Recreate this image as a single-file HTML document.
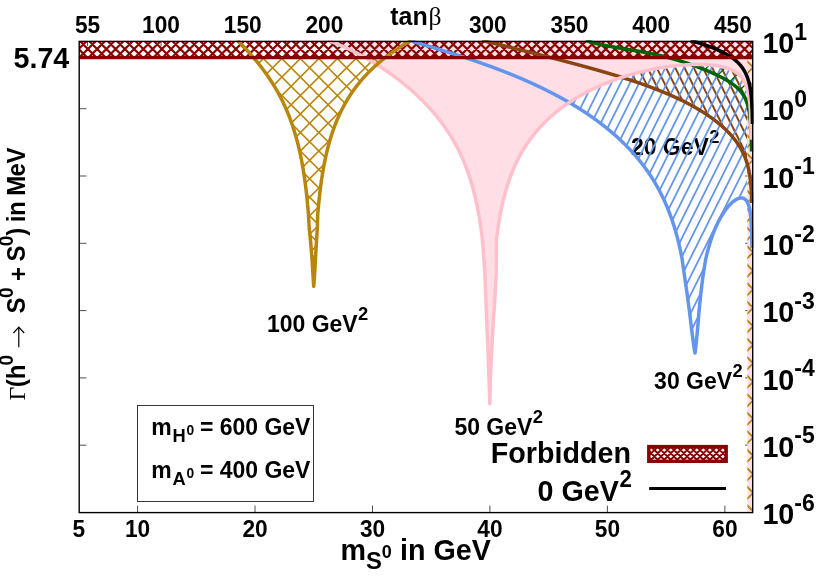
<!DOCTYPE html>
<html><head><meta charset="utf-8"><title>plot</title><style>html,body{margin:0;padding:0;background:#fff}body{width:830px;height:581px;overflow:hidden;font-family:"Liberation Sans",sans-serif}</style></head>
<body>
<svg width="830" height="581" viewBox="0 0 830 581" style="display:block;will-change:transform;opacity:0.999">
<rect width="830" height="581" fill="#fff"/>
<defs>
<clipPath id="cgold"><path d="M253.72,57.83 L253.97,58.12 L254.22,58.42 L254.47,58.71 L254.72,59.01 L254.97,59.31 L255.22,59.61 L255.47,59.91 L255.72,60.21 L255.97,60.51 L256.22,60.81 L256.47,61.12 L256.72,61.42 L256.97,61.73 L257.21,62.03 L257.46,62.34 L257.71,62.65 L257.96,62.96 L258.21,63.27 L258.46,63.58 L258.71,63.89 L258.96,64.21 L259.21,64.52 L259.46,64.84 L259.71,65.16 L259.96,65.47 L260.21,65.79 L260.46,66.11 L260.71,66.44 L260.96,66.76 L261.21,67.08 L261.46,67.41 L261.71,67.74 L261.96,68.06 L262.21,68.39 L262.46,68.72 L262.71,69.06 L262.96,69.39 L263.21,69.72 L263.46,70.06 L263.71,70.39 L263.96,70.73 L264.21,71.07 L264.45,71.41 L264.70,71.76 L264.95,72.10 L265.20,72.45 L265.45,72.79 L265.70,73.14 L265.95,73.49 L266.20,73.84 L266.45,74.19 L266.70,74.55 L266.95,74.90 L267.20,75.26 L267.45,75.62 L267.70,75.98 L267.95,76.34 L268.20,76.71 L268.45,77.07 L268.70,77.44 L268.95,77.81 L269.20,78.18 L269.45,78.55 L269.70,78.93 L269.95,79.30 L270.20,79.68 L270.45,80.06 L270.70,80.44 L270.95,80.83 L271.20,81.21 L271.45,81.60 L271.69,81.99 L271.94,82.38 L272.19,82.77 L272.44,83.17 L272.69,83.56 L272.94,83.96 L273.19,84.37 L273.44,84.77 L273.69,85.18 L273.94,85.58 L274.19,85.99 L274.44,86.41 L274.69,86.82 L274.94,87.24 L275.19,87.66 L275.44,88.08 L275.69,88.51 L275.94,88.93 L276.19,89.36 L276.44,89.80 L276.69,90.23 L276.94,90.67 L277.19,91.11 L277.44,91.55 L277.69,92.00 L277.94,92.44 L278.19,92.90 L278.44,93.35 L278.69,93.81 L278.93,94.27 L279.18,94.73 L279.43,95.20 L279.68,95.66 L279.93,96.14 L280.18,96.61 L280.43,97.09 L280.68,97.57 L280.93,98.06 L281.18,98.55 L281.43,99.04 L281.68,99.53 L281.93,100.03 L282.18,100.54 L282.43,101.04 L282.68,101.55 L282.93,102.07 L283.18,102.59 L283.43,103.11 L283.68,103.63 L283.93,104.16 L284.18,104.70 L284.43,105.24 L284.68,105.78 L284.93,106.33 L285.18,106.88 L285.43,107.44 L285.68,108.00 L285.93,108.56 L286.17,109.13 L286.42,109.71 L286.67,110.29 L286.92,110.87 L287.17,111.47 L287.42,112.06 L287.67,112.66 L287.92,113.27 L288.17,113.88 L288.42,114.50 L288.67,115.13 L288.92,115.76 L289.17,116.39 L289.42,117.04 L289.67,117.69 L289.92,118.34 L290.17,119.00 L290.42,119.67 L290.67,120.35 L290.92,121.03 L291.17,121.72 L291.42,122.42 L291.67,123.13 L291.92,123.84 L292.17,124.56 L292.42,125.29 L292.67,126.03 L292.92,126.78 L293.17,127.54 L293.41,128.30 L293.66,129.08 L293.91,129.86 L294.16,130.65 L294.41,131.46 L294.66,132.27 L294.91,133.10 L295.16,133.93 L295.41,134.78 L295.66,135.64 L295.91,136.51 L296.16,137.39 L296.41,138.29 L296.66,139.20 L296.91,140.12 L297.16,141.06 L297.41,142.01 L297.66,142.97 L297.72,143.22 L297.91,143.95 L298.16,144.95 L298.41,145.96 L298.66,146.99 L298.91,148.04 L299.14,149.03 L299.41,150.18 L299.58,150.97 L299.66,151.29 L299.91,152.41 L300.01,152.90 L300.16,153.55 L300.40,154.72 L300.65,155.91 L300.83,156.76 L300.90,157.12 L301.15,158.36 L301.22,158.69 L301.40,159.62 L301.60,160.62 L301.65,160.91 L301.90,162.22 L301.96,162.54 L302.15,163.57 L302.32,164.46 L302.40,164.95 L302.65,166.35 L302.90,167.80 L302.99,168.31 L303.15,169.27 L303.31,170.23 L303.40,170.79 L303.62,172.15 L303.90,173.93 L304.15,175.57 L304.21,175.99 L304.40,177.25 L304.49,177.90 L304.65,178.99 L304.77,179.82 L304.90,180.77 L305.03,181.73 L305.15,182.61 L305.29,183.65 L305.40,184.50 L305.53,185.56 L305.65,186.46 L305.77,187.47 L305.90,188.48 L306.01,189.38 L306.15,190.58 L306.23,191.29 L306.40,192.75 L306.45,193.20 L306.65,195.00 L306.86,197.02 L306.90,197.34 L307.06,198.93 L307.15,199.77 L307.25,200.84 L307.40,202.31 L307.44,202.74 L307.62,204.65 L307.64,204.97 L307.79,206.56 L307.89,207.75 L307.96,208.46 L308.12,210.37 L308.14,210.66 L308.28,212.27 L308.39,213.72 L308.43,214.17 L309.30,228.80 L310.70,242.50 L311.80,256.30 L312.70,270.10 L313.70,286.30 L314.90,270.10 L315.60,256.30 L316.40,242.50 L317.30,228.80 L317.70,214.91 L317.86,213.03 L317.88,212.73 L318.01,211.15 L318.13,209.79 L318.18,209.27 L318.34,207.39 L318.38,206.99 L318.52,205.52 L318.63,204.33 L318.70,203.64 L318.88,201.78 L319.07,199.88 L319.13,199.34 L319.27,198.01 L319.38,197.00 L319.47,196.13 L319.63,194.75 L319.68,194.26 L319.88,192.58 L320.13,190.51 L320.36,188.63 L320.60,186.76 L320.85,184.88 L321.10,183.01 L321.37,181.14 L321.63,179.36 L321.88,177.69 L321.92,177.39 L322.12,176.08 L322.21,175.52 L322.37,174.50 L322.51,173.65 L322.62,172.97 L322.82,171.78 L322.87,171.48 L323.12,170.03 L323.37,168.61 L323.47,168.05 L323.62,167.23 L323.82,166.18 L323.87,165.88 L324.12,164.56 L324.17,164.31 L324.37,163.27 L324.54,162.44 L324.62,162.01 L324.87,160.78 L325.12,159.57 L325.30,158.71 L325.37,158.39 L325.62,157.23 L325.70,156.85 L325.87,156.10 L326.12,154.99 L326.37,153.89 L326.55,153.12 L326.62,152.82 L326.87,151.77 L326.99,151.26 L327.12,150.74 L327.37,149.73 L327.45,149.40 L327.62,148.73 L327.87,147.75 L328.12,146.79 L328.37,145.84 L328.62,144.91 L328.87,144.00 L329.12,143.09 L329.36,142.21 L329.61,141.33 L329.86,140.47 L330.11,139.63 L330.36,138.79 L330.61,137.97 L330.86,137.16 L331.11,136.36 L331.36,135.57 L331.61,134.79 L331.86,134.02 L332.11,133.27 L332.36,132.52 L332.61,131.78 L332.86,131.05 L333.11,130.34 L333.36,129.63 L333.61,128.93 L333.86,128.23 L334.11,127.55 L334.36,126.87 L334.61,126.21 L334.86,125.55 L335.11,124.90 L335.36,124.25 L335.61,123.61 L335.86,122.98 L336.11,122.36 L336.36,121.74 L336.60,121.13 L336.85,120.53 L337.10,119.93 L337.35,119.34 L337.60,118.76 L337.85,118.18 L338.10,117.61 L338.35,117.04 L338.60,116.48 L338.85,115.92 L339.10,115.37 L339.35,114.83 L339.60,114.29 L339.85,113.75 L340.10,113.22 L340.35,112.70 L340.60,112.18 L340.85,111.66 L341.10,111.15 L341.35,110.65 L341.60,110.15 L341.85,109.65 L342.10,109.16 L342.35,108.67 L342.60,108.18 L342.85,107.70 L343.10,107.23 L343.35,106.76 L343.60,106.29 L343.84,105.82 L344.09,105.36 L344.34,104.91 L344.59,104.45 L344.84,104.00 L345.09,103.56 L345.34,103.12 L345.59,102.68 L345.84,102.24 L346.09,101.81 L346.34,101.38 L346.59,100.96 L346.84,100.53 L347.09,100.11 L347.34,99.70 L347.59,99.29 L347.84,98.88 L348.09,98.47 L348.34,98.07 L348.59,97.66 L348.84,97.27 L349.09,96.87 L349.34,96.48 L349.59,96.09 L349.84,95.70 L350.09,95.32 L350.34,94.93 L350.59,94.55 L350.83,94.18 L351.08,93.80 L351.33,93.43 L351.58,93.06 L351.83,92.69 L352.08,92.33 L352.33,91.97 L352.58,91.61 L352.83,91.25 L353.08,90.89 L353.33,90.54 L353.58,90.19 L353.83,89.84 L354.08,89.49 L354.33,89.15 L354.58,88.81 L354.83,88.47 L355.08,88.13 L355.33,87.79 L355.58,87.46 L355.83,87.13 L356.08,86.80 L356.33,86.47 L356.58,86.14 L356.83,85.82 L357.08,85.49 L357.33,85.17 L357.58,84.85 L357.83,84.54 L358.07,84.22 L358.32,83.91 L358.57,83.60 L358.82,83.29 L359.07,82.98 L359.32,82.67 L359.57,82.37 L359.82,82.06 L360.07,81.76 L360.32,81.46 L360.57,81.16 L360.82,80.87 L361.07,80.57 L361.32,80.28 L361.57,79.98 L361.82,79.69 L362.07,79.40 L362.32,79.12 L362.57,78.83 L362.82,78.55 L363.07,78.26 L363.32,77.98 L363.57,77.70 L363.82,77.42 L364.07,77.14 L364.32,76.87 L364.57,76.59 L364.82,76.32 L365.07,76.05 L365.31,75.77 L365.56,75.50 L365.81,75.24 L366.06,74.97 L366.31,74.70 L366.56,74.44 L366.81,74.18 L367.06,73.91 L367.31,73.65 L367.56,73.39 L367.81,73.13 L368.06,72.88 L368.31,72.62 L368.56,72.37 L368.81,72.11 L369.06,71.86 L369.31,71.61 L369.56,71.36 L369.81,71.11 L370.06,70.86 L370.31,70.61 L370.56,70.37 L370.81,70.12 L371.06,69.88 L371.31,69.64 L371.56,69.40 L371.81,69.16 L372.06,68.92 L372.31,68.68 L372.55,68.44 L372.80,68.20 L373.05,67.97 L373.30,67.73 L373.55,67.50 L373.80,67.27 L374.05,67.04 L374.30,66.81 L374.55,66.58 L374.80,66.35 L375.05,66.12 L375.30,65.89 L375.55,65.67 L375.80,65.44 L376.05,65.22 L376.30,65.00 L376.55,64.77 L376.80,64.55 L377.05,64.33 L377.30,64.11 L377.55,63.89 L377.80,63.68 L378.05,63.46 L378.30,63.24 L378.55,63.03 L378.80,62.81 L379.05,62.60 L379.30,62.39 L379.55,62.18 L379.79,61.97 L380.04,61.76 L380.29,61.55 L380.54,61.34 L380.79,61.13 L381.04,60.92 L381.29,60.72 L381.54,60.51 L381.79,60.31 L382.04,60.10 L382.29,59.90 L382.54,59.70 L382.79,59.50 L383.04,59.29 L383.29,59.09 L383.54,58.89 L383.79,58.70 L384.04,58.50 L384.29,58.30 L384.54,58.10 L384.79,57.91 L385.04,57.71Z"/></clipPath>
<clipPath id="cstrip"><rect x="747.4" y="57.6" width="5.300000000000068" height="455.0"/></clipPath>
<clipPath id="cband"><rect x="79.2" y="41.4" width="673.5" height="16.200000000000003"/></clipPath>
<clipPath id="cblue"><path d="M569.19,102.50 L569.52,102.28 L569.85,102.06 L570.19,101.84 L570.52,101.62 L570.85,101.40 L571.19,101.19 L571.52,100.97 L571.85,100.76 L572.19,100.54 L572.52,100.33 L572.85,100.12 L573.18,99.91 L573.52,99.70 L573.85,99.49 L574.18,99.29 L574.52,99.08 L574.85,98.87 L575.18,98.67 L575.52,98.47 L575.85,98.26 L576.18,98.06 L576.52,97.86 L576.85,97.66 L577.18,97.46 L577.51,97.27 L577.85,97.07 L578.18,96.87 L578.51,96.68 L578.85,96.48 L579.18,96.29 L579.51,96.10 L579.85,95.91 L580.18,95.72 L580.51,95.53 L580.85,95.34 L581.18,95.15 L581.51,94.96 L581.85,94.77 L582.18,94.59 L582.51,94.40 L582.84,94.22 L583.18,94.04 L583.51,93.85 L583.84,93.67 L584.18,93.49 L584.51,93.31 L584.84,93.13 L585.18,92.95 L585.51,92.78 L585.84,92.60 L586.18,92.42 L586.51,92.25 L586.84,92.07 L587.18,91.90 L587.51,91.73 L587.84,91.55 L588.17,91.38 L588.51,91.21 L588.84,91.04 L589.17,90.87 L589.51,90.70 L589.84,90.53 L590.17,90.37 L590.51,90.20 L590.84,90.04 L591.17,89.87 L591.51,89.71 L591.84,89.54 L592.17,89.38 L592.50,89.22 L592.84,89.06 L593.17,88.89 L593.50,88.73 L593.84,88.58 L594.17,88.42 L594.50,88.26 L594.84,88.10 L595.17,87.94 L595.50,87.79 L595.84,87.63 L596.17,87.48 L596.50,87.32 L596.84,87.17 L597.17,87.02 L597.50,86.87 L597.83,86.71 L598.17,86.56 L598.50,86.41 L598.83,86.26 L599.17,86.12 L599.50,85.97 L599.83,85.82 L600.17,85.67 L600.50,85.53 L600.83,85.38 L601.17,85.24 L601.50,85.09 L601.83,84.95 L602.16,84.80 L602.50,84.66 L602.83,84.52 L603.16,84.38 L603.50,84.24 L603.83,84.10 L604.16,83.96 L604.50,83.82 L604.83,83.68 L605.16,83.54 L605.50,83.41 L605.83,83.27 L606.16,83.13 L606.50,83.00 L606.83,82.86 L607.16,82.73 L607.49,82.60 L607.83,82.46 L608.16,82.33 L608.49,82.20 L608.83,82.07 L609.16,81.94 L609.49,81.81 L609.83,81.68 L610.16,81.55 L610.49,81.42 L610.83,81.29 L611.16,81.17 L611.49,81.04 L611.83,80.91 L612.16,80.79 L612.49,80.66 L612.82,80.54 L613.16,80.41 L613.49,80.29 L613.82,80.17 L614.16,80.04 L614.49,79.92 L614.82,79.80 L615.16,79.68 L615.49,79.56 L615.82,79.44 L616.16,79.32 L616.49,79.20 L616.82,79.09 L617.15,78.97 L617.49,78.85 L617.82,78.73 L618.15,78.62 L618.49,78.50 L618.82,78.39 L619.15,78.27 L619.49,78.16 L619.82,78.05 L620.15,77.93 L620.49,77.82 L620.82,77.71 L621.15,77.60 L621.49,77.49 L621.82,77.38 L622.15,77.27 L622.48,77.16 L622.82,77.05 L623.15,76.94 L623.48,76.84 L623.82,76.73 L624.15,76.62 L624.48,76.52 L624.82,76.41 L625.15,76.30 L625.48,76.20 L625.82,76.10 L626.15,75.99 L626.48,75.89 L626.81,75.79 L627.15,75.68 L627.48,75.58 L627.81,75.48 L628.15,75.38 L628.48,75.28 L628.81,75.18 L629.15,75.08 L629.48,74.98 L629.81,74.88 L630.15,74.79 L630.48,74.69 L630.81,74.59 L631.15,74.50 L631.48,74.40 L631.81,74.30 L632.14,74.21 L632.48,74.12 L632.81,74.02 L633.14,73.93 L633.48,73.83 L633.81,73.74 L634.14,73.65 L634.48,73.56 L634.81,73.47 L635.14,73.38 L635.48,73.29 L635.81,73.20 L636.14,73.11 L636.48,73.02 L636.81,72.93 L637.14,72.84 L637.47,72.75 L637.81,72.67 L638.14,72.58 L638.47,72.50 L638.81,72.41 L639.14,72.32 L639.47,72.24 L639.81,72.16 L640.14,72.07 L640.47,71.99 L640.81,71.91 L641.14,71.82 L641.47,71.74 L641.80,71.66 L642.14,71.58 L642.47,71.50 L642.80,71.42 L643.14,71.34 L643.47,71.26 L643.80,71.18 L644.14,71.10 L644.47,71.03 L644.80,70.95 L645.14,70.87 L645.47,70.79 L645.80,70.72 L646.14,70.64 L646.47,70.57 L646.80,70.49 L647.13,70.42 L647.47,70.35 L647.80,70.27 L648.13,70.20 L648.47,70.13 L648.80,70.05 L649.13,69.98 L649.47,69.91 L649.80,69.84 L650.13,69.77 L650.47,69.70 L650.80,69.63 L651.13,69.56 L651.46,69.49 L651.80,69.43 L652.13,69.36 L652.46,69.29 L652.80,69.22 L653.13,69.16 L653.46,69.09 L653.80,69.03 L654.13,68.96 L654.46,68.90 L654.80,68.83 L655.13,68.77 L655.46,68.71 L655.80,68.64 L656.13,68.58 L656.46,68.52 L656.79,68.46 L657.13,68.40 L657.46,68.34 L657.79,68.28 L658.13,68.22 L658.46,68.16 L658.79,68.10 L659.13,68.04 L659.46,67.98 L659.79,67.93 L660.13,67.87 L660.46,67.81 L660.79,67.76 L661.13,67.70 L661.46,67.65 L661.79,67.59 L662.12,67.54 L662.46,67.48 L662.79,67.43 L663.12,67.38 L663.46,67.32 L663.79,67.27 L664.12,67.22 L664.46,67.17 L664.79,67.12 L665.12,67.07 L665.46,67.02 L665.79,66.97 L666.12,66.92 L666.45,66.87 L666.79,66.82 L667.12,66.77 L667.45,66.73 L667.79,66.68 L668.12,66.63 L668.45,66.59 L668.79,66.54 L669.12,66.50 L669.45,66.45 L669.79,66.41 L670.12,66.37 L670.45,66.32 L670.79,66.28 L671.12,66.24 L671.45,66.20 L671.78,66.15 L672.12,66.11 L672.45,66.07 L672.78,66.03 L673.12,65.99 L673.45,65.95 L673.78,65.91 L674.12,65.88 L674.45,65.84 L674.78,65.80 L675.12,65.76 L675.45,65.73 L675.78,65.69 L676.11,65.66 L676.45,65.62 L676.78,65.59 L677.11,65.55 L677.45,65.52 L677.78,65.49 L678.11,65.45 L678.45,65.42 L678.78,65.39 L679.11,65.36 L679.45,65.33 L679.78,65.30 L680.11,65.27 L680.45,65.24 L680.78,65.21 L681.11,65.18 L681.44,65.15 L681.78,65.13 L682.11,65.10 L684.70,64.91 L687.20,64.75 L689.50,64.64 L691.60,64.55 L693.80,64.49 L695.00,64.46 L695.90,64.45 L697.60,64.44 L699.00,64.44 L700.70,64.46 L702.80,64.51 L705.76,64.63 L706.09,64.65 L706.43,64.67 L706.76,64.68 L707.09,64.70 L707.43,64.73 L707.76,64.75 L708.09,64.77 L708.43,64.79 L708.76,64.82 L709.09,64.84 L709.43,64.87 L709.76,64.90 L710.09,64.93 L710.43,64.95 L710.76,64.98 L711.09,65.02 L711.42,65.05 L711.76,65.08 L712.09,65.12 L712.42,65.15 L712.76,65.19 L713.09,65.22 L713.42,65.26 L713.76,65.30 L714.09,65.34 L714.42,65.39 L714.76,65.43 L715.09,65.47 L715.42,65.52 L715.75,65.57 L716.09,65.61 L716.42,65.66 L716.75,65.71 L717.09,65.77 L717.42,65.82 L717.75,65.88 L718.09,65.93 L718.42,65.99 L718.75,66.05 L719.09,66.11 L719.42,66.17 L719.75,66.24 L720.09,66.30 L720.42,66.37 L720.75,66.44 L721.08,66.51 L721.42,66.58 L721.75,66.65 L722.08,66.73 L722.42,66.81 L722.75,66.89 L723.08,66.97 L723.42,67.05 L723.75,67.14 L724.08,67.23 L724.42,67.32 L724.75,67.41 L725.08,67.50 L725.41,67.60 L725.75,67.70 L726.08,67.80 L726.41,67.90 L726.75,68.01 L727.08,68.12 L727.41,68.23 L727.75,68.34 L728.08,68.46 L728.41,68.58 L728.75,68.71 L729.08,68.83 L729.41,68.96 L729.75,69.09 L730.08,69.23 L730.41,69.37 L730.74,69.51 L731.08,69.66 L731.41,69.81 L731.74,69.97 L732.08,70.13 L732.41,70.29 L732.74,70.46 L733.08,70.63 L733.41,70.81 L733.74,70.99 L734.08,71.18 L734.41,71.38 L734.74,71.57 L735.08,71.78 L735.41,71.99 L735.74,72.21 L736.07,72.43 L736.41,72.66 L736.74,72.90 L737.07,73.15 L737.41,73.40 L737.74,73.66 L738.07,73.94 L738.41,74.22 L738.74,74.51 L739.07,74.81 L739.41,75.12 L739.74,75.44 L740.07,75.78 L740.40,76.13 L740.74,76.49 L741.07,76.87 L741.40,77.26 L741.74,77.67 L742.07,78.10 L742.40,78.54 L742.74,79.01 L743.07,79.50 L743.40,80.02 L743.74,80.56 L744.07,81.13 L744.40,81.73 L744.74,82.37 L745.07,83.05 L745.40,83.77 L745.73,84.54 L746.07,85.37 L746.40,86.26 L746.73,87.22 L747.07,88.26 L747.40,89.40 L747.40,202.28 L747.07,201.69 L746.73,201.16 L746.40,200.69 L746.07,200.28 L745.73,199.91 L745.40,199.59 L745.07,199.30 L744.74,199.05 L744.40,198.83 L744.07,198.63 L743.74,198.47 L743.40,198.33 L743.07,198.22 L742.74,198.13 L742.40,198.06 L742.07,198.01 L741.74,197.97 L741.40,197.96 L741.07,197.96 L740.74,197.98 L740.40,198.01 L740.07,198.06 L739.74,198.12 L739.41,198.20 L739.07,198.28 L738.74,198.38 L738.41,198.50 L738.07,198.62 L737.74,198.76 L737.41,198.90 L737.07,199.06 L736.74,199.22 L736.41,199.40 L736.07,199.59 L735.74,199.78 L735.41,199.99 L735.08,200.20 L734.74,200.43 L734.41,200.66 L734.08,200.90 L733.74,201.15 L733.41,201.41 L733.08,201.68 L732.74,201.95 L732.41,202.24 L732.08,202.53 L731.74,202.83 L731.41,203.14 L731.08,203.45 L730.74,203.78 L730.41,204.11 L730.08,204.45 L729.75,204.80 L729.41,205.15 L729.08,205.52 L728.75,205.89 L728.41,206.27 L728.08,206.66 L727.75,207.05 L727.41,207.45 L727.08,207.87 L726.75,208.28 L726.41,208.71 L726.08,209.15 L725.75,209.59 L725.41,210.04 L725.08,210.50 L724.75,210.97 L724.42,211.45 L724.08,211.94 L723.75,212.43 L723.42,212.94 L723.08,213.45 L722.75,213.97 L722.42,214.50 L722.08,215.04 L721.75,215.59 L721.42,216.15 L721.08,216.72 L720.75,217.30 L720.42,217.88 L720.09,218.48 L719.75,219.09 L719.42,219.71 L719.09,220.34 L718.75,220.99 L718.42,221.64 L718.09,222.31 L717.75,222.98 L717.42,223.67 L717.09,224.37 L716.75,225.09 L716.42,225.81 L716.09,226.55 L715.75,227.31 L715.42,228.07 L715.09,228.86 L714.76,229.65 L714.42,230.47 L714.09,231.29 L713.76,232.14 L713.42,233.00 L713.09,233.87 L712.76,234.77 L712.42,235.68 L712.09,236.61 L711.76,237.56 L711.42,238.54 L711.09,239.53 L710.76,240.54 L710.43,241.58 L710.09,242.64 L709.76,243.72 L709.43,244.83 L709.09,245.96 L708.76,247.12 L708.43,248.31 L708.09,249.53 L707.76,250.77 L707.43,252.06 L707.09,253.37 L706.76,254.72 L706.43,256.11 L706.09,257.53 L705.76,259.00 L702.80,277.20 L700.70,294.50 L699.00,311.70 L697.60,329.00 L695.90,346.20 L695.00,353.10 L693.80,346.20 L691.60,329.00 L689.50,311.70 L687.20,294.50 L684.70,277.20 L682.11,259.12 L681.78,257.35 L681.44,255.63 L681.11,253.96 L680.78,252.34 L680.45,250.75 L680.11,249.20 L679.78,247.69 L679.45,246.22 L679.11,244.77 L678.78,243.36 L678.45,241.99 L678.11,240.63 L677.78,239.31 L677.45,238.02 L677.11,236.75 L676.78,235.50 L676.45,234.28 L676.11,233.08 L675.78,231.90 L675.45,230.75 L675.12,229.61 L674.78,228.50 L674.45,227.40 L674.12,226.32 L673.78,225.26 L673.45,224.22 L673.12,223.19 L672.78,222.18 L672.45,221.18 L672.12,220.20 L671.78,219.23 L671.45,218.28 L671.12,217.34 L670.79,216.41 L670.45,215.50 L670.12,214.60 L669.79,213.71 L669.45,212.83 L669.12,211.96 L668.79,211.11 L668.45,210.27 L668.12,209.43 L667.79,208.61 L667.45,207.80 L667.12,206.99 L666.79,206.20 L666.45,205.41 L666.12,204.64 L665.79,203.87 L665.46,203.11 L665.12,202.37 L664.79,201.62 L664.46,200.89 L664.12,200.17 L663.79,199.45 L663.46,198.74 L663.12,198.03 L662.79,197.34 L662.46,196.65 L662.12,195.97 L661.79,195.29 L661.46,194.62 L661.13,193.96 L660.79,193.31 L660.46,192.66 L660.13,192.01 L659.79,191.38 L659.46,190.74 L659.13,190.12 L658.79,189.50 L658.46,188.88 L658.13,188.27 L657.79,187.67 L657.46,187.07 L657.13,186.48 L656.79,185.89 L656.46,185.31 L656.13,184.73 L655.80,184.15 L655.46,183.58 L655.13,183.02 L654.80,182.46 L654.46,181.90 L654.13,181.35 L653.80,180.80 L653.46,180.26 L653.13,179.72 L652.80,179.19 L652.46,178.65 L652.13,178.13 L651.80,177.60 L651.46,177.09 L651.13,176.57 L650.80,176.06 L650.47,175.55 L650.13,175.05 L649.80,174.54 L649.47,174.05 L649.13,173.55 L648.80,173.06 L648.47,172.58 L648.13,172.09 L647.80,171.61 L647.47,171.13 L647.13,170.66 L646.80,170.19 L646.47,169.72 L646.14,169.25 L645.80,168.79 L645.47,168.33 L645.14,167.88 L644.80,167.42 L644.47,166.97 L644.14,166.52 L643.80,166.08 L643.47,165.64 L643.14,165.20 L642.80,164.76 L642.47,164.32 L642.14,163.89 L641.80,163.46 L641.47,163.04 L641.14,162.61 L640.81,162.19 L640.47,161.77 L640.14,161.35 L639.81,160.94 L639.47,160.53 L639.14,160.12 L638.81,159.71 L638.47,159.30 L638.14,158.90 L637.81,158.50 L637.47,158.10 L637.14,157.70 L636.81,157.31 L636.48,156.91 L636.14,156.52 L635.81,156.13 L635.48,155.75 L635.14,155.36 L634.81,154.98 L634.48,154.60 L634.14,154.22 L633.81,153.84 L633.48,153.47 L633.14,153.09 L632.81,152.72 L632.48,152.35 L632.14,151.99 L631.81,151.62 L631.48,151.26 L631.15,150.89 L630.81,150.53 L630.48,150.17 L630.15,149.82 L629.81,149.46 L629.48,149.11 L629.15,148.75 L628.81,148.40 L628.48,148.06 L628.15,147.71 L627.81,147.36 L627.48,147.02 L627.15,146.68 L626.81,146.33 L626.48,145.99 L626.15,145.66 L625.82,145.32 L625.48,144.98 L625.15,144.65 L624.82,144.32 L624.48,143.99 L624.15,143.66 L623.82,143.33 L623.48,143.00 L623.15,142.68 L622.82,142.36 L622.48,142.03 L622.15,141.71 L621.82,141.39 L621.49,141.07 L621.15,140.76 L620.82,140.44 L620.49,140.13 L620.15,139.81 L619.82,139.50 L619.49,139.19 L619.15,138.88 L618.82,138.57 L618.49,138.27 L618.15,137.96 L617.82,137.66 L617.49,137.35 L617.15,137.05 L616.82,136.75 L616.49,136.45 L616.16,136.15 L615.82,135.85 L615.49,135.56 L615.16,135.26 L614.82,134.97 L614.49,134.67 L614.16,134.38 L613.82,134.09 L613.49,133.80 L613.16,133.51 L612.82,133.23 L612.49,132.94 L612.16,132.65 L611.83,132.37 L611.49,132.09 L611.16,131.80 L610.83,131.52 L610.49,131.24 L610.16,130.96 L609.83,130.68 L609.49,130.41 L609.16,130.13 L608.83,129.85 L608.49,129.58 L608.16,129.31 L607.83,129.03 L607.49,128.76 L607.16,128.49 L606.83,128.22 L606.50,127.95 L606.16,127.69 L605.83,127.42 L605.50,127.15 L605.16,126.89 L604.83,126.62 L604.50,126.36 L604.16,126.10 L603.83,125.84 L603.50,125.57 L603.16,125.31 L602.83,125.06 L602.50,124.80 L602.16,124.54 L601.83,124.28 L601.50,124.03 L601.17,123.77 L600.83,123.52 L600.50,123.27 L600.17,123.01 L599.83,122.76 L599.50,122.51 L599.17,122.26 L598.83,122.01 L598.50,121.76 L598.17,121.51 L597.83,121.27 L597.50,121.02 L597.17,120.78 L596.84,120.53 L596.50,120.29 L596.17,120.04 L595.84,119.80 L595.50,119.56 L595.17,119.32 L594.84,119.08 L594.50,118.84 L594.17,118.60 L593.84,118.36 L593.50,118.13 L593.17,117.89 L592.84,117.65 L592.50,117.42 L592.17,117.18 L591.84,116.95 L591.51,116.72 L591.17,116.48 L590.84,116.25 L590.51,116.02 L590.17,115.79 L589.84,115.56 L589.51,115.33 L589.17,115.10 L588.84,114.88 L588.51,114.65 L588.17,114.42 L587.84,114.20 L587.51,113.97 L587.18,113.75 L586.84,113.52 L586.51,113.30 L586.18,113.08 L585.84,112.86 L585.51,112.63 L585.18,112.41 L584.84,112.19 L584.51,111.97 L584.18,111.76 L583.84,111.54 L583.51,111.32 L583.18,111.10 L582.84,110.89 L582.51,110.67 L582.18,110.45 L581.85,110.24 L581.51,110.03 L581.18,109.81 L580.85,109.60 L580.51,109.39 L580.18,109.17 L579.85,108.96 L579.51,108.75 L579.18,108.54 L578.85,108.33 L578.51,108.12 L578.18,107.91 L577.85,107.71 L577.51,107.50 L577.18,107.29 L576.85,107.09 L576.52,106.88 L576.18,106.67 L575.85,106.47 L575.52,106.27 L575.18,106.06 L574.85,105.86 L574.52,105.66 L574.18,105.45 L573.85,105.25 L573.52,105.05 L573.18,104.85 L572.85,104.65 L572.52,104.45 L572.19,104.25 L571.85,104.05 L571.52,103.86 L571.19,103.66 L570.85,103.46 L570.52,103.26 L570.19,103.07 L569.85,102.87 L569.52,102.68 L569.19,102.48Z"/></clipPath>
<clipPath id="cbrown"><path d="M621.85,77.37 L622.18,77.26 L622.52,77.15 L622.85,77.04 L623.18,76.93 L623.52,76.83 L623.85,76.72 L624.18,76.61 L624.51,76.51 L624.85,76.40 L625.18,76.29 L625.51,76.19 L625.85,76.09 L626.18,75.98 L626.51,75.88 L626.85,75.78 L627.18,75.67 L627.51,75.57 L627.84,75.47 L628.18,75.37 L628.51,75.27 L628.84,75.17 L629.18,75.07 L629.51,74.97 L629.84,74.88 L630.18,74.78 L630.51,74.68 L630.84,74.58 L631.18,74.49 L631.51,74.39 L631.84,74.30 L632.17,74.20 L632.51,74.11 L632.84,74.01 L633.17,73.92 L633.51,73.83 L633.84,73.73 L634.17,73.64 L634.51,73.55 L634.84,73.46 L635.17,73.37 L635.50,73.28 L635.84,73.19 L636.17,73.10 L636.50,73.01 L636.84,72.92 L637.17,72.83 L637.50,72.75 L637.84,72.66 L638.17,72.57 L638.50,72.49 L638.83,72.40 L639.17,72.32 L639.50,72.23 L639.83,72.15 L640.17,72.07 L640.50,71.98 L640.83,71.90 L641.17,71.82 L641.50,71.74 L641.83,71.65 L642.16,71.57 L642.50,71.49 L642.83,71.41 L643.16,71.33 L643.50,71.25 L643.83,71.18 L644.16,71.10 L644.50,71.02 L644.83,70.94 L645.16,70.86 L645.50,70.79 L645.83,70.71 L646.16,70.64 L646.49,70.56 L646.83,70.49 L647.16,70.41 L647.49,70.34 L647.83,70.27 L648.16,70.19 L648.49,70.12 L648.83,70.05 L649.16,69.98 L649.49,69.91 L649.82,69.84 L650.16,69.77 L650.49,69.70 L650.82,69.63 L651.16,69.56 L651.49,69.49 L651.82,69.42 L652.16,69.35 L652.49,69.29 L652.82,69.22 L653.15,69.15 L653.49,69.09 L653.82,69.02 L654.15,68.96 L654.49,68.89 L654.82,68.83 L655.15,68.77 L655.49,68.70 L655.82,68.64 L656.15,68.58 L656.48,68.52 L656.82,68.45 L657.15,68.39 L657.48,68.33 L657.82,68.27 L658.15,68.21 L658.48,68.15 L658.82,68.10 L659.15,68.04 L659.48,67.98 L659.82,67.92 L660.15,67.87 L660.48,67.81 L660.81,67.75 L661.15,67.70 L661.48,67.64 L661.81,67.59 L662.15,67.53 L662.48,67.48 L662.81,67.43 L663.15,67.37 L663.48,67.32 L663.81,67.27 L664.14,67.22 L664.48,67.17 L664.81,67.11 L665.14,67.06 L665.48,67.01 L665.81,66.96 L666.14,66.92 L666.48,66.87 L666.81,66.82 L667.14,66.77 L667.47,66.72 L667.81,66.68 L668.14,66.63 L668.47,66.59 L668.81,66.54 L669.14,66.50 L669.47,66.45 L669.81,66.41 L670.14,66.36 L670.47,66.32 L670.80,66.28 L671.14,66.23 L671.47,66.19 L671.80,66.15 L672.14,66.11 L672.47,66.07 L672.80,66.03 L673.14,65.99 L673.47,65.95 L673.80,65.91 L674.14,65.87 L674.47,65.84 L674.80,65.80 L675.13,65.76 L675.47,65.73 L675.80,65.69 L676.13,65.66 L676.47,65.62 L676.80,65.59 L677.13,65.55 L677.47,65.52 L677.80,65.49 L678.13,65.45 L678.46,65.42 L678.80,65.39 L679.13,65.36 L679.46,65.33 L679.80,65.30 L680.13,65.27 L680.46,65.24 L680.80,65.21 L681.13,65.18 L681.46,65.15 L681.79,65.13 L682.13,65.10 L682.46,65.07 L682.79,65.05 L683.13,65.02 L683.46,65.00 L683.79,64.97 L684.13,64.95 L684.46,64.93 L684.79,64.90 L685.12,64.88 L685.46,64.86 L685.79,64.84 L686.12,64.82 L686.46,64.80 L686.79,64.78 L687.12,64.76 L687.46,64.74 L687.79,64.72 L688.12,64.70 L688.45,64.69 L688.79,64.67 L689.12,64.65 L689.45,64.64 L689.79,64.62 L690.12,64.61 L690.45,64.60 L690.79,64.58 L691.12,64.57 L691.45,64.56 L691.79,64.55 L692.12,64.53 L692.45,64.52 L692.78,64.51 L693.12,64.51 L693.45,64.50 L693.78,64.49 L694.12,64.48 L694.45,64.47 L694.78,64.47 L695.12,64.46 L695.45,64.46 L695.78,64.45 L696.11,64.45 L696.45,64.45 L696.78,64.44 L697.11,64.44 L697.45,64.44 L697.78,64.44 L698.11,64.44 L698.45,64.44 L698.78,64.44 L699.11,64.44 L699.44,64.45 L699.78,64.45 L700.11,64.45 L700.44,64.46 L700.78,64.46 L701.11,64.47 L701.44,64.48 L701.78,64.48 L702.11,64.49 L702.44,64.50 L702.77,64.51 L703.11,64.52 L703.44,64.53 L703.77,64.54 L704.11,64.56 L704.44,64.57 L704.77,64.58 L705.11,64.60 L705.44,64.61 L705.77,64.63 L706.11,64.65 L706.44,64.67 L706.77,64.69 L707.10,64.71 L707.44,64.73 L707.77,64.75 L708.10,64.77 L708.44,64.79 L708.77,64.82 L709.10,64.84 L709.44,64.87 L709.77,64.90 L710.10,64.93 L710.43,64.96 L710.77,64.99 L711.10,65.02 L711.43,65.05 L711.77,65.08 L712.10,65.12 L712.43,65.15 L712.77,65.19 L713.10,65.23 L713.43,65.26 L713.76,65.30 L714.10,65.34 L714.43,65.39 L714.76,65.43 L715.10,65.47 L715.43,65.52 L715.76,65.57 L716.10,65.62 L716.43,65.67 L716.76,65.72 L717.09,65.77 L717.43,65.82 L717.76,65.88 L718.09,65.93 L718.43,65.99 L718.76,66.05 L719.09,66.11 L719.43,66.17 L719.76,66.24 L720.09,66.30 L720.43,66.37 L720.76,66.44 L721.09,66.51 L721.42,66.58 L721.76,66.66 L722.09,66.73 L722.42,66.81 L722.76,66.89 L723.09,66.97 L723.42,67.05 L723.76,67.14 L724.09,67.23 L724.42,67.32 L724.75,67.41 L725.09,67.50 L725.42,67.60 L725.75,67.70 L726.09,67.80 L726.42,67.90 L726.75,68.01 L727.09,68.12 L727.42,68.23 L727.75,68.35 L728.08,68.46 L728.42,68.58 L728.75,68.71 L729.08,68.83 L729.42,68.96 L729.75,69.10 L730.08,69.23 L730.42,69.37 L730.75,69.52 L731.08,69.66 L731.41,69.81 L731.75,69.97 L732.08,70.13 L732.41,70.29 L732.75,70.46 L733.08,70.64 L733.41,70.81 L733.75,71.00 L734.08,71.18 L734.41,71.38 L734.75,71.58 L735.08,71.78 L735.41,71.99 L735.74,72.21 L736.08,72.43 L736.41,72.66 L736.74,72.90 L737.08,73.15 L737.41,73.40 L737.74,73.67 L738.08,73.94 L738.41,74.22 L738.74,74.51 L739.07,74.81 L739.41,75.12 L739.74,75.44 L740.07,75.78 L740.41,76.13 L740.74,76.49 L741.07,76.87 L741.41,77.26 L741.74,77.67 L742.07,78.10 L742.40,78.54 L742.74,79.01 L743.07,79.50 L743.40,80.02 L743.74,80.56 L744.07,81.13 L744.40,81.74 L744.74,82.37 L745.07,83.05 L745.40,83.77 L745.73,84.54 L746.07,85.37 L746.40,86.26 L746.73,87.22 L747.07,88.26 L747.40,89.40 L747.40,164.44 L747.07,163.29 L746.73,162.21 L746.40,161.18 L746.07,160.20 L745.73,159.26 L745.40,158.36 L745.07,157.50 L744.74,156.67 L744.40,155.86 L744.07,155.09 L743.74,154.34 L743.40,153.62 L743.07,152.91 L742.74,152.23 L742.40,151.56 L742.07,150.92 L741.74,150.28 L741.41,149.67 L741.07,149.07 L740.74,148.48 L740.41,147.90 L740.07,147.34 L739.74,146.79 L739.41,146.25 L739.07,145.72 L738.74,145.20 L738.41,144.69 L738.08,144.18 L737.74,143.69 L737.41,143.21 L737.08,142.73 L736.74,142.26 L736.41,141.80 L736.08,141.34 L735.74,140.89 L735.41,140.45 L735.08,140.01 L734.75,139.58 L734.41,139.16 L734.08,138.74 L733.75,138.33 L733.41,137.92 L733.08,137.52 L732.75,137.12 L732.41,136.72 L732.08,136.33 L731.75,135.95 L731.41,135.57 L731.08,135.19 L730.75,134.82 L730.42,134.45 L730.08,134.09 L729.75,133.73 L729.42,133.37 L729.08,133.02 L728.75,132.67 L728.42,132.32 L728.08,131.98 L727.75,131.64 L727.42,131.31 L727.09,130.97 L726.75,130.64 L726.42,130.31 L726.09,129.99 L725.75,129.67 L725.42,129.35 L725.09,129.03 L724.75,128.72 L724.42,128.41 L724.09,128.10 L723.76,127.79 L723.42,127.49 L723.09,127.18 L722.76,126.88 L722.42,126.59 L722.09,126.29 L721.76,126.00 L721.42,125.71 L721.09,125.42 L720.76,125.13 L720.43,124.85 L720.09,124.57 L719.76,124.29 L719.43,124.01 L719.09,123.73 L718.76,123.46 L718.43,123.19 L718.09,122.91 L717.76,122.65 L717.43,122.38 L717.09,122.11 L716.76,121.85 L716.43,121.59 L716.10,121.32 L715.76,121.07 L715.43,120.81 L715.10,120.55 L714.76,120.30 L714.43,120.04 L714.10,119.79 L713.76,119.54 L713.43,119.29 L713.10,119.05 L712.77,118.80 L712.43,118.56 L712.10,118.31 L711.77,118.07 L711.43,117.83 L711.10,117.59 L710.77,117.36 L710.43,117.12 L710.10,116.88 L709.77,116.65 L709.44,116.42 L709.10,116.19 L708.77,115.96 L708.44,115.73 L708.10,115.50 L707.77,115.27 L707.44,115.05 L707.10,114.82 L706.77,114.60 L706.44,114.38 L706.11,114.16 L705.77,113.94 L705.44,113.72 L705.11,113.50 L704.77,113.29 L704.44,113.07 L704.11,112.86 L703.77,112.64 L703.44,112.43 L703.11,112.22 L702.77,112.01 L702.44,111.80 L702.11,111.59 L701.78,111.38 L701.44,111.18 L701.11,110.97 L700.78,110.77 L700.44,110.56 L700.11,110.36 L699.78,110.16 L699.44,109.96 L699.11,109.76 L698.78,109.56 L698.45,109.36 L698.11,109.16 L697.78,108.97 L697.45,108.77 L697.11,108.57 L696.78,108.38 L696.45,108.19 L696.11,107.99 L695.78,107.80 L695.45,107.61 L695.12,107.42 L694.78,107.23 L694.45,107.04 L694.12,106.86 L693.78,106.67 L693.45,106.48 L693.12,106.30 L692.78,106.11 L692.45,105.93 L692.12,105.74 L691.79,105.56 L691.45,105.38 L691.12,105.20 L690.79,105.02 L690.45,104.84 L690.12,104.66 L689.79,104.48 L689.45,104.30 L689.12,104.13 L688.79,103.95 L688.45,103.77 L688.12,103.60 L687.79,103.43 L687.46,103.25 L687.12,103.08 L686.79,102.91 L686.46,102.73 L686.12,102.56 L685.79,102.39 L685.46,102.22 L685.12,102.05 L684.79,101.89 L684.46,101.72 L684.13,101.55 L683.79,101.38 L683.46,101.22 L683.13,101.05 L682.79,100.89 L682.46,100.72 L682.13,100.56 L681.79,100.39 L681.46,100.23 L681.13,100.07 L680.80,99.91 L680.46,99.75 L680.13,99.59 L679.80,99.43 L679.46,99.27 L679.13,99.11 L678.80,98.95 L678.46,98.79 L678.13,98.63 L677.80,98.48 L677.47,98.32 L677.13,98.16 L676.80,98.01 L676.47,97.85 L676.13,97.70 L675.80,97.55 L675.47,97.39 L675.13,97.24 L674.80,97.09 L674.47,96.94 L674.14,96.78 L673.80,96.63 L673.47,96.48 L673.14,96.33 L672.80,96.18 L672.47,96.03 L672.14,95.89 L671.80,95.74 L671.47,95.59 L671.14,95.44 L670.80,95.30 L670.47,95.15 L670.14,95.00 L669.81,94.86 L669.47,94.71 L669.14,94.57 L668.81,94.43 L668.47,94.28 L668.14,94.14 L667.81,94.00 L667.47,93.85 L667.14,93.71 L666.81,93.57 L666.48,93.43 L666.14,93.29 L665.81,93.15 L665.48,93.01 L665.14,92.87 L664.81,92.73 L664.48,92.59 L664.14,92.45 L663.81,92.32 L663.48,92.18 L663.15,92.04 L662.81,91.90 L662.48,91.77 L662.15,91.63 L661.81,91.50 L661.48,91.36 L661.15,91.23 L660.81,91.09 L660.48,90.96 L660.15,90.82 L659.82,90.69 L659.48,90.56 L659.15,90.42 L658.82,90.29 L658.48,90.16 L658.15,90.03 L657.82,89.90 L657.48,89.77 L657.15,89.64 L656.82,89.51 L656.48,89.38 L656.15,89.25 L655.82,89.12 L655.49,88.99 L655.15,88.86 L654.82,88.73 L654.49,88.60 L654.15,88.48 L653.82,88.35 L653.49,88.22 L653.15,88.09 L652.82,87.97 L652.49,87.84 L652.16,87.72 L651.82,87.59 L651.49,87.47 L651.16,87.34 L650.82,87.22 L650.49,87.09 L650.16,86.97 L649.82,86.85 L649.49,86.72 L649.16,86.60 L648.83,86.48 L648.49,86.35 L648.16,86.23 L647.83,86.11 L647.49,85.99 L647.16,85.87 L646.83,85.75 L646.49,85.63 L646.16,85.51 L645.83,85.39 L645.50,85.27 L645.16,85.15 L644.83,85.03 L644.50,84.91 L644.16,84.79 L643.83,84.67 L643.50,84.55 L643.16,84.43 L642.83,84.32 L642.50,84.20 L642.16,84.08 L641.83,83.96 L641.50,83.85 L641.17,83.73 L640.83,83.62 L640.50,83.50 L640.17,83.38 L639.83,83.27 L639.50,83.15 L639.17,83.04 L638.83,82.92 L638.50,82.81 L638.17,82.69 L637.84,82.58 L637.50,82.47 L637.17,82.35 L636.84,82.24 L636.50,82.13 L636.17,82.01 L635.84,81.90 L635.50,81.79 L635.17,81.68 L634.84,81.56 L634.51,81.45 L634.17,81.34 L633.84,81.23 L633.51,81.12 L633.17,81.01 L632.84,80.90 L632.51,80.79 L632.17,80.68 L631.84,80.57 L631.51,80.46 L631.18,80.35 L630.84,80.24 L630.51,80.13 L630.18,80.02 L629.84,79.91 L629.51,79.80 L629.18,79.69 L628.84,79.59 L628.51,79.48 L628.18,79.37 L627.84,79.26 L627.51,79.16 L627.18,79.05 L626.85,78.94 L626.51,78.83 L626.18,78.73 L625.85,78.62 L625.51,78.52 L625.18,78.41 L624.85,78.30 L624.51,78.20 L624.18,78.09 L623.85,77.99 L623.52,77.88 L623.18,77.78 L622.85,77.67 L622.52,77.57 L622.18,77.46 L621.85,77.36Z"/></clipPath>
<clipPath id="cgreen"><path d="M691.10,64.57 L691.43,64.56 L691.76,64.55 L692.09,64.54 L692.43,64.53 L692.76,64.52 L693.09,64.51 L693.43,64.50 L693.76,64.49 L694.09,64.48 L694.43,64.47 L694.76,64.47 L695.09,64.46 L695.43,64.46 L695.76,64.45 L696.09,64.45 L696.43,64.45 L696.76,64.44 L697.09,64.44 L697.43,64.44 L697.76,64.44 L698.09,64.44 L698.42,64.44 L698.76,64.44 L699.09,64.44 L699.42,64.44 L699.76,64.45 L700.09,64.45 L700.42,64.46 L700.76,64.46 L701.09,64.47 L701.42,64.47 L701.76,64.48 L702.09,64.49 L702.42,64.50 L702.76,64.51 L703.09,64.52 L703.42,64.53 L703.76,64.54 L704.09,64.55 L704.42,64.57 L704.76,64.58 L705.09,64.60 L705.42,64.61 L705.75,64.63 L706.09,64.65 L706.42,64.67 L706.75,64.68 L707.09,64.70 L707.42,64.73 L707.75,64.75 L708.09,64.77 L708.42,64.79 L708.75,64.82 L709.09,64.84 L709.42,64.87 L709.75,64.90 L710.09,64.92 L710.42,64.95 L710.75,64.98 L711.09,65.02 L711.42,65.05 L711.75,65.08 L712.08,65.11 L712.42,65.15 L712.75,65.19 L713.08,65.22 L713.42,65.26 L713.75,65.30 L714.08,65.34 L714.42,65.39 L714.75,65.43 L715.08,65.47 L715.42,65.52 L715.75,65.57 L716.08,65.61 L716.42,65.66 L716.75,65.71 L717.08,65.77 L717.42,65.82 L717.75,65.87 L718.08,65.93 L718.41,65.99 L718.75,66.05 L719.08,66.11 L719.41,66.17 L719.75,66.24 L720.08,66.30 L720.41,66.37 L720.75,66.44 L721.08,66.51 L721.41,66.58 L721.75,66.65 L722.08,66.73 L722.41,66.81 L722.75,66.89 L723.08,66.97 L723.41,67.05 L723.75,67.14 L724.08,67.22 L724.41,67.31 L724.74,67.41 L725.08,67.50 L725.41,67.60 L725.74,67.70 L726.08,67.80 L726.41,67.90 L726.74,68.01 L727.08,68.12 L727.41,68.23 L727.74,68.34 L728.08,68.46 L728.41,68.58 L728.74,68.70 L729.08,68.83 L729.41,68.96 L729.74,69.09 L730.08,69.23 L730.41,69.37 L730.74,69.51 L731.07,69.66 L731.41,69.81 L731.74,69.97 L732.07,70.13 L732.41,70.29 L732.74,70.46 L733.07,70.63 L733.41,70.81 L733.74,70.99 L734.07,71.18 L734.41,71.37 L734.74,71.57 L735.07,71.78 L735.41,71.99 L735.74,72.21 L736.07,72.43 L736.41,72.66 L736.74,72.90 L737.07,73.15 L737.41,73.40 L737.74,73.66 L738.07,73.93 L738.40,74.21 L738.74,74.50 L739.07,74.81 L739.40,75.12 L739.74,75.44 L740.07,75.78 L740.40,76.12 L740.74,76.49 L741.07,76.86 L741.40,77.26 L741.74,77.67 L742.07,78.09 L742.40,78.54 L742.74,79.01 L743.07,79.50 L743.40,80.02 L743.74,80.56 L744.07,81.13 L744.40,81.73 L744.73,82.37 L745.07,83.05 L745.40,83.77 L745.73,84.54 L746.07,85.37 L746.40,86.26 L746.73,87.21 L747.07,88.26 L747.40,89.40 L747.40,104.20 L747.07,103.17 L746.73,102.22 L746.40,101.33 L746.07,100.49 L745.73,99.71 L745.40,98.97 L745.07,98.28 L744.73,97.61 L744.40,96.98 L744.07,96.38 L743.74,95.81 L743.40,95.26 L743.07,94.73 L742.74,94.22 L742.40,93.74 L742.07,93.27 L741.74,92.81 L741.40,92.37 L741.07,91.95 L740.74,91.54 L740.40,91.14 L740.07,90.75 L739.74,90.37 L739.40,90.00 L739.07,89.65 L738.74,89.30 L738.40,88.96 L738.07,88.63 L737.74,88.30 L737.41,87.99 L737.07,87.68 L736.74,87.37 L736.41,87.08 L736.07,86.79 L735.74,86.50 L735.41,86.22 L735.07,85.95 L734.74,85.68 L734.41,85.41 L734.07,85.15 L733.74,84.89 L733.41,84.64 L733.07,84.39 L732.74,84.15 L732.41,83.90 L732.07,83.67 L731.74,83.43 L731.41,83.20 L731.07,82.97 L730.74,82.75 L730.41,82.52 L730.08,82.30 L729.74,82.09 L729.41,81.87 L729.08,81.66 L728.74,81.45 L728.41,81.24 L728.08,81.04 L727.74,80.83 L727.41,80.63 L727.08,80.43 L726.74,80.23 L726.41,80.04 L726.08,79.85 L725.74,79.65 L725.41,79.46 L725.08,79.27 L724.74,79.09 L724.41,78.90 L724.08,78.72 L723.75,78.54 L723.41,78.35 L723.08,78.18 L722.75,78.00 L722.41,77.82 L722.08,77.64 L721.75,77.47 L721.41,77.30 L721.08,77.12 L720.75,76.95 L720.41,76.78 L720.08,76.61 L719.75,76.45 L719.41,76.28 L719.08,76.11 L718.75,75.95 L718.41,75.79 L718.08,75.62 L717.75,75.46 L717.42,75.30 L717.08,75.14 L716.75,74.98 L716.42,74.82 L716.08,74.66 L715.75,74.51 L715.42,74.35 L715.08,74.20 L714.75,74.04 L714.42,73.89 L714.08,73.74 L713.75,73.58 L713.42,73.43 L713.08,73.28 L712.75,73.13 L712.42,72.98 L712.08,72.83 L711.75,72.69 L711.42,72.54 L711.09,72.39 L710.75,72.25 L710.42,72.10 L710.09,71.96 L709.75,71.81 L709.42,71.67 L709.09,71.53 L708.75,71.38 L708.42,71.24 L708.09,71.10 L707.75,70.96 L707.42,70.82 L707.09,70.68 L706.75,70.54 L706.42,70.40 L706.09,70.26 L705.75,70.13 L705.42,69.99 L705.09,69.85 L704.76,69.72 L704.42,69.58 L704.09,69.45 L703.76,69.31 L703.42,69.18 L703.09,69.05 L702.76,68.91 L702.42,68.78 L702.09,68.65 L701.76,68.52 L701.42,68.39 L701.09,68.26 L700.76,68.13 L700.42,68.00 L700.09,67.87 L699.76,67.74 L699.42,67.61 L699.09,67.48 L698.76,67.36 L698.42,67.23 L698.09,67.10 L697.76,66.98 L697.43,66.85 L697.09,66.73 L696.76,66.61 L696.43,66.48 L696.09,66.36 L695.76,66.24 L695.43,66.11 L695.09,65.99 L694.76,65.87 L694.43,65.75 L694.09,65.63 L693.76,65.51 L693.43,65.39 L693.09,65.27 L692.76,65.15 L692.43,65.03 L692.09,64.91 L691.76,64.80 L691.43,64.68 L691.10,64.56Z"/></clipPath>
<clipPath id="cplot"><rect x="79.2" y="40.199999999999996" width="674.3" height="472.40000000000003"/></clipPath>
<clipPath id="cleg"><rect x="648.3" y="446.6" width="77.8" height="14.8"/></clipPath>
</defs>
<path d="M79.2,108.7h7.2 M752.7,108.7h-7.5 M79.2,176.0h7.2 M752.7,176.0h-7.5 M79.2,243.3h7.2 M752.7,243.3h-7.5 M79.2,310.6h7.2 M752.7,310.6h-7.5 M79.2,377.9h7.2 M752.7,377.9h-7.5 M79.2,445.2h7.2 M752.7,445.2h-7.5 M137.6,512.6v-7 M255.0,512.6v-7 M372.5,512.6v-7 M489.9,512.6v-7 M607.4,512.6v-7 M724.9,512.6v-7 M87.5,41.4v4.5 M161.0,41.4v4.5 M242.7,41.4v4.5 M324.4,41.4v4.5 M406.1,41.4v4.5 M487.8,41.4v4.5 M569.5,41.4v4.5 M651.2,41.4v4.5 M732.9,41.4v4.5" stroke="#222" stroke-width="0.8" fill="none"/>
<text transform="translate(630.9 154.7) scale(1 1.04)" font-size="23" text-anchor="start" font-family="Liberation Sans, sans-serif" font-weight="bold" >20 GeV</text><text transform="translate(709.2 143.2) scale(1 1.04)" font-size="18.4" text-anchor="start" font-family="Liberation Sans, sans-serif" font-weight="bold" >2</text>
<g clip-path="url(#cbrown)"><path d="M493.12,55.00 L573.12,215.00 M502.37,55.00 L582.37,215.00 M511.62,55.00 L591.62,215.00 M520.86,55.00 L600.86,215.00 M530.11,55.00 L610.11,215.00 M539.36,55.00 L619.36,215.00 M548.61,55.00 L628.61,215.00 M557.86,55.00 L637.86,215.00 M567.11,55.00 L647.11,215.00 M576.36,55.00 L656.36,215.00 M585.61,55.00 L665.61,215.00 M594.86,55.00 L674.86,215.00 M604.11,55.00 L684.11,215.00 M613.35,55.00 L693.35,215.00 M622.60,55.00 L702.60,215.00 M631.85,55.00 L711.85,215.00 M641.10,55.00 L721.10,215.00 M650.35,55.00 L730.35,215.00 M659.60,55.00 L739.60,215.00 M668.85,55.00 L748.85,215.00 M678.10,55.00 L758.10,215.00 M687.35,55.00 L767.35,215.00 M696.60,55.00 L776.60,215.00 M705.84,55.00 L785.84,215.00 M715.09,55.00 L795.09,215.00 M724.34,55.00 L804.34,215.00 M733.59,55.00 L813.59,215.00 M742.84,55.00 L822.84,215.00 M752.09,55.00 L832.09,215.00 M761.34,55.00 L841.34,215.00 M770.59,55.00 L850.59,215.00 " stroke="#8b4513" stroke-width="2" fill="none"/></g>
<g clip-path="url(#cblue)"><path d="M389.76,360.00 L542.26,55.00 M399.01,360.00 L551.51,55.00 M408.26,360.00 L560.76,55.00 M417.51,360.00 L570.01,55.00 M426.75,360.00 L579.25,55.00 M436.00,360.00 L588.50,55.00 M445.25,360.00 L597.75,55.00 M454.50,360.00 L607.00,55.00 M463.75,360.00 L616.25,55.00 M473.00,360.00 L625.50,55.00 M482.25,360.00 L634.75,55.00 M491.50,360.00 L644.00,55.00 M500.75,360.00 L653.25,55.00 M510.00,360.00 L662.50,55.00 M519.24,360.00 L671.74,55.00 M528.49,360.00 L680.99,55.00 M537.74,360.00 L690.24,55.00 M546.99,360.00 L699.49,55.00 M556.24,360.00 L708.74,55.00 M565.49,360.00 L717.99,55.00 M574.74,360.00 L727.24,55.00 M583.99,360.00 L736.49,55.00 M593.24,360.00 L745.74,55.00 M602.49,360.00 L754.99,55.00 M611.73,360.00 L764.23,55.00 M620.98,360.00 L773.48,55.00 M630.23,360.00 L782.73,55.00 M639.48,360.00 L791.98,55.00 M648.73,360.00 L801.23,55.00 M657.98,360.00 L810.48,55.00 M667.23,360.00 L819.73,55.00 M676.48,360.00 L828.98,55.00 M685.73,360.00 L838.23,55.00 M694.98,360.00 L847.48,55.00 M704.22,360.00 L856.72,55.00 M713.47,360.00 L865.97,55.00 M722.72,360.00 L875.22,55.00 M731.97,360.00 L884.47,55.00 M741.22,360.00 L893.72,55.00 M750.47,360.00 L902.97,55.00 M759.72,360.00 L912.22,55.00 M768.97,360.00 L921.47,55.00 M778.22,360.00 L930.72,55.00 " stroke="#6495ed" stroke-width="1.8" fill="none"/></g>
<g clip-path="url(#cgreen)"><path d="M522.01,160.00 L627.01,55.00 M540.51,160.00 L645.51,55.00 M559.01,160.00 L664.01,55.00 M577.50,160.00 L682.50,55.00 M596.00,160.00 L701.00,55.00 M614.50,160.00 L719.50,55.00 M633.00,160.00 L738.00,55.00 M651.50,160.00 L756.50,55.00 M669.99,160.00 L774.99,55.00 M688.49,160.00 L793.49,55.00 M706.99,160.00 L811.99,55.00 M725.49,160.00 L830.49,55.00 M743.99,160.00 L848.99,55.00 M762.48,160.00 L867.48,55.00 M780.98,160.00 L885.98,55.00 " stroke="#006400" stroke-width="1.3" fill="none"/></g>
<path d="M330.75,41.45 L331.00,41.54 L331.25,41.63 L331.50,41.73 L331.75,41.82 L332.00,41.91 L332.25,42.01 L332.50,42.10 L332.75,42.20 L333.00,42.29 L333.25,42.39 L333.50,42.48 L333.75,42.58 L334.00,42.67 L334.25,42.77 L334.50,42.87 L334.75,42.97 L335.00,43.06 L335.25,43.16 L335.50,43.26 L335.75,43.36 L336.00,43.46 L336.25,43.56 L336.50,43.66 L336.75,43.76 L337.00,43.86 L337.25,43.96 L337.50,44.07 L337.75,44.17 L338.00,44.27 L338.25,44.37 L338.50,44.48 L338.75,44.58 L339.00,44.69 L339.25,44.79 L339.50,44.89 L339.75,45.00 L340.00,45.11 L340.25,45.21 L340.50,45.32 L340.75,45.43 L341.00,45.53 L341.25,45.64 L341.50,45.75 L341.75,45.86 L342.00,45.96 L342.25,46.07 L342.50,46.18 L342.75,46.29 L343.00,46.40 L343.25,46.51 L343.50,46.62 L343.75,46.74 L344.00,46.85 L344.25,46.96 L344.50,47.07 L344.75,47.18 L345.00,47.30 L345.25,47.41 L345.50,47.52 L345.75,47.64 L346.00,47.75 L346.24,47.87 L346.49,47.98 L346.74,48.10 L346.99,48.22 L347.24,48.33 L347.49,48.45 L347.74,48.57 L347.99,48.68 L348.24,48.80 L348.49,48.92 L348.74,49.04 L348.99,49.16 L349.24,49.27 L349.49,49.39 L349.74,49.51 L349.99,49.63 L350.24,49.76 L350.49,49.88 L350.74,50.00 L350.99,50.12 L351.24,50.24 L351.49,50.36 L351.74,50.49 L351.99,50.61 L352.24,50.73 L352.49,50.86 L352.74,50.98 L352.99,51.10 L353.24,51.23 L353.49,51.35 L353.74,51.48 L353.99,51.61 L354.24,51.73 L354.49,51.86 L354.74,51.99 L354.99,52.11 L355.24,52.24 L355.49,52.37 L355.74,52.50 L355.99,52.63 L356.24,52.75 L356.49,52.88 L356.74,53.01 L356.99,53.14 L357.24,53.27 L357.49,53.40 L357.74,53.54 L357.99,53.67 L358.24,53.80 L358.49,53.93 L358.74,54.06 L358.99,54.20 L359.24,54.33 L359.49,54.46 L359.74,54.60 L359.99,54.73 L360.24,54.87 L360.49,55.00 L360.74,55.14 L360.99,55.27 L361.24,55.41 L361.49,55.54 L361.74,55.68 L361.99,55.82 L362.24,55.95 L362.49,56.09 L362.74,56.23 L362.99,56.37 L363.24,56.51 L363.49,56.65 L363.74,56.78 L363.99,56.92 L364.24,57.06 L364.49,57.20 L364.74,57.35 L364.99,57.49 L365.24,57.63 L365.49,57.77 L365.74,57.91 L365.99,58.05 L366.24,58.20 L366.49,58.34 L366.74,58.48 L366.99,58.63 L367.24,58.77 L367.49,58.92 L367.74,59.06 L367.99,59.21 L368.24,59.35 L368.49,59.50 L368.74,59.64 L368.99,59.79 L369.24,59.94 L369.49,60.08 L369.74,60.23 L369.99,60.38 L370.24,60.53 L370.49,60.68 L370.74,60.83 L370.99,60.97 L371.24,61.12 L371.49,61.27 L371.74,61.42 L371.99,61.58 L372.24,61.73 L372.49,61.88 L372.74,62.03 L372.99,62.18 L373.24,62.33 L373.49,62.49 L373.74,62.64 L373.99,62.79 L374.24,62.95 L374.49,63.10 L374.74,63.26 L374.99,63.41 L375.24,63.57 L375.49,63.72 L375.74,63.88 L375.99,64.04 L376.24,64.19 L376.49,64.35 L376.74,64.51 L376.99,64.66 L377.24,64.82 L377.49,64.98 L377.74,65.14 L377.99,65.30 L378.24,65.46 L378.49,65.62 L378.74,65.78 L378.99,65.94 L379.24,66.10 L379.49,66.26 L379.74,66.42 L379.99,66.59 L380.24,66.75 L380.49,66.91 L380.74,67.08 L380.99,67.24 L381.24,67.40 L381.49,67.57 L381.74,67.73 L381.99,67.90 L382.24,68.06 L382.49,68.23 L382.74,68.39 L382.99,68.56 L383.24,68.73 L383.49,68.90 L383.74,69.06 L383.99,69.23 L384.24,69.40 L384.49,69.57 L384.74,69.74 L384.99,69.91 L385.24,70.08 L385.49,70.25 L385.74,70.42 L385.99,70.59 L386.24,70.76 L386.49,70.93 L386.74,71.11 L386.99,71.28 L387.24,71.45 L387.49,71.63 L387.74,71.80 L387.99,71.97 L388.24,72.15 L388.48,72.32 L388.73,72.50 L388.98,72.67 L389.23,72.85 L389.48,73.03 L389.73,73.21 L389.98,73.38 L390.23,73.56 L390.48,73.74 L390.73,73.92 L390.98,74.10 L391.23,74.28 L391.48,74.46 L391.73,74.64 L391.98,74.82 L392.23,75.00 L392.48,75.18 L392.73,75.36 L392.98,75.54 L393.23,75.73 L393.48,75.91 L393.73,76.09 L393.98,76.28 L394.23,76.46 L394.48,76.65 L394.73,76.83 L394.98,77.02 L395.23,77.21 L395.48,77.39 L395.73,77.58 L395.98,77.77 L396.23,77.96 L396.48,78.14 L396.73,78.33 L396.98,78.52 L397.23,78.71 L397.48,78.90 L397.73,79.09 L397.98,79.28 L398.23,79.48 L398.48,79.67 L398.73,79.86 L398.98,80.05 L399.23,80.25 L399.48,80.44 L399.73,80.64 L399.98,80.83 L400.23,81.03 L400.48,81.22 L400.73,81.42 L400.98,81.61 L401.23,81.81 L401.48,82.01 L401.73,82.21 L401.98,82.41 L402.23,82.61 L402.48,82.81 L402.73,83.01 L402.98,83.21 L403.23,83.41 L403.48,83.61 L403.73,83.81 L403.98,84.01 L404.23,84.22 L404.48,84.42 L404.73,84.62 L404.98,84.83 L405.23,85.03 L405.48,85.24 L405.73,85.45 L405.98,85.65 L406.23,85.86 L406.48,86.07 L406.73,86.28 L406.98,86.49 L407.23,86.70 L407.48,86.91 L407.73,87.12 L407.98,87.33 L408.23,87.54 L408.48,87.75 L408.73,87.96 L408.98,88.18 L409.23,88.39 L409.48,88.61 L409.73,88.82 L409.98,89.04 L410.23,89.25 L410.48,89.47 L410.73,89.69 L410.98,89.90 L411.23,90.12 L411.48,90.34 L411.73,90.56 L411.98,90.78 L412.23,91.00 L412.48,91.22 L412.73,91.45 L412.98,91.67 L413.23,91.89 L413.48,92.12 L413.73,92.34 L413.98,92.57 L414.23,92.79 L414.48,93.02 L414.73,93.25 L414.98,93.47 L415.23,93.70 L415.48,93.93 L415.73,94.16 L415.98,94.39 L416.23,94.62 L416.48,94.85 L416.73,95.09 L416.98,95.32 L417.23,95.55 L417.48,95.79 L417.73,96.02 L417.98,96.26 L418.23,96.49 L418.48,96.73 L418.73,96.97 L418.98,97.21 L419.23,97.45 L419.48,97.69 L419.73,97.93 L419.98,98.17 L420.23,98.41 L420.48,98.65 L420.73,98.90 L420.98,99.14 L421.23,99.39 L421.48,99.63 L421.73,99.88 L421.98,100.13 L422.23,100.38 L422.48,100.63 L422.73,100.88 L422.98,101.13 L423.23,101.38 L423.48,101.63 L423.73,101.88 L423.98,102.14 L424.23,102.39 L424.48,102.65 L424.73,102.91 L424.98,103.16 L425.23,103.42 L425.48,103.68 L425.73,103.94 L425.98,104.20 L426.23,104.46 L426.48,104.73 L426.73,104.99 L426.98,105.25 L427.23,105.52 L427.48,105.79 L427.73,106.05 L427.98,106.32 L428.23,106.59 L428.48,106.86 L428.73,107.13 L428.98,107.40 L429.23,107.68 L429.48,107.95 L429.73,108.22 L429.98,108.50 L430.23,108.78 L430.48,109.06 L430.72,109.33 L430.97,109.61 L431.22,109.89 L431.47,110.18 L431.72,110.46 L431.97,110.74 L432.22,111.03 L432.47,111.32 L432.72,111.60 L432.97,111.89 L433.22,112.18 L433.47,112.47 L433.72,112.76 L433.97,113.06 L434.22,113.35 L434.47,113.65 L434.72,113.94 L434.97,114.24 L435.22,114.54 L435.47,114.84 L435.72,115.14 L435.97,115.44 L436.22,115.75 L436.47,116.05 L436.72,116.36 L436.97,116.67 L437.22,116.98 L437.47,117.29 L437.72,117.60 L437.97,117.91 L438.22,118.23 L438.47,118.54 L438.72,118.86 L438.97,119.18 L439.22,119.50 L439.47,119.82 L439.72,120.14 L439.97,120.46 L440.22,120.79 L440.47,121.12 L440.72,121.45 L440.97,121.78 L441.22,122.11 L441.47,122.44 L441.72,122.77 L441.97,123.11 L442.22,123.45 L442.47,123.79 L442.72,124.13 L442.97,124.47 L443.22,124.82 L443.47,125.16 L443.72,125.51 L443.97,125.86 L444.22,126.21 L444.47,126.56 L444.72,126.92 L444.97,127.27 L445.22,127.63 L445.47,127.99 L445.72,128.36 L445.97,128.72 L446.22,129.08 L446.47,129.45 L446.72,129.82 L446.97,130.19 L447.22,130.57 L447.47,130.94 L447.72,131.32 L447.97,131.70 L448.22,132.08 L448.47,132.47 L448.72,132.85 L448.97,133.24 L449.22,133.63 L449.47,134.02 L449.72,134.42 L449.97,134.82 L450.22,135.21 L450.47,135.62 L450.72,136.02 L450.97,136.43 L451.22,136.84 L451.47,137.25 L451.72,137.66 L451.97,138.08 L452.22,138.50 L452.47,138.92 L452.72,139.34 L452.97,139.77 L453.22,140.20 L453.47,140.63 L453.72,141.07 L453.97,141.51 L454.22,141.95 L454.47,142.39 L454.72,142.84 L454.97,143.29 L455.22,143.74 L455.47,144.20 L455.72,144.66 L455.97,145.12 L456.22,145.58 L456.47,146.05 L456.72,146.53 L456.97,147.00 L457.22,147.48 L457.47,147.96 L457.72,148.45 L457.97,148.94 L458.22,149.43 L458.47,149.93 L458.72,150.43 L458.97,150.93 L459.22,151.44 L459.47,151.95 L459.72,152.47 L459.97,152.99 L460.22,153.52 L460.47,154.05 L460.72,154.58 L460.97,155.12 L461.22,155.66 L461.47,156.21 L461.72,156.76 L461.97,157.32 L462.22,157.88 L462.47,158.44 L462.72,159.01 L462.97,159.59 L463.22,160.17 L463.47,160.76 L463.72,161.35 L463.97,161.95 L464.22,162.55 L464.47,163.16 L464.72,163.77 L464.97,164.40 L465.22,165.02 L465.47,165.66 L465.72,166.30 L465.97,166.94 L466.22,167.59 L466.47,168.25 L466.72,168.92 L466.97,169.59 L467.22,170.27 L467.47,170.96 L467.72,171.66 L467.97,172.36 L468.22,173.07 L468.47,173.79 L468.72,174.52 L468.97,175.26 L469.22,176.00 L469.47,176.76 L469.72,177.52 L469.97,178.29 L470.22,179.07 L470.47,179.87 L470.72,180.67 L470.97,181.48 L471.22,182.31 L471.47,183.14 L471.72,183.99 L471.97,184.84 L472.22,185.71 L472.47,186.60 L472.72,187.49 L472.96,188.40 L473.21,189.32 L473.46,190.26 L473.71,191.21 L473.96,192.17 L474.21,193.15 L474.46,194.15 L474.71,195.16 L474.96,196.18 L475.21,197.24 L475.42,198.11 L475.71,199.39 L475.86,200.05 L475.96,200.50 L476.21,201.62 L476.29,201.97 L476.46,202.77 L476.71,203.90 L476.96,205.12 L477.11,205.83 L477.21,206.34 L477.46,207.58 L477.71,208.84 L477.88,209.68 L477.96,210.14 L478.21,211.46 L478.46,212.80 L478.59,213.52 L478.71,214.19 L478.94,215.44 L479.21,217.04 L479.27,217.36 L479.46,218.53 L479.59,219.28 L479.71,220.05 L479.90,221.20 L479.96,221.60 L480.20,223.12 L480.46,224.85 L480.71,226.54 L480.77,226.95 L480.96,228.28 L481.05,228.86 L481.21,230.07 L481.31,230.78 L481.46,231.92 L481.57,232.69 L481.71,233.82 L481.81,234.60 L481.96,235.79 L482.05,236.51 L482.21,237.82 L482.28,238.42 L482.46,239.93 L484.80,271.00 L486.00,302.00 L486.70,320.00 L488.00,351.00 L489.10,382.00 L489.80,403.70 L490.30,382.00 L491.60,351.00 L493.40,320.00 L494.70,302.00 L496.30,271.00 L496.41,239.56 L496.46,239.12 L496.64,237.69 L496.71,237.13 L496.88,235.82 L496.96,235.19 L497.13,233.95 L497.21,233.32 L497.38,232.07 L497.46,231.51 L497.65,230.20 L497.71,229.76 L497.92,228.33 L497.96,228.06 L498.20,226.46 L498.46,224.80 L498.71,223.23 L498.79,222.73 L498.96,221.71 L499.10,220.86 L499.21,220.23 L499.42,218.99 L499.71,217.38 L499.96,216.00 L500.10,215.26 L500.21,214.66 L500.45,213.40 L500.71,212.07 L500.81,211.53 L500.96,210.81 L501.19,209.67 L501.46,208.39 L501.58,207.81 L501.71,207.21 L501.96,206.06 L502.21,204.93 L502.40,204.09 L502.46,203.82 L502.71,202.74 L502.83,202.23 L502.96,201.67 L503.21,200.63 L503.27,200.37 L503.46,199.60 L503.71,198.59 L503.96,197.60 L504.20,196.65 L504.46,195.67 L504.69,194.80 L504.96,193.81 L505.19,192.94 L505.46,192.00 L505.71,191.12 L505.96,190.25 L506.21,189.39 L506.46,188.55 L506.71,187.72 L506.96,186.90 L507.21,186.10 L507.46,185.30 L507.71,184.52 L507.96,183.75 L508.21,182.98 L508.46,182.23 L508.71,181.49 L508.96,180.76 L509.21,180.03 L509.46,179.32 L509.71,178.62 L509.96,177.92 L510.21,177.23 L510.46,176.55 L510.71,175.88 L510.96,175.22 L511.21,174.56 L511.46,173.92 L511.71,173.28 L511.96,172.64 L512.21,172.02 L512.46,171.40 L512.71,170.79 L512.96,170.18 L513.21,169.58 L513.46,168.99 L513.71,168.41 L513.96,167.83 L514.21,167.25 L514.46,166.68 L514.71,166.12 L514.96,165.56 L515.20,165.01 L515.45,164.47 L515.70,163.93 L515.95,163.39 L516.20,162.86 L516.45,162.34 L516.70,161.82 L516.95,161.30 L517.20,160.79 L517.45,160.29 L517.70,159.79 L517.95,159.29 L518.20,158.80 L518.45,158.31 L518.70,157.83 L518.95,157.35 L519.20,156.87 L519.45,156.40 L519.70,155.93 L519.95,155.47 L520.20,155.01 L520.45,154.56 L520.70,154.10 L520.95,153.66 L521.20,153.21 L521.45,152.77 L521.70,152.33 L521.95,151.90 L522.20,151.47 L522.45,151.04 L522.70,150.62 L522.95,150.20 L523.20,149.78 L523.45,149.37 L523.70,148.96 L523.95,148.55 L524.20,148.14 L524.45,147.74 L524.70,147.34 L524.95,146.95 L525.20,146.55 L525.45,146.16 L525.70,145.78 L525.95,145.39 L526.20,145.01 L526.45,144.63 L526.70,144.25 L526.95,143.88 L527.20,143.51 L527.45,143.14 L527.70,142.77 L527.95,142.41 L528.20,142.05 L528.45,141.69 L528.70,141.33 L528.95,140.98 L529.20,140.62 L529.45,140.27 L529.70,139.93 L529.95,139.58 L530.20,139.24 L530.45,138.90 L530.70,138.56 L530.95,138.22 L531.20,137.89 L531.45,137.55 L531.70,137.22 L531.95,136.90 L532.20,136.57 L532.45,136.24 L532.70,135.92 L532.95,135.60 L533.20,135.28 L533.45,134.97 L533.70,134.65 L533.95,134.34 L534.20,134.03 L534.45,133.72 L534.70,133.41 L534.95,133.10 L535.20,132.80 L535.45,132.50 L535.70,132.20 L535.95,131.90 L536.20,131.60 L536.45,131.30 L536.70,131.01 L536.95,130.72 L537.20,130.43 L537.45,130.14 L537.70,129.85 L537.95,129.56 L538.20,129.28 L538.45,129.00 L538.70,128.71 L538.95,128.43 L539.20,128.16 L539.45,127.88 L539.70,127.60 L539.95,127.33 L540.20,127.06 L540.45,126.78 L540.70,126.51 L540.95,126.25 L541.20,125.98 L541.45,125.71 L541.70,125.45 L541.95,125.19 L542.20,124.92 L542.45,124.66 L542.70,124.40 L542.95,124.15 L543.20,123.89 L543.45,123.63 L543.70,123.38 L543.95,123.13 L544.20,122.87 L544.45,122.62 L544.70,122.37 L544.95,122.13 L545.20,121.88 L545.45,121.63 L545.70,121.39 L545.95,121.15 L546.20,120.90 L546.45,120.66 L546.70,120.42 L546.95,120.18 L547.20,119.94 L547.45,119.71 L547.70,119.47 L547.95,119.24 L548.20,119.00 L548.45,118.77 L548.70,118.54 L548.95,118.31 L549.20,118.08 L549.45,117.85 L549.70,117.62 L549.95,117.40 L550.20,117.17 L550.45,116.95 L550.70,116.73 L550.95,116.50 L551.20,116.28 L551.45,116.06 L551.70,115.84 L551.95,115.62 L552.20,115.41 L552.45,115.19 L552.70,114.97 L552.95,114.76 L553.20,114.54 L553.45,114.33 L553.70,114.12 L553.95,113.91 L554.20,113.70 L554.45,113.49 L554.70,113.28 L554.95,113.07 L555.20,112.87 L555.45,112.66 L555.70,112.45 L555.95,112.25 L556.20,112.05 L556.45,111.84 L556.70,111.64 L556.95,111.44 L557.20,111.24 L557.44,111.04 L557.69,110.84 L557.94,110.65 L558.19,110.45 L558.44,110.25 L558.69,110.06 L558.94,109.86 L559.19,109.67 L559.44,109.48 L559.69,109.28 L559.94,109.09 L560.19,108.90 L560.44,108.71 L560.69,108.52 L560.94,108.33 L561.19,108.15 L561.44,107.96 L561.69,107.77 L561.94,107.59 L562.19,107.40 L562.44,107.22 L562.69,107.03 L562.94,106.85 L563.19,106.67 L563.44,106.49 L563.69,106.31 L563.94,106.13 L564.19,105.95 L564.44,105.77 L564.69,105.59 L564.94,105.41 L565.19,105.24 L565.44,105.06 L565.69,104.88 L565.94,104.71 L566.19,104.54 L566.44,104.36 L566.69,104.19 L566.94,104.02 L567.19,103.84 L567.44,103.67 L567.69,103.50 L567.94,103.33 L568.19,103.16 L568.44,103.00 L568.69,102.83 L568.94,102.66 L569.19,102.49 L569.44,102.33 L569.69,102.16 L569.94,102.00 L570.19,101.83 L570.44,101.67 L570.69,101.51 L570.94,101.34 L571.19,101.18 L571.44,101.02 L571.69,100.86 L571.94,100.70 L572.19,100.54 L572.44,100.38 L572.69,100.22 L572.94,100.06 L573.19,99.91 L573.44,99.75 L573.69,99.59 L573.94,99.44 L574.19,99.28 L574.44,99.13 L574.69,98.97 L574.94,98.82 L575.19,98.67 L575.44,98.51 L575.69,98.36 L575.94,98.21 L576.19,98.06 L576.44,97.91 L576.69,97.76 L576.94,97.61 L577.19,97.46 L577.44,97.31 L577.69,97.16 L577.94,97.02 L578.19,96.87 L578.44,96.72 L578.69,96.58 L578.94,96.43 L579.19,96.29 L579.44,96.14 L579.69,96.00 L579.94,95.85 L580.19,95.71 L580.44,95.57 L580.69,95.43 L580.94,95.28 L581.19,95.14 L581.44,95.00 L581.69,94.86 L581.94,94.72 L582.19,94.58 L582.44,94.44 L582.69,94.31 L582.94,94.17 L583.19,94.03 L583.44,93.89 L583.69,93.76 L583.94,93.62 L584.19,93.49 L584.44,93.35 L584.69,93.22 L584.94,93.08 L585.19,92.95 L585.44,92.81 L585.69,92.68 L585.94,92.55 L586.19,92.42 L586.44,92.28 L586.69,92.15 L586.94,92.02 L587.19,91.89 L587.44,91.76 L587.69,91.63 L587.94,91.50 L588.19,91.37 L588.44,91.25 L588.69,91.12 L588.94,90.99 L589.19,90.86 L589.44,90.74 L589.69,90.61 L589.94,90.49 L590.19,90.36 L590.44,90.24 L590.69,90.11 L590.94,89.99 L591.19,89.86 L591.44,89.74 L591.69,89.62 L591.94,89.49 L592.19,89.37 L592.44,89.25 L592.69,89.13 L592.94,89.01 L593.19,88.89 L593.44,88.77 L593.69,88.65 L593.94,88.53 L594.19,88.41 L594.44,88.29 L594.69,88.17 L594.94,88.05 L595.19,87.94 L595.44,87.82 L595.69,87.70 L595.94,87.59 L596.19,87.47 L596.44,87.35 L596.69,87.24 L596.94,87.12 L597.19,87.01 L597.44,86.90 L597.69,86.78 L597.94,86.67 L598.19,86.56 L598.44,86.44 L598.69,86.33 L598.94,86.22 L599.19,86.11 L599.44,86.00 L599.68,85.89 L599.93,85.78 L600.18,85.66 L600.43,85.56 L600.68,85.45 L600.93,85.34 L601.18,85.23 L601.43,85.12 L601.68,85.01 L601.93,84.90 L602.18,84.80 L602.43,84.69 L602.68,84.58 L602.93,84.48 L603.18,84.37 L603.43,84.27 L603.68,84.16 L603.93,84.05 L604.18,83.95 L604.43,83.85 L604.68,83.74 L604.93,83.64 L605.18,83.54 L605.43,83.43 L605.68,83.33 L605.93,83.23 L606.18,83.13 L606.43,83.02 L606.68,82.92 L606.93,82.82 L607.18,82.72 L607.43,82.62 L607.68,82.52 L607.93,82.42 L608.18,82.32 L608.43,82.22 L608.68,82.13 L608.93,82.03 L609.18,81.93 L609.43,81.83 L609.68,81.73 L609.93,81.64 L610.18,81.54 L610.43,81.44 L610.68,81.35 L610.93,81.25 L611.18,81.16 L611.43,81.06 L611.68,80.97 L611.93,80.87 L612.18,80.78 L612.43,80.68 L612.68,80.59 L612.93,80.50 L613.18,80.40 L613.43,80.31 L613.68,80.22 L613.93,80.13 L614.18,80.04 L614.43,79.94 L614.68,79.85 L614.93,79.76 L615.18,79.67 L615.43,79.58 L615.68,79.49 L615.93,79.40 L616.18,79.31 L616.43,79.22 L616.68,79.14 L616.93,79.05 L617.18,78.96 L617.43,78.87 L617.68,78.78 L617.93,78.70 L618.18,78.61 L618.43,78.52 L618.68,78.44 L618.93,78.35 L619.18,78.27 L619.43,78.18 L619.68,78.09 L619.93,78.01 L620.18,77.93 L620.43,77.84 L620.68,77.76 L620.93,77.67 L621.18,77.59 L621.43,77.51 L621.68,77.42 L621.93,77.34 L622.18,77.26 L622.43,77.18 L622.68,77.10 L622.93,77.01 L623.18,76.93 L623.43,76.85 L623.68,76.77 L623.93,76.69 L624.18,76.61 L624.43,76.53 L624.68,76.45 L624.93,76.37 L625.18,76.30 L625.43,76.22 L625.68,76.14 L625.93,76.06 L626.18,75.98 L626.43,75.91 L626.68,75.83 L626.93,75.75 L627.18,75.67 L627.43,75.60 L627.68,75.52 L627.93,75.45 L628.18,75.37 L628.43,75.30 L628.68,75.22 L628.93,75.15 L629.18,75.07 L629.43,75.00 L629.68,74.92 L629.93,74.85 L630.18,74.78 L630.43,74.70 L630.68,74.63 L630.93,74.56 L631.18,74.49 L631.43,74.41 L631.68,74.34 L631.93,74.27 L632.18,74.20 L632.43,74.13 L632.68,74.06 L632.93,73.99 L633.18,73.92 L633.43,73.85 L633.68,73.78 L633.93,73.71 L634.18,73.64 L634.43,73.57 L634.68,73.50 L634.93,73.44 L635.18,73.37 L635.43,73.30 L635.68,73.23 L635.93,73.17 L636.18,73.10 L636.43,73.03 L636.68,72.97 L636.93,72.90 L637.18,72.83 L637.43,72.77 L637.68,72.70 L637.93,72.64 L638.18,72.57 L638.43,72.51 L638.68,72.44 L638.93,72.38 L639.18,72.32 L639.43,72.25 L639.68,72.19 L639.93,72.13 L640.18,72.06 L640.43,72.00 L640.68,71.94 L640.93,71.88 L641.18,71.81 L641.43,71.75 L641.68,71.69 L641.92,71.63 L642.17,71.57 L642.42,71.51 L642.67,71.45 L642.92,71.39 L643.17,71.33 L643.42,71.27 L643.67,71.21 L643.92,71.15 L644.17,71.09 L644.42,71.04 L644.67,70.98 L644.92,70.92 L645.17,70.86 L645.42,70.80 L645.67,70.75 L645.92,70.69 L646.17,70.63 L646.42,70.58 L646.67,70.52 L646.92,70.47 L647.17,70.41 L647.42,70.35 L647.67,70.30 L647.92,70.24 L648.17,70.19 L648.42,70.14 L648.67,70.08 L648.92,70.03 L649.17,69.97 L649.42,69.92 L649.67,69.87 L649.92,69.81 L650.17,69.76 L650.42,69.71 L650.67,69.66 L650.92,69.61 L651.17,69.55 L651.42,69.50 L651.67,69.45 L651.92,69.40 L652.17,69.35 L652.42,69.30 L652.67,69.25 L653.17,69.15 L653.67,69.05 L654.17,68.95 L654.67,68.86 L655.17,68.76 L655.67,68.67 L656.17,68.57 L656.67,68.48 L657.17,68.39 L657.67,68.30 L658.17,68.21 L658.67,68.12 L659.17,68.03 L659.67,67.95 L660.17,67.86 L660.67,67.78 L661.17,67.69 L661.67,67.61 L662.17,67.53 L662.67,67.45 L663.17,67.37 L663.67,67.29 L664.17,67.21 L664.67,67.14 L665.17,67.06 L665.67,66.99 L666.17,66.91 L666.67,66.84 L667.17,66.77 L667.67,66.70 L668.17,66.63 L668.67,66.56 L669.17,66.49 L669.67,66.42 L670.17,66.36 L670.67,66.29 L671.17,66.23 L671.67,66.17 L672.17,66.11 L672.67,66.05 L673.17,65.99 L673.67,65.93 L674.17,65.87 L674.67,65.81 L675.17,65.76 L675.67,65.71 L676.17,65.65 L676.67,65.60 L677.17,65.55 L677.67,65.50 L678.17,65.45 L678.67,65.40 L679.17,65.35 L679.67,65.31 L680.17,65.26 L680.67,65.22 L681.17,65.18 L681.67,65.14 L682.17,65.10 L682.67,65.06 L683.17,65.02 L683.67,64.98 L684.16,64.95 L684.66,64.91 L685.16,64.88 L685.66,64.85 L686.16,64.81 L686.66,64.78 L687.16,64.76 L687.66,64.73 L688.16,64.70 L688.66,64.68 L689.16,64.65 L689.66,64.63 L690.16,64.61 L690.66,64.59 L691.16,64.57 L691.66,64.55 L692.16,64.53 L692.66,64.52 L693.16,64.50 L693.66,64.49 L694.16,64.48 L694.66,64.47 L695.16,64.46 L695.66,64.45 L696.16,64.45 L696.66,64.44 L697.16,64.44 L697.66,64.44 L698.16,64.44 L698.66,64.44 L699.16,64.44 L699.66,64.45 L700.16,64.45 L700.66,64.46 L701.16,64.47 L701.66,64.48 L702.16,64.49 L702.66,64.51 L703.16,64.52 L703.66,64.54 L704.16,64.56 L704.66,64.58 L705.16,64.60 L705.66,64.62 L706.16,64.65 L706.66,64.68 L707.16,64.71 L707.66,64.74 L708.16,64.77 L708.66,64.81 L709.16,64.85 L709.66,64.89 L710.16,64.93 L710.66,64.98 L711.16,65.02 L711.66,65.07 L712.16,65.12 L712.66,65.18 L713.16,65.23 L713.66,65.29 L714.16,65.35 L714.66,65.42 L715.16,65.48 L715.66,65.55 L716.16,65.62 L716.66,65.70 L717.16,65.78 L717.66,65.86 L718.16,65.94 L718.66,66.03 L719.16,66.12 L719.66,66.22 L720.16,66.32 L720.41,66.37 L720.66,66.42 L720.91,66.47 L721.16,66.52 L721.41,66.58 L721.66,66.63 L721.91,66.69 L722.16,66.75 L722.41,66.81 L722.66,66.86 L722.91,66.93 L723.16,66.99 L723.41,67.05 L723.66,67.11 L723.91,67.18 L724.16,67.25 L724.41,67.31 L724.66,67.38 L724.91,67.45 L725.16,67.52 L725.41,67.60 L725.66,67.67 L725.91,67.74 L726.16,67.82 L726.40,67.90 L726.65,67.98 L726.90,68.06 L727.15,68.14 L727.40,68.23 L727.65,68.31 L727.90,68.40 L728.15,68.49 L728.40,68.58 L728.65,68.67 L728.90,68.76 L729.15,68.86 L729.40,68.96 L729.65,69.06 L729.90,69.16 L730.15,69.26 L730.40,69.37 L730.65,69.47 L730.90,69.58 L731.15,69.70 L731.40,69.81 L731.65,69.93 L731.90,70.04 L732.15,70.17 L732.40,70.29 L732.65,70.41 L732.90,70.54 L733.15,70.67 L733.40,70.81 L733.65,70.94 L733.90,71.08 L734.15,71.23 L734.40,71.37 L734.65,71.52 L734.90,71.67 L735.15,71.83 L735.40,71.99 L735.65,72.15 L735.90,72.32 L736.15,72.49 L736.40,72.66 L736.65,72.84 L736.90,73.02 L737.10,73.17 L737.40,73.40 L737.65,73.59 L737.90,73.80 L738.15,74.00 L738.40,74.21 L738.65,74.43 L738.90,74.65 L739.15,74.88 L739.40,75.12 L739.65,75.36 L739.90,75.60 L740.11,75.81 L740.40,76.12 L740.65,76.39 L740.90,76.67 L741.15,76.96 L741.36,77.20 L741.65,77.56 L741.90,77.88 L742.11,78.15 L742.40,78.54 L742.65,78.89 L742.81,79.11 L743.14,79.60 L743.40,80.01 L743.65,80.42 L743.90,80.84 L744.04,81.09 L744.32,81.59 L744.59,82.09 L744.85,82.60 L745.10,83.11 L745.34,83.63 L745.56,84.14 L745.78,84.66 L745.90,84.95 L745.99,85.18 L746.15,85.58 L746.39,86.23 L746.58,86.76 L746.76,87.29 L746.90,87.72 L747.10,88.36 L747.26,88.89 L747.40,89.40 L747.40,512.60 L752.70,512.60 L752.70,41.40Z" fill="#ffdfe5"/>
<g clip-path="url(#cgold)"><path d="M-52.09,300.00 L197.91,50.00 M-33.60,300.00 L216.40,50.00 M-15.10,300.00 L234.90,50.00 M3.40,300.00 L253.40,50.00 M21.90,300.00 L271.90,50.00 M40.40,300.00 L290.40,50.00 M58.89,300.00 L308.89,50.00 M77.39,300.00 L327.39,50.00 M95.89,300.00 L345.89,50.00 M114.39,300.00 L364.39,50.00 M132.89,300.00 L382.89,50.00 M151.38,300.00 L401.38,50.00 M169.88,300.00 L419.88,50.00 M188.38,300.00 L438.38,50.00 M206.88,300.00 L456.88,50.00 M225.38,300.00 L475.38,50.00 M243.87,300.00 L493.87,50.00 M262.37,300.00 L512.37,50.00 M280.87,300.00 L530.87,50.00 M299.37,300.00 L549.37,50.00 M317.87,300.00 L567.87,50.00 M336.36,300.00 L586.36,50.00 M354.86,300.00 L604.86,50.00 M373.36,300.00 L623.36,50.00 M391.86,300.00 L641.86,50.00 M410.36,300.00 L660.36,50.00 M428.85,300.00 L678.85,50.00 M447.35,300.00 L697.35,50.00  M-41.17,50.00 L208.83,300.00 M-22.67,50.00 L227.33,300.00 M-4.17,50.00 L245.83,300.00 M14.33,50.00 L264.33,300.00 M32.82,50.00 L282.82,300.00 M51.32,50.00 L301.32,300.00 M69.82,50.00 L319.82,300.00 M88.32,50.00 L338.32,300.00 M106.82,50.00 L356.82,300.00 M125.31,50.00 L375.31,300.00 M143.81,50.00 L393.81,300.00 M162.31,50.00 L412.31,300.00 M180.81,50.00 L430.81,300.00 M199.31,50.00 L449.31,300.00 M217.80,50.00 L467.80,300.00 M236.30,50.00 L486.30,300.00 M254.80,50.00 L504.80,300.00 M273.30,50.00 L523.30,300.00 M291.80,50.00 L541.80,300.00 M310.29,50.00 L560.29,300.00 M328.79,50.00 L578.79,300.00 M347.29,50.00 L597.29,300.00 M365.79,50.00 L615.79,300.00 M384.29,50.00 L634.29,300.00 M402.78,50.00 L652.78,300.00 M421.28,50.00 L671.28,300.00 M439.78,50.00 L689.78,300.00 " stroke="#b8860b" stroke-width="1.6" fill="none"/></g>
<g clip-path="url(#cstrip)"><path d="M245.00,520.00 L715.00,50.00 M263.50,520.00 L733.50,50.00 M282.00,520.00 L752.00,50.00 M300.50,520.00 L770.50,50.00 M319.00,520.00 L789.00,50.00 M337.50,520.00 L807.50,50.00 M356.00,520.00 L826.00,50.00 M374.50,520.00 L844.50,50.00 M393.00,520.00 L863.00,50.00 M411.50,520.00 L881.50,50.00 M430.00,520.00 L900.00,50.00 M448.50,520.00 L918.50,50.00 M467.00,520.00 L937.00,50.00 M485.50,520.00 L955.50,50.00 M504.00,520.00 L974.00,50.00 M522.50,520.00 L992.50,50.00 M541.00,520.00 L1011.00,50.00 M559.50,520.00 L1029.50,50.00 M578.00,520.00 L1048.00,50.00 M596.50,520.00 L1066.50,50.00 M615.00,520.00 L1085.00,50.00 M633.50,520.00 L1103.50,50.00 M652.00,520.00 L1122.00,50.00 M670.50,520.00 L1140.50,50.00 M689.00,520.00 L1159.00,50.00 M707.50,520.00 L1177.50,50.00 M726.00,520.00 L1196.00,50.00 M744.50,520.00 L1214.50,50.00 M763.00,520.00 L1233.00,50.00 M781.50,520.00 L1251.50,50.00  M236.40,50.00 L706.40,520.00 M254.90,50.00 L724.90,520.00 M273.40,50.00 L743.40,520.00 M291.90,50.00 L761.90,520.00 M310.40,50.00 L780.40,520.00 M328.90,50.00 L798.90,520.00 M347.40,50.00 L817.40,520.00 M365.90,50.00 L835.90,520.00 M384.40,50.00 L854.40,520.00 M402.90,50.00 L872.90,520.00 M421.40,50.00 L891.40,520.00 M439.90,50.00 L909.90,520.00 M458.40,50.00 L928.40,520.00 M476.90,50.00 L946.90,520.00 M495.40,50.00 L965.40,520.00 M513.90,50.00 L983.90,520.00 M532.40,50.00 L1002.40,520.00 M550.90,50.00 L1020.90,520.00 M569.40,50.00 L1039.40,520.00 M587.90,50.00 L1057.90,520.00 M606.40,50.00 L1076.40,520.00 M624.90,50.00 L1094.90,520.00 M643.40,50.00 L1113.40,520.00 M661.90,50.00 L1131.90,520.00 M680.40,50.00 L1150.40,520.00 M698.90,50.00 L1168.90,520.00 M717.40,50.00 L1187.40,520.00 M735.90,50.00 L1205.90,520.00 M754.40,50.00 L1224.40,520.00 M772.90,50.00 L1242.90,520.00 M791.40,50.00 L1261.40,520.00 " stroke="#b8860b" stroke-width="1.9" fill="none"/></g>
<g clip-path="url(#cband)"><path d="M30.67,60.00 L52.67,38.00 M39.92,60.00 L61.92,38.00 M49.17,60.00 L71.17,38.00 M58.42,60.00 L80.42,38.00 M67.67,60.00 L89.67,38.00 M76.92,60.00 L98.92,38.00 M86.17,60.00 L108.17,38.00 M95.42,60.00 L117.42,38.00 M104.66,60.00 L126.66,38.00 M113.91,60.00 L135.91,38.00 M123.16,60.00 L145.16,38.00 M132.41,60.00 L154.41,38.00 M141.66,60.00 L163.66,38.00 M150.91,60.00 L172.91,38.00 M160.16,60.00 L182.16,38.00 M169.41,60.00 L191.41,38.00 M178.66,60.00 L200.66,38.00 M187.91,60.00 L209.91,38.00 M197.16,60.00 L219.16,38.00 M206.40,60.00 L228.40,38.00 M215.65,60.00 L237.65,38.00 M224.90,60.00 L246.90,38.00 M234.15,60.00 L256.15,38.00 M243.40,60.00 L265.40,38.00 M252.65,60.00 L274.65,38.00 M261.90,60.00 L283.90,38.00 M271.15,60.00 L293.15,38.00 M280.40,60.00 L302.40,38.00 M289.65,60.00 L311.65,38.00 M298.89,60.00 L320.89,38.00 M308.14,60.00 L330.14,38.00 M317.39,60.00 L339.39,38.00 M326.64,60.00 L348.64,38.00 M335.89,60.00 L357.89,38.00 M345.14,60.00 L367.14,38.00 M354.39,60.00 L376.39,38.00 M363.64,60.00 L385.64,38.00 M372.89,60.00 L394.89,38.00 M382.14,60.00 L404.14,38.00 M391.38,60.00 L413.38,38.00 M400.63,60.00 L422.63,38.00 M409.88,60.00 L431.88,38.00 M419.13,60.00 L441.13,38.00 M428.38,60.00 L450.38,38.00 M437.63,60.00 L459.63,38.00 M446.88,60.00 L468.88,38.00 M456.13,60.00 L478.13,38.00 M465.38,60.00 L487.38,38.00 M474.63,60.00 L496.63,38.00 M483.87,60.00 L505.87,38.00 M493.12,60.00 L515.12,38.00 M502.37,60.00 L524.37,38.00 M511.62,60.00 L533.62,38.00 M520.87,60.00 L542.87,38.00 M530.12,60.00 L552.12,38.00 M539.37,60.00 L561.37,38.00 M548.62,60.00 L570.62,38.00 M557.87,60.00 L579.87,38.00 M567.12,60.00 L589.12,38.00 M576.36,60.00 L598.36,38.00 M585.61,60.00 L607.61,38.00 M594.86,60.00 L616.86,38.00 M604.11,60.00 L626.11,38.00 M613.36,60.00 L635.36,38.00 M622.61,60.00 L644.61,38.00 M631.86,60.00 L653.86,38.00 M641.11,60.00 L663.11,38.00 M650.36,60.00 L672.36,38.00 M659.61,60.00 L681.61,38.00 M668.85,60.00 L690.85,38.00 M678.10,60.00 L700.10,38.00 M687.35,60.00 L709.35,38.00 M696.60,60.00 L718.60,38.00 M705.85,60.00 L727.85,38.00 M715.10,60.00 L737.10,38.00 M724.35,60.00 L746.35,38.00 M733.60,60.00 L755.60,38.00 M742.85,60.00 L764.85,38.00 M752.10,60.00 L774.10,38.00 M761.34,60.00 L783.34,38.00 M770.59,60.00 L792.59,38.00  M30.57,38.00 L52.57,60.00 M39.82,38.00 L61.82,60.00 M49.07,38.00 L71.07,60.00 M58.32,38.00 L80.32,60.00 M67.57,38.00 L89.57,60.00 M76.82,38.00 L98.82,60.00 M86.07,38.00 L108.07,60.00 M95.32,38.00 L117.32,60.00 M104.57,38.00 L126.57,60.00 M113.81,38.00 L135.81,60.00 M123.06,38.00 L145.06,60.00 M132.31,38.00 L154.31,60.00 M141.56,38.00 L163.56,60.00 M150.81,38.00 L172.81,60.00 M160.06,38.00 L182.06,60.00 M169.31,38.00 L191.31,60.00 M178.56,38.00 L200.56,60.00 M187.81,38.00 L209.81,60.00 M197.06,38.00 L219.06,60.00 M206.30,38.00 L228.30,60.00 M215.55,38.00 L237.55,60.00 M224.80,38.00 L246.80,60.00 M234.05,38.00 L256.05,60.00 M243.30,38.00 L265.30,60.00 M252.55,38.00 L274.55,60.00 M261.80,38.00 L283.80,60.00 M271.05,38.00 L293.05,60.00 M280.30,38.00 L302.30,60.00 M289.55,38.00 L311.55,60.00 M298.79,38.00 L320.79,60.00 M308.04,38.00 L330.04,60.00 M317.29,38.00 L339.29,60.00 M326.54,38.00 L348.54,60.00 M335.79,38.00 L357.79,60.00 M345.04,38.00 L367.04,60.00 M354.29,38.00 L376.29,60.00 M363.54,38.00 L385.54,60.00 M372.79,38.00 L394.79,60.00 M382.04,38.00 L404.04,60.00 M391.28,38.00 L413.28,60.00 M400.53,38.00 L422.53,60.00 M409.78,38.00 L431.78,60.00 M419.03,38.00 L441.03,60.00 M428.28,38.00 L450.28,60.00 M437.53,38.00 L459.53,60.00 M446.78,38.00 L468.78,60.00 M456.03,38.00 L478.03,60.00 M465.28,38.00 L487.28,60.00 M474.53,38.00 L496.53,60.00 M483.77,38.00 L505.77,60.00 M493.02,38.00 L515.02,60.00 M502.27,38.00 L524.27,60.00 M511.52,38.00 L533.52,60.00 M520.77,38.00 L542.77,60.00 M530.02,38.00 L552.02,60.00 M539.27,38.00 L561.27,60.00 M548.52,38.00 L570.52,60.00 M557.77,38.00 L579.77,60.00 M567.02,38.00 L589.02,60.00 M576.26,38.00 L598.26,60.00 M585.51,38.00 L607.51,60.00 M594.76,38.00 L616.76,60.00 M604.01,38.00 L626.01,60.00 M613.26,38.00 L635.26,60.00 M622.51,38.00 L644.51,60.00 M631.76,38.00 L653.76,60.00 M641.01,38.00 L663.01,60.00 M650.26,38.00 L672.26,60.00 M659.51,38.00 L681.51,60.00 M668.75,38.00 L690.75,60.00 M678.00,38.00 L700.00,60.00 M687.25,38.00 L709.25,60.00 M696.50,38.00 L718.50,60.00 M705.75,38.00 L727.75,60.00 M715.00,38.00 L737.00,60.00 M724.25,38.00 L746.25,60.00 M733.50,38.00 L755.50,60.00 M742.75,38.00 L764.75,60.00 M752.00,38.00 L774.00,60.00 M761.24,38.00 L783.24,60.00 M770.49,38.00 L792.49,60.00 " stroke="#8b0000" stroke-width="2.2" fill="none"/></g>
<g clip-path="url(#cplot)" fill="none" stroke-width="3.5" stroke-linejoin="round" stroke-linecap="butt">
<path d="M585.75,40.42 L586.00,40.51 L586.25,40.59 L586.49,40.67 L586.74,40.75 L586.99,40.83 L587.24,40.91 L587.49,40.99 L587.74,41.07 L587.99,41.15 L588.24,41.23 L588.49,41.30 L588.74,41.38 L588.99,41.46 L589.24,41.53 L589.49,41.61 L589.74,41.68 L589.99,41.75 L590.24,41.83 L590.49,41.90 L590.74,41.97 L590.99,42.05 L591.24,42.12 L591.49,42.19 L591.74,42.26 L591.99,42.33 L592.24,42.40 L592.49,42.47 L592.74,42.54 L592.99,42.60 L593.24,42.67 L593.49,42.74 L593.74,42.81 L593.99,42.87 L594.24,42.94 L594.49,43.00 L594.74,43.07 L594.98,43.13 L595.23,43.20 L595.48,43.26 L595.73,43.33 L595.98,43.39 L596.23,43.45 L596.48,43.51 L596.73,43.57 L596.98,43.64 L597.23,43.70 L597.48,43.76 L597.73,43.82 L597.98,43.88 L598.23,43.94 L598.48,44.00 L598.73,44.06 L598.98,44.11 L599.23,44.17 L599.48,44.23 L599.73,44.29 L599.98,44.35 L600.23,44.40 L600.48,44.46 L600.73,44.51 L600.98,44.57 L601.23,44.63 L601.48,44.68 L601.73,44.74 L601.98,44.79 L602.23,44.84 L602.48,44.90 L602.73,44.95 L602.98,45.01 L603.23,45.06 L603.47,45.11 L603.72,45.16 L603.97,45.22 L604.22,45.27 L604.47,45.32 L604.72,45.37 L604.97,45.42 L605.22,45.47 L605.47,45.52 L605.72,45.57 L606.22,45.67 L606.72,45.77 L607.22,45.87 L607.72,45.97 L608.22,46.07 L608.72,46.16 L609.22,46.26 L609.72,46.35 L610.22,46.44 L610.72,46.54 L611.22,46.63 L611.72,46.72 L612.21,46.81 L612.71,46.90 L613.21,46.99 L613.71,47.08 L614.21,47.16 L614.71,47.25 L615.21,47.34 L615.71,47.43 L616.21,47.51 L616.71,47.60 L617.21,47.68 L617.71,47.77 L618.21,47.85 L618.71,47.94 L619.21,48.02 L619.71,48.10 L620.21,48.19 L620.70,48.27 L621.20,48.35 L621.70,48.44 L622.20,48.52 L622.70,48.60 L623.20,48.68 L623.70,48.76 L624.20,48.85 L624.70,48.93 L625.20,49.01 L625.70,49.09 L626.20,49.17 L626.70,49.26 L627.20,49.34 L627.70,49.42 L628.20,49.50 L628.70,49.58 L629.19,49.67 L629.69,49.75 L630.19,49.83 L630.69,49.91 L631.19,50.00 L631.69,50.08 L632.19,50.16 L632.69,50.25 L633.19,50.33 L633.69,50.41 L634.19,50.50 L634.69,50.58 L635.19,50.67 L635.69,50.75 L636.19,50.84 L636.69,50.92 L637.19,51.01 L637.68,51.10 L638.18,51.18 L638.68,51.27 L639.18,51.36 L639.68,51.45 L640.18,51.53 L640.68,51.62 L641.18,51.71 L641.68,51.80 L642.18,51.89 L642.68,51.98 L643.18,52.08 L643.68,52.17 L644.18,52.26 L644.68,52.36 L645.18,52.45 L645.68,52.54 L646.18,52.64 L646.67,52.73 L647.17,52.83 L647.67,52.93 L648.17,53.03 L648.67,53.12 L649.17,53.22 L649.67,53.32 L650.17,53.42 L650.42,53.47 L650.67,53.52 L650.92,53.58 L651.17,53.63 L651.42,53.68 L651.67,53.73 L651.92,53.78 L652.17,53.83 L652.42,53.88 L652.67,53.94 L652.92,53.99 L653.17,54.04 L653.42,54.09 L653.67,54.15 L653.92,54.20 L654.17,54.25 L654.42,54.31 L654.67,54.36 L654.91,54.41 L655.16,54.47 L655.41,54.52 L655.66,54.58 L655.91,54.63 L656.16,54.69 L656.41,54.74 L656.66,54.80 L656.91,54.85 L657.16,54.91 L657.41,54.96 L657.66,55.02 L657.91,55.07 L658.16,55.13 L658.41,55.19 L658.66,55.24 L658.91,55.30 L659.16,55.36 L659.41,55.42 L659.66,55.47 L659.91,55.53 L660.16,55.59 L660.41,55.65 L660.66,55.71 L660.91,55.77 L661.16,55.82 L661.41,55.88 L661.66,55.94 L661.91,56.00 L662.16,56.06 L662.41,56.12 L662.66,56.18 L662.91,56.24 L663.16,56.30 L663.40,56.36 L663.65,56.43 L663.90,56.49 L664.15,56.55 L664.40,56.61 L664.65,56.67 L664.90,56.73 L665.15,56.80 L665.40,56.86 L665.65,56.92 L665.90,56.98 L666.15,57.05 L666.40,57.11 L666.65,57.18 L666.90,57.24 L667.15,57.30 L667.40,57.37 L667.65,57.43 L667.90,57.50 L668.15,57.56 L668.40,57.63 L668.65,57.69 L668.90,57.76 L669.15,57.83 L669.40,57.89 L669.65,57.96 L669.90,58.03 L670.15,58.09 L670.40,58.16 L670.65,58.23 L670.90,58.29 L671.15,58.36 L671.40,58.43 L671.65,58.50 L671.90,58.57 L672.14,58.64 L672.39,58.71 L672.64,58.78 L672.89,58.84 L673.14,58.91 L673.39,58.98 L673.64,59.06 L673.89,59.13 L674.14,59.20 L674.39,59.27 L674.64,59.34 L674.89,59.41 L675.14,59.48 L675.39,59.55 L675.64,59.63 L675.89,59.70 L676.14,59.77 L676.39,59.84 L676.64,59.92 L676.89,59.99 L677.14,60.06 L677.39,60.14 L677.64,60.21 L677.89,60.29 L678.14,60.36 L678.39,60.44 L678.64,60.51 L678.89,60.59 L679.14,60.66 L679.39,60.74 L679.64,60.81 L679.89,60.89 L680.14,60.97 L680.39,61.04 L680.63,61.12 L680.88,61.20 L681.13,61.27 L681.38,61.35 L681.63,61.43 L681.88,61.51 L682.13,61.59 L682.38,61.66 L682.63,61.74 L682.88,61.82 L683.13,61.90 L683.38,61.98 L683.63,62.06 L683.88,62.14 L684.13,62.22 L684.38,62.30 L684.63,62.38 L684.88,62.46 L685.13,62.55 L685.38,62.63 L685.63,62.71 L685.88,62.79 L686.13,62.87 L686.38,62.96 L686.63,63.04 L686.88,63.12 L687.13,63.21 L687.38,63.29 L687.63,63.37 L687.88,63.46 L688.13,63.54 L688.38,63.63 L688.63,63.71 L688.88,63.80 L689.12,63.88 L689.37,63.97 L689.62,64.05 L689.87,64.14 L690.12,64.22 L690.37,64.31 L690.62,64.40 L690.87,64.48 L691.12,64.57 L691.37,64.66 L691.62,64.75 L691.87,64.83 L692.12,64.92 L692.37,65.01 L692.62,65.10 L692.87,65.19 L693.12,65.28 L693.37,65.37 L693.62,65.46 L693.87,65.55 L694.12,65.64 L694.37,65.73 L694.62,65.82 L694.87,65.91 L695.12,66.00 L695.37,66.09 L695.62,66.18 L695.87,66.27 L696.12,66.37 L696.37,66.46 L696.62,66.55 L696.87,66.64 L697.12,66.74 L697.37,66.83 L697.62,66.93 L697.86,67.02 L698.11,67.11 L698.36,67.21 L698.61,67.30 L698.86,67.40 L699.11,67.49 L699.36,67.59 L699.61,67.68 L699.86,67.78 L700.11,67.88 L700.36,67.97 L700.61,68.07 L700.86,68.17 L701.11,68.26 L701.36,68.36 L701.61,68.46 L701.86,68.56 L702.11,68.66 L702.36,68.76 L702.61,68.85 L702.86,68.95 L703.11,69.05 L703.36,69.15 L703.61,69.25 L703.86,69.35 L704.11,69.45 L704.36,69.56 L704.61,69.66 L704.86,69.76 L705.11,69.86 L705.36,69.96 L705.61,70.07 L705.86,70.17 L706.11,70.27 L706.35,70.37 L706.60,70.48 L706.85,70.58 L707.10,70.69 L707.35,70.79 L707.60,70.90 L707.85,71.00 L708.10,71.11 L708.35,71.21 L708.60,71.32 L708.85,71.42 L709.10,71.53 L709.35,71.64 L709.60,71.75 L709.85,71.85 L710.10,71.96 L710.35,72.07 L710.60,72.18 L710.85,72.29 L711.10,72.40 L711.35,72.51 L711.60,72.62 L711.85,72.73 L712.10,72.84 L712.35,72.95 L712.60,73.06 L712.85,73.18 L713.10,73.29 L713.35,73.40 L713.60,73.51 L713.85,73.63 L714.10,73.74 L714.35,73.86 L714.60,73.97 L714.84,74.09 L715.09,74.20 L715.34,74.32 L715.59,74.44 L715.84,74.55 L716.09,74.67 L716.34,74.79 L716.59,74.91 L716.84,75.03 L717.09,75.14 L717.34,75.26 L717.59,75.39 L717.84,75.51 L718.09,75.63 L718.34,75.75 L718.59,75.87 L718.84,75.99 L719.09,76.12 L719.34,76.24 L719.59,76.37 L719.84,76.49 L720.09,76.62 L720.34,76.74 L720.59,76.87 L720.84,77.00 L721.09,77.13 L721.34,77.26 L721.59,77.39 L721.84,77.52 L722.09,77.65 L722.34,77.78 L722.59,77.91 L722.84,78.04 L723.09,78.18 L723.33,78.31 L723.58,78.45 L723.83,78.58 L724.08,78.72 L724.33,78.86 L724.58,79.00 L724.83,79.14 L725.08,79.28 L725.33,79.42 L725.58,79.56 L725.83,79.70 L726.08,79.85 L726.33,79.99 L726.58,80.14 L726.83,80.29 L727.08,80.43 L727.33,80.58 L727.58,80.73 L727.83,80.89 L728.08,81.04 L728.33,81.19 L728.58,81.35 L728.83,81.50 L729.08,81.66 L729.33,81.82 L729.58,81.98 L729.83,82.14 L730.08,82.30 L730.33,82.47 L730.58,82.64 L730.83,82.80 L731.08,82.97 L731.33,83.14 L731.58,83.32 L731.83,83.49 L732.07,83.67 L732.32,83.84 L732.57,84.02 L732.82,84.21 L733.07,84.39 L733.32,84.58 L733.57,84.76 L733.82,84.96 L734.07,85.15 L734.32,85.34 L734.57,85.54 L734.82,85.74 L735.07,85.94 L735.32,86.15 L735.57,86.36 L735.82,86.57 L736.07,86.78 L736.32,87.00 L736.57,87.22 L736.82,87.45 L737.06,87.67 L737.32,87.91 L737.57,88.14 L737.82,88.38 L738.07,88.62 L738.32,88.87 L738.57,89.12 L738.72,89.28 L739.07,89.64 L739.23,89.81 L739.57,90.18 L739.72,90.35 L740.07,90.74 L740.32,91.03 L740.56,91.33 L740.81,91.63 L741.06,91.94 L741.31,92.26 L741.49,92.48 L741.81,92.91 L742.06,93.26 L742.27,93.55 L742.56,93.97 L742.81,94.34 L743.00,94.62 L743.31,95.11 L743.56,95.52 L743.81,95.94 L743.98,96.23 L744.29,96.77 L744.56,97.28 L744.81,97.76 L745.06,98.26 L745.31,98.78 L745.56,99.32 L745.81,99.88 L746.06,100.47 L746.31,101.09 L746.53,101.66 L746.73,102.21 L746.92,102.75 L747.06,103.14 L747.29,103.85 L747.46,104.41 L747.56,104.71 L747.63,104.96 L747.79,105.51 L747.94,106.07 L748.06,106.49 L748.23,107.18 L748.31,107.48 L748.37,107.73 L748.50,108.29 L748.56,108.55 L748.62,108.85 L748.74,109.41 L748.81,109.71 L748.86,109.97 L748.97,110.53 L749.05,110.98 L749.18,111.66 L749.28,112.22 L749.37,112.79 L749.46,113.35 L749.55,113.92 L749.64,114.48 L749.72,115.05 L749.79,115.62 L749.87,116.19 L749.94,116.75 L750.01,117.32 L750.05,117.71 L750.14,118.46 L750.20,119.04 L750.26,119.61 L750.30,120.07 L750.37,120.75 L750.42,121.32 L750.47,121.90 L750.52,122.47 L750.55,122.91 L750.61,123.62 L750.65,124.20 L750.69,124.77 L750.73,125.35 L750.77,125.92 L750.80,126.46 L750.84,127.08 L750.87,127.65 L750.91,128.23 L750.94,128.81 L750.97,129.39 L750.99,129.97 L751.02,130.54 L751.05,131.12 L751.07,131.70 L751.10,132.28 L751.12,132.86 L751.14,133.44 L751.16,134.02 L751.19,134.60 L751.21,135.18 L751.22,135.76 L751.24,136.34 L751.26,136.92 L751.28,137.50 L751.29,138.08 L751.30,138.40 L751.32,139.25 L751.34,139.83 L751.35,140.41 L751.37,140.99 L751.38,141.57 L751.39,142.16 L751.40,142.74 L751.41,143.32 L751.43,143.90 L751.44,144.49 L751.45,145.07 L751.46,145.65 L751.46,146.23 L751.47,146.82 L751.48,147.40 L751.49,147.98 L751.50,148.57 L751.51,149.15 L751.51,149.73 L751.52,150.32 L751.53,150.90 L751.53,151.48 " stroke="#006400"/>
<path d="M482.00,40.45 L482.25,40.51 L482.50,40.57 L482.75,40.63 L483.00,40.69 L483.25,40.75 L483.50,40.81 L483.75,40.87 L484.00,40.93 L484.25,40.99 L484.50,41.05 L484.75,41.11 L484.99,41.17 L485.24,41.23 L485.49,41.29 L485.74,41.35 L485.99,41.41 L486.24,41.47 L486.49,41.53 L486.74,41.59 L486.99,41.65 L487.24,41.72 L487.49,41.78 L487.74,41.84 L487.99,41.90 L488.24,41.96 L488.49,42.02 L488.74,42.08 L488.99,42.14 L489.24,42.20 L489.49,42.26 L489.74,42.32 L489.99,42.38 L490.24,42.44 L490.49,42.50 L490.74,42.56 L490.99,42.62 L491.24,42.68 L491.49,42.74 L491.74,42.80 L491.99,42.86 L492.24,42.93 L492.49,42.99 L492.74,43.05 L492.99,43.11 L493.24,43.17 L493.49,43.23 L493.74,43.29 L493.99,43.35 L494.24,43.41 L494.49,43.47 L494.74,43.53 L494.99,43.59 L495.24,43.66 L495.49,43.72 L495.74,43.78 L495.99,43.84 L496.24,43.90 L496.49,43.96 L496.74,44.02 L496.99,44.08 L497.24,44.14 L497.49,44.21 L497.74,44.27 L497.99,44.33 L498.24,44.39 L498.49,44.45 L498.73,44.51 L498.98,44.57 L499.23,44.63 L499.48,44.70 L499.73,44.76 L499.98,44.82 L500.23,44.88 L500.48,44.94 L500.73,45.00 L500.98,45.06 L501.23,45.12 L501.48,45.19 L501.73,45.25 L501.98,45.31 L502.23,45.37 L502.48,45.43 L502.73,45.49 L502.98,45.56 L503.23,45.62 L503.48,45.68 L503.73,45.74 L503.98,45.80 L504.23,45.86 L504.48,45.92 L504.73,45.99 L504.98,46.05 L505.23,46.11 L505.48,46.17 L505.73,46.23 L505.98,46.30 L506.23,46.36 L506.48,46.42 L506.73,46.48 L506.98,46.54 L507.23,46.60 L507.48,46.67 L507.73,46.73 L507.98,46.79 L508.23,46.85 L508.48,46.91 L508.73,46.98 L508.98,47.04 L509.23,47.10 L509.48,47.16 L509.73,47.22 L509.98,47.29 L510.23,47.35 L510.48,47.41 L510.73,47.47 L510.98,47.53 L511.23,47.60 L511.48,47.66 L511.73,47.72 L511.98,47.78 L512.23,47.84 L512.47,47.91 L512.72,47.97 L512.97,48.03 L513.22,48.09 L513.47,48.15 L513.72,48.22 L513.97,48.28 L514.22,48.34 L514.47,48.40 L514.72,48.47 L514.97,48.53 L515.22,48.59 L515.47,48.65 L515.72,48.72 L515.97,48.78 L516.22,48.84 L516.47,48.90 L516.72,48.96 L516.97,49.03 L517.22,49.09 L517.47,49.15 L517.72,49.21 L517.97,49.28 L518.22,49.34 L518.47,49.40 L518.72,49.46 L518.97,49.53 L519.22,49.59 L519.47,49.65 L519.72,49.71 L519.97,49.78 L520.22,49.84 L520.47,49.90 L520.72,49.96 L520.97,50.03 L521.22,50.09 L521.47,50.15 L521.72,50.22 L521.97,50.28 L522.22,50.34 L522.47,50.40 L522.72,50.47 L522.97,50.53 L523.22,50.59 L523.47,50.65 L523.72,50.72 L523.97,50.78 L524.22,50.84 L524.47,50.91 L524.72,50.97 L524.97,51.03 L525.22,51.09 L525.47,51.16 L525.72,51.22 L525.97,51.28 L526.21,51.35 L526.46,51.41 L526.71,51.47 L526.96,51.53 L527.21,51.60 L527.46,51.66 L527.71,51.72 L527.96,51.79 L528.21,51.85 L528.46,51.91 L528.71,51.98 L528.96,52.04 L529.21,52.10 L529.46,52.16 L529.71,52.23 L529.96,52.29 L530.21,52.35 L530.46,52.42 L530.71,52.48 L530.96,52.54 L531.21,52.61 L531.46,52.67 L531.71,52.73 L531.96,52.80 L532.21,52.86 L532.46,52.92 L532.71,52.99 L532.96,53.05 L533.21,53.11 L533.46,53.18 L533.71,53.24 L533.96,53.30 L534.21,53.37 L534.46,53.43 L534.71,53.49 L534.96,53.56 L535.21,53.62 L535.46,53.68 L535.71,53.75 L535.96,53.81 L536.21,53.87 L536.46,53.94 L536.71,54.00 L536.96,54.06 L537.21,54.13 L537.46,54.19 L537.71,54.25 L537.96,54.32 L538.21,54.38 L538.46,54.44 L538.71,54.51 L538.96,54.57 L539.21,54.63 L539.46,54.70 L539.71,54.76 L539.95,54.83 L540.20,54.89 L540.45,54.95 L540.70,55.02 L540.95,55.08 L541.20,55.14 L541.45,55.21 L541.70,55.27 L541.95,55.34 L542.20,55.40 L542.45,55.46 L542.70,55.53 L542.95,55.59 L543.20,55.65 L543.45,55.72 L543.70,55.78 L543.95,55.85 L544.20,55.91 L544.45,55.97 L544.70,56.04 L544.95,56.10 L545.20,56.17 L545.45,56.23 L545.70,56.29 L545.95,56.36 L546.20,56.42 L546.45,56.49 L546.70,56.55 L546.95,56.61 L547.20,56.68 L547.45,56.74 L547.70,56.81 L547.95,56.87 L548.20,56.94 L548.45,57.00 L548.70,57.06 L548.95,57.13 L549.20,57.19 L549.45,57.26 L549.70,57.32 L549.95,57.39 L550.20,57.45 L550.45,57.51 L550.70,57.58 L550.95,57.64 L551.20,57.71 L551.45,57.77 L551.70,57.84 L551.95,57.90 L552.20,57.97 L552.45,58.03 L552.70,58.09 L552.95,58.16 L553.20,58.22 L553.45,58.29 L553.70,58.35 L553.94,58.42 L554.19,58.48 L554.44,58.55 L554.69,58.61 L554.94,58.68 L555.19,58.74 L555.44,58.81 L555.69,58.87 L555.94,58.93 L556.19,59.00 L556.44,59.06 L556.69,59.13 L556.94,59.19 L557.19,59.26 L557.44,59.32 L557.69,59.39 L557.94,59.45 L558.19,59.52 L558.44,59.58 L558.69,59.65 L558.94,59.71 L559.19,59.78 L559.44,59.84 L559.69,59.91 L559.94,59.97 L560.19,60.04 L560.44,60.10 L560.69,60.17 L560.94,60.23 L561.19,60.30 L561.44,60.37 L561.69,60.43 L561.94,60.50 L562.19,60.56 L562.44,60.63 L562.69,60.69 L562.94,60.76 L563.19,60.82 L563.44,60.89 L563.69,60.95 L563.94,61.02 L564.19,61.08 L564.44,61.15 L564.69,61.22 L564.94,61.28 L565.19,61.35 L565.44,61.41 L565.69,61.48 L565.94,61.54 L566.19,61.61 L566.44,61.68 L566.69,61.74 L566.94,61.81 L567.19,61.87 L567.44,61.94 L567.68,62.00 L567.93,62.07 L568.18,62.14 L568.43,62.20 L568.68,62.27 L568.93,62.33 L569.18,62.40 L569.43,62.47 L569.68,62.53 L569.93,62.60 L570.18,62.67 L570.43,62.73 L570.68,62.80 L570.93,62.86 L571.18,62.93 L571.43,63.00 L571.68,63.06 L571.93,63.13 L572.18,63.20 L572.43,63.26 L572.68,63.33 L572.93,63.40 L573.18,63.46 L573.43,63.53 L573.68,63.60 L573.93,63.66 L574.18,63.73 L574.43,63.80 L574.68,63.86 L574.93,63.93 L575.18,64.00 L575.43,64.06 L575.68,64.13 L575.93,64.20 L576.18,64.26 L576.43,64.33 L576.68,64.40 L576.93,64.46 L577.18,64.53 L577.43,64.60 L577.68,64.67 L577.93,64.73 L578.18,64.80 L578.43,64.87 L578.68,64.93 L578.93,65.00 L579.18,65.07 L579.43,65.14 L579.68,65.20 L579.93,65.27 L580.18,65.34 L580.43,65.41 L580.68,65.47 L580.93,65.54 L581.18,65.61 L581.42,65.68 L581.67,65.75 L581.92,65.81 L582.17,65.88 L582.42,65.95 L582.67,66.02 L582.92,66.08 L583.17,66.15 L583.42,66.22 L583.67,66.29 L583.92,66.36 L584.17,66.43 L584.42,66.49 L584.67,66.56 L584.92,66.63 L585.17,66.70 L585.42,66.77 L585.67,66.84 L585.92,66.90 L586.17,66.97 L586.42,67.04 L586.67,67.11 L586.92,67.18 L587.17,67.25 L587.42,67.32 L587.67,67.38 L587.92,67.45 L588.17,67.52 L588.42,67.59 L588.67,67.66 L588.92,67.73 L589.17,67.80 L589.42,67.87 L589.67,67.94 L589.92,68.01 L590.17,68.07 L590.42,68.14 L590.67,68.21 L590.92,68.28 L591.17,68.35 L591.42,68.42 L591.67,68.49 L591.92,68.56 L592.17,68.63 L592.42,68.70 L592.67,68.77 L592.92,68.84 L593.17,68.91 L593.42,68.98 L593.67,69.05 L593.92,69.12 L594.17,69.19 L594.42,69.26 L594.67,69.33 L594.92,69.40 L595.16,69.47 L595.41,69.54 L595.66,69.61 L595.91,69.68 L596.16,69.75 L596.41,69.82 L596.66,69.89 L596.91,69.96 L597.16,70.03 L597.41,70.10 L597.66,70.18 L597.91,70.25 L598.16,70.32 L598.41,70.39 L598.66,70.46 L598.91,70.53 L599.16,70.60 L599.41,70.67 L599.66,70.74 L599.91,70.82 L600.16,70.89 L600.41,70.96 L600.66,71.03 L600.91,71.10 L601.16,71.17 L601.41,71.24 L601.66,71.32 L601.91,71.39 L602.16,71.46 L602.41,71.53 L602.66,71.60 L602.91,71.68 L603.16,71.75 L603.41,71.82 L603.66,71.89 L603.91,71.97 L604.16,72.04 L604.41,72.11 L604.66,72.18 L604.91,72.26 L605.16,72.33 L605.41,72.40 L605.66,72.47 L605.91,72.55 L606.16,72.62 L606.41,72.69 L606.66,72.77 L606.91,72.84 L607.16,72.91 L607.41,72.99 L607.66,73.06 L607.91,73.13 L608.16,73.21 L608.41,73.28 L608.66,73.35 L608.90,73.43 L609.15,73.50 L609.40,73.57 L609.65,73.65 L609.90,73.72 L610.15,73.80 L610.40,73.87 L610.65,73.94 L610.90,74.02 L611.15,74.09 L611.40,74.17 L611.65,74.24 L611.90,74.32 L612.15,74.39 L612.40,74.47 L612.65,74.54 L612.90,74.62 L613.15,74.69 L613.40,74.77 L613.65,74.84 L613.90,74.92 L614.15,74.99 L614.40,75.07 L614.65,75.14 L614.90,75.22 L615.15,75.30 L615.40,75.37 L615.65,75.45 L615.90,75.52 L616.15,75.60 L616.40,75.68 L616.65,75.75 L616.90,75.83 L617.15,75.90 L617.40,75.98 L617.65,76.06 L617.90,76.13 L618.15,76.21 L618.40,76.29 L618.65,76.36 L618.90,76.44 L619.15,76.52 L619.40,76.60 L619.65,76.67 L619.90,76.75 L620.15,76.83 L620.40,76.91 L620.65,76.98 L620.90,77.06 L621.15,77.14 L621.40,77.22 L621.65,77.29 L621.90,77.37 L622.15,77.45 L622.40,77.53 L622.64,77.61 L622.89,77.69 L623.14,77.76 L623.39,77.84 L623.64,77.92 L623.89,78.00 L624.14,78.08 L624.39,78.16 L624.64,78.24 L624.89,78.32 L625.14,78.40 L625.39,78.48 L625.64,78.56 L625.89,78.64 L626.14,78.72 L626.39,78.80 L626.64,78.88 L626.89,78.96 L627.14,79.04 L627.39,79.12 L627.64,79.20 L627.89,79.28 L628.14,79.36 L628.39,79.44 L628.64,79.52 L628.89,79.60 L629.14,79.68 L629.39,79.76 L629.64,79.85 L629.89,79.93 L630.14,80.01 L630.39,80.09 L630.64,80.17 L630.89,80.25 L631.14,80.34 L631.39,80.42 L631.64,80.50 L631.89,80.58 L632.14,80.67 L632.39,80.75 L632.64,80.83 L632.89,80.91 L633.14,81.00 L633.39,81.08 L633.64,81.16 L633.89,81.25 L634.14,81.33 L634.39,81.41 L634.64,81.50 L634.89,81.58 L635.14,81.66 L635.39,81.75 L635.64,81.83 L635.89,81.92 L636.14,82.00 L636.38,82.09 L636.63,82.17 L636.88,82.26 L637.13,82.34 L637.38,82.43 L637.63,82.51 L637.88,82.60 L638.13,82.68 L638.38,82.77 L638.63,82.85 L638.88,82.94 L639.13,83.03 L639.38,83.11 L639.63,83.20 L639.88,83.28 L640.13,83.37 L640.38,83.46 L640.63,83.55 L640.88,83.63 L641.13,83.72 L641.38,83.81 L641.63,83.89 L641.88,83.98 L642.13,84.07 L642.38,84.16 L642.63,84.25 L642.88,84.33 L643.13,84.42 L643.38,84.51 L643.63,84.60 L643.88,84.69 L644.13,84.78 L644.38,84.87 L644.63,84.95 L644.88,85.04 L645.13,85.13 L645.38,85.22 L645.63,85.31 L645.88,85.40 L646.13,85.49 L646.38,85.58 L646.63,85.67 L646.88,85.76 L647.13,85.86 L647.38,85.95 L647.63,86.04 L647.88,86.13 L648.13,86.22 L648.38,86.31 L648.63,86.40 L648.88,86.49 L649.13,86.59 L649.38,86.68 L649.63,86.77 L649.88,86.86 L650.12,86.96 L650.37,87.05 L650.62,87.14 L650.87,87.24 L651.12,87.33 L651.37,87.42 L651.62,87.52 L651.87,87.61 L652.12,87.70 L652.37,87.80 L652.62,87.89 L652.87,87.99 L653.12,88.08 L653.37,88.18 L653.62,88.27 L653.87,88.37 L654.12,88.46 L654.37,88.56 L654.62,88.65 L654.87,88.75 L655.12,88.85 L655.37,88.94 L655.62,89.04 L655.87,89.14 L656.12,89.23 L656.37,89.33 L656.62,89.43 L656.87,89.53 L657.12,89.62 L657.37,89.72 L657.62,89.82 L657.87,89.92 L658.12,90.02 L658.37,90.11 L658.62,90.21 L658.87,90.31 L659.12,90.41 L659.37,90.51 L659.62,90.61 L659.87,90.71 L660.12,90.81 L660.37,90.91 L660.62,91.01 L660.87,91.11 L661.12,91.21 L661.37,91.31 L661.62,91.42 L661.87,91.52 L662.12,91.62 L662.37,91.72 L662.62,91.82 L662.87,91.93 L663.12,92.03 L663.37,92.13 L663.62,92.23 L663.86,92.34 L664.11,92.44 L664.36,92.54 L664.61,92.65 L664.86,92.75 L665.11,92.86 L665.36,92.96 L665.61,93.07 L665.86,93.17 L666.11,93.28 L666.36,93.38 L666.61,93.49 L666.86,93.59 L667.11,93.70 L667.36,93.81 L667.61,93.91 L667.86,94.02 L668.11,94.13 L668.36,94.23 L668.61,94.34 L668.86,94.45 L669.11,94.56 L669.36,94.67 L669.61,94.77 L669.86,94.88 L670.11,94.99 L670.36,95.10 L670.61,95.21 L670.86,95.32 L671.11,95.43 L671.36,95.54 L671.61,95.65 L671.86,95.76 L672.11,95.87 L672.36,95.99 L672.61,96.10 L672.86,96.21 L673.11,96.32 L673.36,96.43 L673.61,96.55 L673.86,96.66 L674.11,96.77 L674.36,96.89 L674.61,97.00 L674.86,97.11 L675.11,97.23 L675.36,97.34 L675.61,97.46 L675.86,97.57 L676.11,97.69 L676.36,97.80 L676.61,97.92 L676.86,98.03 L677.11,98.15 L677.36,98.27 L677.60,98.39 L677.85,98.50 L678.10,98.62 L678.35,98.74 L678.60,98.86 L678.85,98.98 L679.10,99.09 L679.35,99.21 L679.60,99.33 L679.85,99.45 L680.10,99.57 L680.35,99.69 L680.60,99.81 L680.85,99.93 L681.10,100.06 L681.35,100.18 L681.60,100.30 L681.85,100.42 L682.10,100.54 L682.35,100.67 L682.60,100.79 L682.85,100.91 L683.10,101.04 L683.35,101.16 L683.60,101.29 L683.85,101.41 L684.10,101.54 L684.35,101.66 L684.60,101.79 L684.85,101.91 L685.10,102.04 L685.35,102.17 L685.60,102.30 L685.85,102.42 L686.10,102.55 L686.35,102.68 L686.60,102.81 L686.85,102.94 L687.10,103.07 L687.35,103.20 L687.60,103.33 L687.85,103.46 L688.10,103.59 L688.35,103.72 L688.60,103.85 L688.85,103.98 L689.10,104.11 L689.35,104.25 L689.60,104.38 L689.85,104.51 L690.10,104.65 L690.35,104.78 L690.60,104.92 L690.85,105.05 L691.10,105.19 L691.35,105.32 L691.59,105.46 L691.84,105.59 L692.09,105.73 L692.34,105.87 L692.59,106.01 L692.84,106.15 L693.09,106.28 L693.34,106.42 L693.59,106.56 L693.84,106.70 L694.09,106.84 L694.34,106.98 L694.59,107.12 L694.84,107.27 L695.09,107.41 L695.34,107.55 L695.59,107.69 L695.84,107.84 L696.09,107.98 L696.34,108.13 L696.59,108.27 L696.84,108.42 L697.09,108.56 L697.34,108.71 L697.59,108.85 L697.84,109.00 L698.09,109.15 L698.34,109.30 L698.59,109.45 L698.84,109.59 L699.09,109.74 L699.34,109.89 L699.59,110.04 L699.84,110.20 L700.09,110.35 L700.34,110.50 L700.59,110.65 L700.84,110.80 L701.09,110.96 L701.34,111.11 L701.59,111.27 L701.84,111.42 L702.09,111.58 L702.34,111.73 L702.59,111.89 L702.84,112.05 L703.09,112.21 L703.34,112.36 L703.59,112.52 L703.84,112.68 L704.09,112.84 L704.34,113.00 L704.59,113.17 L704.84,113.33 L705.09,113.49 L705.33,113.65 L705.58,113.82 L705.83,113.98 L706.08,114.15 L706.33,114.31 L706.58,114.48 L706.83,114.64 L707.08,114.81 L707.33,114.98 L707.58,115.15 L707.83,115.32 L708.08,115.49 L708.33,115.66 L708.58,115.83 L708.83,116.00 L709.08,116.17 L709.33,116.35 L709.58,116.52 L709.83,116.70 L710.08,116.87 L710.33,117.05 L710.58,117.22 L710.83,117.40 L711.08,117.58 L711.33,117.76 L711.58,117.94 L711.83,118.12 L712.08,118.30 L712.33,118.48 L712.58,118.66 L712.83,118.85 L713.08,119.03 L713.33,119.22 L713.58,119.40 L713.83,119.59 L714.08,119.78 L714.33,119.97 L714.58,120.16 L714.83,120.35 L715.08,120.54 L715.33,120.73 L715.58,120.92 L715.83,121.12 L716.08,121.31 L716.33,121.51 L716.58,121.70 L716.83,121.90 L717.08,122.10 L717.33,122.30 L717.58,122.50 L717.83,122.70 L718.08,122.90 L718.33,123.10 L718.58,123.31 L718.83,123.51 L719.07,123.72 L719.32,123.92 L719.57,124.13 L719.82,124.34 L720.07,124.55 L720.32,124.76 L720.57,124.98 L720.82,125.19 L721.07,125.41 L721.32,125.62 L721.57,125.84 L721.82,126.06 L722.07,126.28 L722.32,126.50 L722.57,126.72 L722.82,126.94 L723.07,127.17 L723.32,127.39 L723.57,127.62 L723.82,127.85 L724.07,128.08 L724.32,128.31 L724.57,128.54 L724.82,128.78 L725.07,129.01 L725.32,129.25 L725.57,129.49 L725.82,129.73 L726.07,129.97 L726.32,130.22 L726.57,130.46 L726.82,130.71 L727.07,130.95 L727.32,131.20 L727.57,131.46 L727.82,131.71 L728.07,131.96 L728.32,132.22 L728.57,132.48 L728.82,132.74 L729.07,133.00 L729.32,133.27 L729.57,133.53 L729.82,133.80 L730.07,134.07 L730.32,134.35 L730.57,134.62 L730.82,134.90 L731.07,135.18 L731.32,135.46 L731.57,135.74 L731.82,136.03 L732.07,136.32 L732.32,136.61 L732.57,136.90 L732.81,137.20 L733.06,137.50 L733.31,137.80 L733.56,138.10 L733.81,138.41 L734.06,138.72 L734.31,139.03 L734.56,139.35 L734.81,139.67 L735.06,139.99 L735.31,140.32 L735.56,140.65 L735.81,140.98 L736.06,141.32 L736.31,141.66 L736.56,142.01 L736.81,142.35 L736.97,142.57 L737.31,143.06 L737.56,143.43 L737.81,143.79 L738.06,144.16 L738.31,144.54 L738.56,144.92 L738.69,145.12 L738.81,145.30 L739.06,145.70 L739.22,145.95 L739.56,146.49 L739.73,146.77 L740.06,147.32 L740.22,147.58 L740.56,148.17 L740.69,148.39 L740.81,148.60 L741.06,149.04 L741.31,149.49 L741.56,149.95 L741.81,150.42 L741.99,150.76 L742.31,151.37 L742.56,151.87 L742.78,152.31 L743.06,152.89 L743.31,153.41 L743.50,153.83 L743.81,154.50 L744.06,155.06 L744.17,155.32 L744.31,155.64 L744.48,156.06 L744.79,156.79 L745.06,157.46 L745.31,158.11 L745.56,158.77 L745.81,159.45 L746.06,160.16 L746.31,160.89 L746.55,161.65 L746.80,162.43 L747.03,163.17 L747.23,163.85 L747.30,164.11 L747.43,164.53 L747.55,165.00 L747.79,165.89 L747.97,166.56 L748.05,166.91 L748.13,167.23 L748.29,167.90 L748.44,168.56 L748.55,169.05 L748.73,169.87 L748.80,170.21 L748.87,170.53 L749.00,171.18 L749.05,171.46 L749.12,171.83 L749.24,172.48 L749.30,172.80 L749.36,173.12 L749.47,173.76 L749.55,174.24 L749.68,175.04 L749.78,175.67 L749.87,176.31 L749.97,176.94 L750.05,177.56 L750.14,178.20 L750.22,178.83 L750.30,179.45 L750.37,180.07 L750.44,180.70 L750.51,181.32 L750.55,181.71 L750.64,182.55 L750.70,183.17 L750.76,183.79 L750.80,184.25 L750.87,185.01 L750.92,185.63 L750.97,186.24 L751.02,186.85 L751.05,187.27 L751.11,188.06 L751.15,188.67 L751.19,189.28 L751.23,189.88 L751.27,190.49 L751.30,191.01 L751.34,191.70 L751.37,192.30 L751.41,192.90 L751.44,193.50 L751.47,194.10 L751.50,194.70 L751.52,195.30 L751.55,195.90 L751.57,196.50 L751.60,197.10 L751.62,197.69 L751.64,198.29 L751.67,198.89 L751.69,199.48 L751.71,200.08 L751.73,200.67 L751.74,201.27 L751.76,201.86 L751.78,202.46 L751.80,203.05 " stroke="#8b4513"/>
<path d="M409.25,40.40 L409.50,40.48 L409.75,40.55 L410.00,40.62 L410.25,40.70 L410.50,40.77 L410.75,40.85 L411.00,40.92 L411.25,41.00 L411.50,41.07 L411.75,41.15 L412.00,41.22 L412.25,41.29 L412.50,41.37 L412.75,41.44 L413.00,41.52 L413.25,41.59 L413.50,41.67 L413.75,41.74 L414.00,41.82 L414.25,41.89 L414.50,41.96 L414.75,42.04 L415.00,42.11 L415.25,42.19 L415.50,42.26 L415.75,42.34 L416.00,42.41 L416.25,42.49 L416.50,42.56 L416.74,42.64 L416.99,42.71 L417.24,42.78 L417.49,42.86 L417.74,42.93 L417.99,43.01 L418.24,43.08 L418.49,43.16 L418.74,43.23 L418.99,43.31 L419.24,43.38 L419.49,43.46 L419.74,43.53 L419.99,43.61 L420.24,43.68 L420.49,43.76 L420.74,43.83 L420.99,43.90 L421.24,43.98 L421.49,44.05 L421.74,44.13 L421.99,44.20 L422.24,44.28 L422.49,44.35 L422.74,44.43 L422.99,44.50 L423.24,44.58 L423.49,44.65 L423.74,44.73 L423.99,44.80 L424.24,44.88 L424.49,44.95 L424.74,45.03 L424.99,45.10 L425.24,45.18 L425.49,45.25 L425.74,45.33 L425.99,45.40 L426.24,45.48 L426.49,45.55 L426.74,45.63 L426.99,45.70 L427.24,45.78 L427.49,45.85 L427.74,45.93 L427.99,46.00 L428.24,46.08 L428.49,46.15 L428.74,46.23 L428.99,46.31 L429.24,46.38 L429.49,46.46 L429.74,46.53 L429.99,46.61 L430.24,46.68 L430.49,46.76 L430.74,46.83 L430.99,46.91 L431.24,46.99 L431.49,47.06 L431.74,47.14 L431.99,47.21 L432.24,47.29 L432.49,47.36 L432.74,47.44 L432.99,47.52 L433.24,47.59 L433.49,47.67 L433.74,47.74 L433.98,47.82 L434.23,47.89 L434.48,47.97 L434.73,48.05 L434.98,48.12 L435.23,48.20 L435.48,48.27 L435.73,48.35 L435.98,48.43 L436.23,48.50 L436.48,48.58 L436.73,48.66 L436.98,48.73 L437.23,48.81 L437.48,48.89 L437.73,48.96 L437.98,49.04 L438.23,49.11 L438.48,49.19 L438.73,49.27 L438.98,49.34 L439.23,49.42 L439.48,49.50 L439.73,49.57 L439.98,49.65 L440.23,49.73 L440.48,49.81 L440.73,49.88 L440.98,49.96 L441.23,50.04 L441.48,50.11 L441.73,50.19 L441.98,50.27 L442.23,50.34 L442.48,50.42 L442.73,50.50 L442.98,50.58 L443.23,50.65 L443.48,50.73 L443.73,50.81 L443.98,50.89 L444.23,50.96 L444.48,51.04 L444.73,51.12 L444.98,51.20 L445.23,51.27 L445.48,51.35 L445.73,51.43 L445.98,51.51 L446.23,51.58 L446.48,51.66 L446.73,51.74 L446.98,51.82 L447.23,51.90 L447.48,51.97 L447.73,52.05 L447.98,52.13 L448.23,52.21 L448.48,52.29 L448.73,52.37 L448.98,52.44 L449.23,52.52 L449.48,52.60 L449.73,52.68 L449.98,52.76 L450.23,52.84 L450.48,52.92 L450.73,52.99 L450.98,53.07 L451.22,53.15 L451.47,53.23 L451.72,53.31 L451.97,53.39 L452.22,53.47 L452.47,53.55 L452.72,53.63 L452.97,53.71 L453.22,53.79 L453.47,53.87 L453.72,53.94 L453.97,54.02 L454.22,54.10 L454.47,54.18 L454.72,54.26 L454.97,54.34 L455.22,54.42 L455.47,54.50 L455.72,54.58 L455.97,54.66 L456.22,54.74 L456.47,54.82 L456.72,54.90 L456.97,54.98 L457.22,55.06 L457.47,55.14 L457.72,55.22 L457.97,55.30 L458.22,55.38 L458.47,55.47 L458.72,55.55 L458.97,55.63 L459.22,55.71 L459.47,55.79 L459.72,55.87 L459.97,55.95 L460.22,56.03 L460.47,56.11 L460.72,56.19 L460.97,56.27 L461.22,56.36 L461.47,56.44 L461.72,56.52 L461.97,56.60 L462.22,56.68 L462.47,56.76 L462.72,56.85 L462.97,56.93 L463.22,57.01 L463.47,57.09 L463.72,57.17 L463.97,57.25 L464.22,57.34 L464.47,57.42 L464.72,57.50 L464.97,57.58 L465.22,57.67 L465.47,57.75 L465.72,57.83 L465.97,57.91 L466.22,58.00 L466.47,58.08 L466.72,58.16 L466.97,58.25 L467.22,58.33 L467.47,58.41 L467.72,58.49 L467.97,58.58 L468.22,58.66 L468.46,58.74 L468.71,58.83 L468.96,58.91 L469.21,58.99 L469.46,59.08 L469.71,59.16 L469.96,59.25 L470.21,59.33 L470.46,59.41 L470.71,59.50 L470.96,59.58 L471.21,59.67 L471.46,59.75 L471.71,59.84 L471.96,59.92 L472.21,60.00 L472.46,60.09 L472.71,60.17 L472.96,60.26 L473.21,60.34 L473.46,60.43 L473.71,60.51 L473.96,60.60 L474.21,60.68 L474.46,60.77 L474.71,60.85 L474.96,60.94 L475.21,61.03 L475.46,61.11 L475.71,61.20 L475.96,61.28 L476.21,61.37 L476.46,61.45 L476.71,61.54 L476.96,61.63 L477.21,61.71 L477.46,61.80 L477.71,61.89 L477.96,61.97 L478.21,62.06 L478.46,62.15 L478.71,62.23 L478.96,62.32 L479.21,62.41 L479.46,62.49 L479.71,62.58 L479.96,62.67 L480.21,62.75 L480.46,62.84 L480.71,62.93 L480.96,63.02 L481.21,63.10 L481.46,63.19 L481.71,63.28 L481.96,63.37 L482.21,63.46 L482.46,63.54 L482.71,63.63 L482.96,63.72 L483.21,63.81 L483.46,63.90 L483.71,63.99 L483.96,64.08 L484.21,64.16 L484.46,64.25 L484.71,64.34 L484.96,64.43 L485.21,64.52 L485.46,64.61 L485.70,64.70 L485.95,64.79 L486.20,64.88 L486.45,64.97 L486.70,65.06 L486.95,65.15 L487.20,65.24 L487.45,65.33 L487.70,65.42 L487.95,65.51 L488.20,65.60 L488.45,65.69 L488.70,65.78 L488.95,65.87 L489.20,65.96 L489.45,66.05 L489.70,66.14 L489.95,66.23 L490.20,66.33 L490.45,66.42 L490.70,66.51 L490.95,66.60 L491.20,66.69 L491.45,66.78 L491.70,66.87 L491.95,66.97 L492.20,67.06 L492.45,67.15 L492.70,67.24 L492.95,67.34 L493.20,67.43 L493.45,67.52 L493.70,67.61 L493.95,67.71 L494.20,67.80 L494.45,67.89 L494.70,67.99 L494.95,68.08 L495.20,68.17 L495.45,68.27 L495.70,68.36 L495.95,68.45 L496.20,68.55 L496.45,68.64 L496.70,68.73 L496.95,68.83 L497.20,68.92 L497.45,69.02 L497.70,69.11 L497.95,69.21 L498.20,69.30 L498.45,69.40 L498.70,69.49 L498.95,69.59 L499.20,69.68 L499.45,69.78 L499.70,69.87 L499.95,69.97 L500.20,70.06 L500.45,70.16 L500.70,70.25 L500.95,70.35 L501.20,70.45 L501.45,70.54 L501.70,70.64 L501.95,70.74 L502.20,70.83 L502.45,70.93 L502.70,71.03 L502.95,71.12 L503.19,71.22 L503.44,71.32 L503.69,71.41 L503.94,71.51 L504.19,71.61 L504.44,71.71 L504.69,71.81 L504.94,71.90 L505.19,72.00 L505.44,72.10 L505.69,72.20 L505.94,72.30 L506.19,72.40 L506.44,72.49 L506.69,72.59 L506.94,72.69 L507.19,72.79 L507.44,72.89 L507.69,72.99 L507.94,73.09 L508.19,73.19 L508.44,73.29 L508.69,73.39 L508.94,73.49 L509.19,73.59 L509.44,73.69 L509.69,73.79 L509.94,73.89 L510.19,73.99 L510.44,74.09 L510.69,74.19 L510.94,74.29 L511.19,74.39 L511.44,74.50 L511.69,74.60 L511.94,74.70 L512.19,74.80 L512.44,74.90 L512.69,75.00 L512.94,75.11 L513.19,75.21 L513.44,75.31 L513.69,75.41 L513.94,75.52 L514.19,75.62 L514.44,75.72 L514.69,75.83 L514.94,75.93 L515.19,76.03 L515.44,76.14 L515.69,76.24 L515.94,76.34 L516.19,76.45 L516.44,76.55 L516.69,76.66 L516.94,76.76 L517.19,76.86 L517.44,76.97 L517.69,77.07 L517.94,77.18 L518.19,77.28 L518.44,77.39 L518.69,77.50 L518.94,77.60 L519.19,77.71 L519.44,77.81 L519.69,77.92 L519.94,78.02 L520.19,78.13 L520.43,78.24 L520.68,78.34 L520.93,78.45 L521.18,78.56 L521.43,78.66 L521.68,78.77 L521.93,78.88 L522.18,78.99 L522.43,79.09 L522.68,79.20 L522.93,79.31 L523.18,79.42 L523.43,79.53 L523.68,79.63 L523.93,79.74 L524.18,79.85 L524.43,79.96 L524.68,80.07 L524.93,80.18 L525.18,80.29 L525.43,80.40 L525.68,80.51 L525.93,80.62 L526.18,80.73 L526.43,80.84 L526.68,80.95 L526.93,81.06 L527.18,81.17 L527.43,81.28 L527.68,81.39 L527.93,81.50 L528.18,81.61 L528.43,81.72 L528.68,81.84 L528.93,81.95 L529.18,82.06 L529.43,82.17 L529.68,82.28 L529.93,82.40 L530.18,82.51 L530.43,82.62 L530.68,82.74 L530.93,82.85 L531.18,82.96 L531.43,83.07 L531.68,83.19 L531.93,83.30 L532.18,83.42 L532.43,83.53 L532.68,83.64 L532.93,83.76 L533.18,83.87 L533.43,83.99 L533.68,84.10 L533.93,84.22 L534.18,84.33 L534.43,84.45 L534.68,84.57 L534.93,84.68 L535.18,84.80 L535.43,84.91 L535.68,85.03 L535.93,85.15 L536.18,85.26 L536.43,85.38 L536.68,85.50 L536.93,85.61 L537.18,85.73 L537.43,85.85 L537.67,85.97 L537.92,86.09 L538.17,86.20 L538.42,86.32 L538.67,86.44 L538.92,86.56 L539.17,86.68 L539.42,86.80 L539.67,86.92 L539.92,87.04 L540.17,87.16 L540.42,87.28 L540.67,87.40 L540.92,87.52 L541.17,87.64 L541.42,87.76 L541.67,87.88 L541.92,88.00 L542.17,88.12 L542.42,88.24 L542.67,88.36 L542.92,88.48 L543.17,88.61 L543.42,88.73 L543.67,88.85 L543.92,88.97 L544.17,89.10 L544.42,89.22 L544.67,89.34 L544.92,89.46 L545.17,89.59 L545.42,89.71 L545.67,89.84 L545.92,89.96 L546.17,90.08 L546.42,90.21 L546.67,90.33 L546.92,90.46 L547.17,90.58 L547.42,90.71 L547.67,90.83 L547.92,90.96 L548.17,91.09 L548.42,91.21 L548.67,91.34 L548.92,91.46 L549.17,91.59 L549.42,91.72 L549.67,91.85 L549.92,91.97 L550.17,92.10 L550.42,92.23 L550.67,92.36 L550.92,92.48 L551.17,92.61 L551.42,92.74 L551.67,92.87 L551.92,93.00 L552.17,93.13 L552.42,93.26 L552.67,93.39 L552.92,93.52 L553.17,93.65 L553.42,93.78 L553.67,93.91 L553.92,94.04 L554.17,94.17 L554.42,94.30 L554.67,94.43 L554.91,94.57 L555.16,94.70 L555.41,94.83 L555.66,94.96 L555.91,95.09 L556.16,95.23 L556.41,95.36 L556.66,95.49 L556.91,95.63 L557.16,95.76 L557.41,95.89 L557.66,96.03 L557.91,96.16 L558.16,96.30 L558.41,96.43 L558.66,96.57 L558.91,96.70 L559.16,96.84 L559.41,96.97 L559.66,97.11 L559.91,97.25 L560.16,97.38 L560.41,97.52 L560.66,97.66 L560.91,97.79 L561.16,97.93 L561.41,98.07 L561.66,98.21 L561.91,98.35 L562.16,98.48 L562.41,98.62 L562.66,98.76 L562.91,98.90 L563.16,99.04 L563.41,99.18 L563.66,99.32 L563.91,99.46 L564.16,99.60 L564.41,99.74 L564.66,99.88 L564.91,100.02 L565.16,100.17 L565.41,100.31 L565.66,100.45 L565.91,100.59 L566.16,100.73 L566.41,100.88 L566.66,101.02 L566.91,101.16 L567.16,101.31 L567.41,101.45 L567.66,101.59 L567.91,101.74 L568.16,101.88 L568.41,102.03 L568.66,102.17 L568.91,102.32 L569.16,102.46 L569.41,102.61 L569.66,102.76 L569.91,102.90 L570.16,103.05 L570.41,103.20 L570.66,103.34 L570.91,103.49 L571.16,103.64 L571.41,103.79 L571.66,103.94 L571.91,104.08 L572.15,104.23 L572.40,104.38 L572.65,104.53 L572.90,104.68 L573.15,104.83 L573.40,104.98 L573.65,105.13 L573.90,105.28 L574.15,105.44 L574.40,105.59 L574.65,105.74 L574.90,105.89 L575.15,106.04 L575.40,106.20 L575.65,106.35 L575.90,106.50 L576.15,106.66 L576.40,106.81 L576.65,106.96 L576.90,107.12 L577.15,107.27 L577.40,107.43 L577.65,107.58 L577.90,107.74 L578.15,107.90 L578.40,108.05 L578.65,108.21 L578.90,108.37 L579.15,108.52 L579.40,108.68 L579.65,108.84 L579.90,109.00 L580.15,109.16 L580.40,109.31 L580.65,109.47 L580.90,109.63 L581.15,109.79 L581.40,109.95 L581.65,110.11 L581.90,110.27 L582.15,110.44 L582.40,110.60 L582.65,110.76 L582.90,110.92 L583.15,111.08 L583.40,111.25 L583.65,111.41 L583.90,111.57 L584.15,111.74 L584.40,111.90 L584.65,112.06 L584.90,112.23 L585.15,112.39 L585.40,112.56 L585.65,112.73 L585.90,112.89 L586.15,113.06 L586.40,113.23 L586.65,113.39 L586.90,113.56 L587.15,113.73 L587.40,113.90 L587.65,114.07 L587.90,114.23 L588.15,114.40 L588.40,114.57 L588.65,114.74 L588.90,114.91 L589.15,115.08 L589.39,115.26 L589.64,115.43 L589.89,115.60 L590.14,115.77 L590.39,115.94 L590.64,116.12 L590.89,116.29 L591.14,116.46 L591.39,116.64 L591.64,116.81 L591.89,116.99 L592.14,117.16 L592.39,117.34 L592.64,117.52 L592.89,117.69 L593.14,117.87 L593.39,118.05 L593.64,118.22 L593.89,118.40 L594.14,118.58 L594.39,118.76 L594.64,118.94 L594.89,119.12 L595.14,119.30 L595.39,119.48 L595.64,119.66 L595.89,119.84 L596.14,120.02 L596.39,120.21 L596.64,120.39 L596.89,120.57 L597.14,120.76 L597.39,120.94 L597.64,121.12 L597.89,121.31 L598.14,121.49 L598.39,121.68 L598.64,121.87 L598.89,122.05 L599.14,122.24 L599.39,122.43 L599.64,122.61 L599.89,122.80 L600.14,122.99 L600.39,123.18 L600.64,123.37 L600.89,123.56 L601.14,123.75 L601.39,123.94 L601.64,124.13 L601.89,124.33 L602.14,124.52 L602.39,124.71 L602.64,124.90 L602.89,125.10 L603.14,125.29 L603.39,125.49 L603.64,125.68 L603.89,125.88 L604.14,126.08 L604.39,126.27 L604.64,126.47 L604.89,126.67 L605.14,126.87 L605.39,127.06 L605.64,127.26 L605.89,127.46 L606.14,127.66 L606.39,127.86 L606.63,128.07 L606.88,128.27 L607.13,128.47 L607.38,128.67 L607.63,128.88 L607.88,129.08 L608.13,129.28 L608.38,129.49 L608.63,129.70 L608.88,129.90 L609.13,130.11 L609.38,130.32 L609.63,130.52 L609.88,130.73 L610.13,130.94 L610.38,131.15 L610.63,131.36 L610.88,131.57 L611.13,131.78 L611.38,131.99 L611.63,132.20 L611.88,132.42 L612.13,132.63 L612.38,132.85 L612.63,133.06 L612.88,133.27 L613.13,133.49 L613.38,133.71 L613.63,133.92 L613.88,134.14 L614.13,134.36 L614.38,134.58 L614.63,134.80 L614.88,135.02 L615.13,135.24 L615.38,135.46 L615.63,135.68 L615.88,135.90 L616.13,136.13 L616.38,136.35 L616.63,136.58 L616.88,136.80 L617.13,137.03 L617.38,137.25 L617.63,137.48 L617.88,137.71 L618.13,137.94 L618.38,138.17 L618.63,138.40 L618.88,138.63 L619.13,138.86 L619.38,139.09 L619.63,139.32 L619.88,139.56 L620.13,139.79 L620.38,140.02 L620.63,140.26 L620.88,140.50 L621.13,140.73 L621.38,140.97 L621.63,141.21 L621.88,141.45 L622.13,141.69 L622.38,141.93 L622.63,142.17 L622.88,142.41 L623.13,142.65 L623.38,142.90 L623.63,143.14 L623.87,143.39 L624.12,143.63 L624.37,143.88 L624.62,144.13 L624.87,144.38 L625.12,144.63 L625.37,144.88 L625.62,145.13 L625.87,145.38 L626.12,145.63 L626.37,145.88 L626.62,146.14 L626.87,146.39 L627.12,146.65 L627.37,146.91 L627.62,147.16 L627.87,147.42 L628.12,147.68 L628.37,147.94 L628.62,148.20 L628.87,148.47 L629.12,148.73 L629.37,148.99 L629.62,149.26 L629.87,149.52 L630.12,149.79 L630.37,150.06 L630.62,150.33 L630.87,150.60 L631.12,150.87 L631.37,151.14 L631.62,151.41 L631.87,151.68 L632.12,151.96 L632.37,152.23 L632.62,152.51 L632.87,152.79 L633.12,153.07 L633.37,153.35 L633.62,153.63 L633.87,153.91 L634.12,154.19 L634.37,154.48 L634.62,154.76 L634.87,155.05 L635.12,155.33 L635.37,155.62 L635.62,155.91 L635.87,156.20 L636.12,156.49 L636.37,156.79 L636.62,157.08 L636.87,157.38 L637.12,157.67 L637.37,157.97 L637.62,158.27 L637.87,158.57 L638.12,158.87 L638.37,159.17 L638.62,159.47 L638.87,159.78 L639.12,160.09 L639.37,160.39 L639.62,160.70 L639.87,161.01 L640.12,161.32 L640.37,161.64 L640.62,161.95 L640.87,162.27 L641.11,162.58 L641.36,162.90 L641.61,163.22 L641.86,163.54 L642.11,163.86 L642.36,164.19 L642.61,164.51 L642.86,164.84 L643.11,165.17 L643.36,165.50 L643.61,165.83 L643.86,166.16 L644.11,166.49 L644.36,166.83 L644.61,167.17 L644.86,167.50 L645.11,167.84 L645.36,168.19 L645.61,168.53 L645.86,168.88 L646.11,169.22 L646.36,169.57 L646.61,169.92 L646.86,170.27 L647.11,170.63 L647.36,170.98 L647.61,171.34 L647.86,171.70 L648.11,172.06 L648.36,172.42 L648.61,172.79 L648.86,173.15 L649.11,173.52 L649.36,173.89 L649.61,174.26 L649.86,174.64 L650.11,175.01 L650.36,175.39 L650.61,175.77 L650.86,176.15 L651.11,176.53 L651.36,176.92 L651.61,177.31 L651.86,177.70 L652.11,178.09 L652.36,178.49 L652.61,178.88 L652.86,179.28 L653.11,179.68 L653.36,180.09 L653.61,180.49 L653.86,180.90 L654.11,181.31 L654.36,181.73 L654.61,182.14 L654.86,182.56 L655.11,182.98 L655.36,183.40 L655.61,183.83 L655.86,184.26 L656.11,184.69 L656.36,185.12 L656.61,185.56 L656.86,186.00 L657.11,186.44 L657.36,186.88 L657.61,187.33 L657.86,187.78 L658.11,188.23 L658.35,188.69 L658.60,189.15 L658.85,189.61 L659.10,190.08 L659.35,190.55 L659.60,191.02 L659.85,191.49 L660.10,191.97 L660.35,192.45 L660.60,192.94 L660.85,193.43 L661.10,193.92 L661.35,194.42 L661.60,194.91 L661.85,195.42 L662.10,195.92 L662.35,196.43 L662.60,196.95 L662.85,197.47 L663.10,197.99 L663.35,198.52 L663.60,199.05 L663.85,199.58 L664.10,200.12 L664.35,200.66 L664.60,201.21 L664.85,201.76 L665.10,202.32 L665.35,202.88 L665.60,203.44 L665.85,204.02 L666.10,204.59 L666.35,205.17 L666.60,205.76 L666.85,206.35 L667.10,206.94 L667.35,207.54 L667.60,208.15 L667.85,208.76 L668.10,209.38 L668.35,210.00 L668.60,210.63 L668.85,211.27 L669.10,211.91 L669.35,212.56 L669.60,213.21 L669.85,213.87 L670.10,214.54 L670.35,215.21 L670.60,215.90 L670.85,216.58 L671.10,217.28 L671.35,217.98 L671.60,218.69 L671.85,219.41 L672.10,220.14 L672.35,220.87 L672.60,221.61 L672.85,222.36 L673.10,223.12 L673.35,223.89 L673.60,224.67 L673.85,225.46 L674.10,226.26 L674.35,227.06 L674.60,227.88 L674.85,228.71 L675.10,229.54 L675.35,230.39 L675.60,231.25 L675.84,232.13 L676.09,233.01 L676.34,233.91 L676.59,234.81 L676.84,235.74 L677.09,236.67 L677.34,237.62 L677.55,238.40 L677.84,239.56 L678.05,240.38 L678.34,241.56 L678.54,242.37 L678.84,243.63 L679.01,244.34 L679.09,244.69 L679.34,245.77 L679.47,246.32 L679.59,246.86 L679.84,247.98 L679.91,248.30 L680.09,249.11 L680.34,250.27 L680.59,251.44 L680.76,252.24 L680.84,252.64 L681.09,253.87 L681.16,254.20 L681.34,255.11 L681.55,256.17 L681.84,257.68 L681.93,258.13 L682.09,259.01 L684.70,277.20 L687.20,294.50 L689.50,311.70 L691.60,329.00 L693.80,346.20 L695.00,353.10 L695.90,346.20 L697.60,329.00 L699.00,311.70 L700.70,294.50 L702.80,277.20 L705.58,259.82 L705.83,258.70 L706.03,257.80 L706.33,256.53 L706.45,256.02 L706.58,255.48 L706.83,254.45 L707.08,253.44 L707.32,252.47 L707.58,251.48 L707.78,250.70 L708.08,249.59 L708.25,248.94 L708.33,248.67 L708.58,247.77 L708.74,247.19 L708.83,246.89 L709.08,246.02 L709.24,245.44 L709.33,245.16 L709.58,244.32 L709.83,243.50 L710.08,242.69 L710.32,241.89 L710.57,241.11 L710.82,240.34 L711.07,239.58 L711.32,238.83 L711.57,238.10 L711.82,237.37 L712.07,236.66 L712.32,235.96 L712.57,235.27 L712.82,234.59 L713.07,233.92 L713.32,233.26 L713.57,232.61 L713.82,231.97 L714.07,231.33 L714.32,230.71 L714.57,230.10 L714.82,229.49 L715.07,228.90 L715.32,228.31 L715.57,227.73 L715.82,227.15 L716.07,226.59 L716.32,226.03 L716.57,225.48 L716.82,224.94 L717.07,224.41 L717.32,223.88 L717.57,223.36 L717.82,222.84 L718.07,222.34 L718.32,221.84 L718.57,221.34 L718.82,220.86 L719.07,220.38 L719.32,219.90 L719.57,219.43 L719.82,218.97 L720.07,218.51 L720.32,218.06 L720.57,217.62 L720.82,217.18 L721.07,216.74 L721.32,216.32 L721.57,215.89 L721.82,215.48 L722.07,215.07 L722.32,214.66 L722.57,214.26 L722.82,213.86 L723.07,213.47 L723.32,213.09 L723.57,212.71 L723.82,212.33 L724.07,211.96 L724.32,211.59 L724.57,211.23 L724.82,210.88 L725.07,210.53 L725.32,210.18 L725.57,209.84 L725.82,209.50 L726.07,209.17 L726.32,208.84 L726.57,208.52 L726.82,208.20 L727.07,207.88 L727.32,207.58 L727.56,207.27 L727.81,206.97 L728.06,206.67 L728.31,206.38 L728.56,206.09 L728.81,205.81 L729.06,205.53 L729.31,205.26 L729.56,204.99 L729.81,204.73 L730.06,204.47 L730.31,204.21 L730.56,203.96 L730.81,203.71 L731.06,203.47 L731.31,203.23 L731.56,203.00 L731.81,202.77 L732.06,202.54 L732.31,202.32 L732.56,202.11 L732.81,201.90 L733.06,201.69 L733.31,201.49 L733.56,201.29 L733.81,201.10 L734.06,200.91 L734.31,200.73 L734.56,200.55 L734.81,200.38 L735.06,200.21 L735.31,200.05 L735.56,199.89 L735.81,199.74 L736.06,199.60 L736.31,199.45 L736.56,199.32 L736.81,199.19 L737.06,199.06 L737.31,198.95 L737.56,198.83 L737.81,198.73 L738.03,198.64 L738.31,198.53 L738.56,198.44 L738.81,198.36 L739.06,198.29 L739.31,198.22 L739.56,198.16 L739.81,198.11 L740.11,198.05 L740.56,198.00 L741.04,197.96 L741.47,197.96 L741.81,197.98 L742.29,198.04 L742.56,198.09 L742.81,198.15 L743.04,198.21 L743.31,198.30 L743.56,198.39 L743.81,198.50 L744.06,198.63 L744.31,198.77 L744.56,198.92 L744.80,199.10 L745.05,199.29 L745.25,199.45 L745.52,199.70 L745.78,199.96 L746.03,200.23 L746.26,200.52 L746.49,200.82 L746.71,201.13 L746.92,201.45 L747.05,201.67 L747.30,202.10 L747.51,202.49 L747.69,202.85 L747.80,203.10 L748.03,203.61 L748.19,204.00 L748.30,204.30 L748.49,204.81 L748.63,205.22 L748.76,205.64 L748.89,206.07 L749.02,206.50 L749.14,206.94 L749.26,207.39 L749.37,207.84 L749.47,208.30 L749.55,208.65 L749.68,209.23 L749.77,209.70 L749.86,210.18 L749.95,210.66 L750.03,211.15 L750.11,211.63 L750.19,212.13 L750.27,212.63 L750.34,213.13 L750.41,213.63 L750.47,214.14 L750.54,214.65 L750.60,215.16 L750.66,215.68 L750.71,216.20 L750.77,216.72 L750.80,217.08 L750.87,217.77 L750.92,218.30 L750.96,218.83 L751.01,219.36 L751.05,219.90 L751.09,220.43 L751.13,220.97 L751.17,221.51 L751.20,222.06 L751.24,222.60 L751.27,223.15 L751.30,223.67 L751.33,224.24 L751.36,224.79 L751.39,225.35 L751.42,225.90 L751.45,226.45 L751.47,227.01 L751.49,227.57 L751.52,228.13 L751.54,228.68 L751.56,229.24 L751.58,229.81 L751.60,230.37 L751.62,230.93 L751.64,231.49 L751.66,232.06 L751.67,232.62 L751.69,233.19 L751.71,233.76 L751.72,234.33 L751.74,234.89 L751.75,235.46 L751.76,236.03 L751.78,236.60 L751.79,237.17 L751.80,237.75 L751.81,238.32 L751.82,238.89 L751.83,239.46 L751.84,240.04 L751.85,240.61 L751.86,241.19 L751.87,241.76 L751.88,242.34 L751.89,242.91 L751.90,243.49 L751.90,244.06 L751.91,244.64 L751.92,245.22 L751.92,245.79 L751.93,246.37 L751.94,246.95 L751.94,247.53 L751.95,248.11 " stroke="#6495ed"/>
<path d="M328.00,40.47 L328.25,40.55 L328.50,40.64 L328.75,40.73 L329.00,40.82 L329.25,40.91 L329.50,41.00 L329.75,41.09 L330.00,41.18 L330.25,41.27 L330.50,41.36 L330.75,41.45 L331.00,41.54 L331.25,41.63 L331.50,41.73 L331.75,41.82 L332.00,41.91 L332.25,42.01 L332.50,42.10 L332.75,42.19 L333.00,42.29 L333.25,42.38 L333.50,42.48 L333.75,42.58 L334.00,42.67 L334.25,42.77 L334.50,42.87 L334.75,42.97 L335.00,43.06 L335.25,43.16 L335.50,43.26 L335.74,43.36 L335.99,43.46 L336.24,43.56 L336.49,43.66 L336.74,43.76 L336.99,43.86 L337.24,43.96 L337.49,44.06 L337.74,44.17 L337.99,44.27 L338.24,44.37 L338.49,44.48 L338.74,44.58 L338.99,44.68 L339.24,44.79 L339.49,44.89 L339.74,45.00 L339.99,45.10 L340.24,45.21 L340.49,45.32 L340.74,45.42 L340.99,45.53 L341.24,45.64 L341.49,45.75 L341.74,45.85 L341.99,45.96 L342.24,46.07 L342.49,46.18 L342.74,46.29 L342.99,46.40 L343.24,46.51 L343.49,46.62 L343.74,46.73 L343.99,46.85 L344.24,46.96 L344.49,47.07 L344.74,47.18 L344.99,47.30 L345.24,47.41 L345.49,47.52 L345.74,47.64 L345.99,47.75 L346.24,47.87 L346.49,47.98 L346.74,48.10 L346.99,48.21 L347.24,48.33 L347.49,48.45 L347.74,48.56 L347.99,48.68 L348.24,48.80 L348.49,48.92 L348.74,49.03 L348.99,49.15 L349.24,49.27 L349.49,49.39 L349.74,49.51 L349.99,49.63 L350.24,49.75 L350.49,49.87 L350.74,49.99 L350.99,50.12 L351.24,50.24 L351.49,50.36 L351.74,50.48 L351.99,50.61 L352.24,50.73 L352.49,50.85 L352.74,50.98 L352.99,51.10 L353.24,51.23 L353.49,51.35 L353.74,51.48 L353.99,51.60 L354.24,51.73 L354.49,51.86 L354.74,51.98 L354.99,52.11 L355.24,52.24 L355.49,52.36 L355.74,52.49 L355.99,52.62 L356.24,52.75 L356.49,52.88 L356.74,53.01 L356.99,53.14 L357.23,53.27 L357.48,53.40 L357.73,53.53 L357.98,53.66 L358.23,53.79 L358.48,53.93 L358.73,54.06 L358.98,54.19 L359.23,54.32 L359.48,54.46 L359.73,54.59 L359.98,54.73 L360.23,54.86 L360.48,55.00 L360.73,55.13 L360.98,55.27 L361.23,55.40 L361.48,55.54 L361.73,55.67 L361.98,55.81 L362.23,55.95 L362.48,56.09 L362.73,56.22 L362.98,56.36 L363.23,56.50 L363.48,56.64 L363.73,56.78 L363.98,56.92 L364.23,57.06 L364.48,57.20 L364.73,57.34 L364.98,57.48 L365.23,57.62 L365.48,57.76 L365.73,57.91 L365.98,58.05 L366.23,58.19 L366.48,58.33 L366.73,58.48 L366.98,58.62 L367.23,58.77 L367.48,58.91 L367.73,59.05 L367.98,59.20 L368.23,59.35 L368.48,59.49 L368.73,59.64 L368.98,59.78 L369.23,59.93 L369.48,60.08 L369.73,60.23 L369.98,60.37 L370.23,60.52 L370.48,60.67 L370.73,60.82 L370.98,60.97 L371.23,61.12 L371.48,61.27 L371.73,61.42 L371.98,61.57 L372.23,61.72 L372.48,61.87 L372.73,62.02 L372.98,62.18 L373.23,62.33 L373.48,62.48 L373.73,62.63 L373.98,62.79 L374.23,62.94 L374.48,63.10 L374.73,63.25 L374.98,63.40 L375.23,63.56 L375.48,63.72 L375.73,63.87 L375.98,64.03 L376.23,64.18 L376.48,64.34 L376.73,64.50 L376.98,64.66 L377.23,64.82 L377.48,64.97 L377.73,65.13 L377.98,65.29 L378.23,65.45 L378.48,65.61 L378.72,65.77 L378.97,65.93 L379.22,66.09 L379.47,66.25 L379.72,66.42 L379.97,66.58 L380.22,66.74 L380.47,66.90 L380.72,67.07 L380.97,67.23 L381.22,67.39 L381.47,67.56 L381.72,67.72 L381.97,67.89 L382.22,68.05 L382.47,68.22 L382.72,68.39 L382.97,68.55 L383.22,68.72 L383.47,68.89 L383.72,69.05 L383.97,69.22 L384.22,69.39 L384.47,69.56 L384.72,69.73 L384.97,69.90 L385.22,70.07 L385.47,70.24 L385.72,70.41 L385.97,70.58 L386.22,70.75 L386.47,70.92 L386.72,71.10 L386.97,71.27 L387.22,71.44 L387.47,71.62 L387.72,71.79 L387.97,71.96 L388.22,72.14 L388.47,72.31 L388.72,72.49 L388.97,72.66 L389.22,72.84 L389.47,73.02 L389.72,73.19 L389.97,73.37 L390.22,73.55 L390.47,73.73 L390.72,73.91 L390.97,74.09 L391.22,74.27 L391.47,74.45 L391.72,74.63 L391.97,74.81 L392.22,74.99 L392.47,75.17 L392.72,75.35 L392.97,75.53 L393.22,75.72 L393.47,75.90 L393.72,76.08 L393.97,76.27 L394.22,76.45 L394.47,76.64 L394.72,76.82 L394.97,77.01 L395.22,77.19 L395.47,77.38 L395.72,77.57 L395.97,77.76 L396.22,77.94 L396.47,78.13 L396.72,78.32 L396.97,78.51 L397.22,78.70 L397.47,78.89 L397.72,79.08 L397.97,79.27 L398.22,79.46 L398.47,79.65 L398.72,79.85 L398.97,80.04 L399.22,80.23 L399.47,80.43 L399.72,80.62 L399.96,80.82 L400.21,81.01 L400.46,81.21 L400.71,81.40 L400.96,81.60 L401.21,81.80 L401.46,82.00 L401.71,82.19 L401.96,82.39 L402.21,82.59 L402.46,82.79 L402.71,82.99 L402.96,83.19 L403.21,83.39 L403.46,83.59 L403.71,83.80 L403.96,84.00 L404.21,84.20 L404.46,84.41 L404.71,84.61 L404.96,84.81 L405.21,85.02 L405.46,85.23 L405.71,85.43 L405.96,85.64 L406.21,85.85 L406.46,86.05 L406.71,86.26 L406.96,86.47 L407.21,86.68 L407.46,86.89 L407.71,87.10 L407.96,87.31 L408.21,87.52 L408.46,87.73 L408.71,87.95 L408.96,88.16 L409.21,88.37 L409.46,88.59 L409.71,88.80 L409.96,89.02 L410.21,89.24 L410.46,89.45 L410.71,89.67 L410.96,89.89 L411.21,90.11 L411.46,90.32 L411.71,90.54 L411.96,90.76 L412.21,90.98 L412.46,91.21 L412.71,91.43 L412.96,91.65 L413.21,91.87 L413.46,92.10 L413.71,92.32 L413.96,92.55 L414.21,92.77 L414.46,93.00 L414.71,93.23 L414.96,93.45 L415.21,93.68 L415.46,93.91 L415.71,94.14 L415.96,94.37 L416.21,94.60 L416.46,94.83 L416.71,95.07 L416.96,95.30 L417.21,95.53 L417.46,95.77 L417.71,96.00 L417.96,96.24 L418.21,96.47 L418.46,96.71 L418.71,96.95 L418.96,97.19 L419.21,97.43 L419.46,97.67 L419.71,97.91 L419.96,98.15 L420.21,98.39 L420.46,98.63 L420.71,98.88 L420.96,99.12 L421.21,99.37 L421.45,99.61 L421.70,99.86 L421.95,100.11 L422.20,100.36 L422.45,100.60 L422.70,100.85 L422.95,101.10 L423.20,101.36 L423.45,101.61 L423.70,101.86 L423.95,102.12 L424.20,102.37 L424.45,102.63 L424.70,102.88 L424.95,103.14 L425.20,103.40 L425.45,103.66 L425.70,103.92 L425.95,104.18 L426.20,104.44 L426.45,104.70 L426.70,104.96 L426.95,105.23 L427.20,105.49 L427.45,105.76 L427.70,106.03 L427.95,106.30 L428.20,106.56 L428.45,106.83 L428.70,107.10 L428.95,107.38 L429.20,107.65 L429.45,107.92 L429.70,108.20 L429.95,108.47 L430.20,108.75 L430.45,109.03 L430.70,109.31 L430.95,109.59 L431.20,109.87 L431.45,110.15 L431.70,110.43 L431.95,110.72 L432.20,111.00 L432.45,111.29 L432.70,111.57 L432.95,111.86 L433.20,112.15 L433.45,112.44 L433.70,112.73 L433.95,113.03 L434.20,113.32 L434.45,113.62 L434.70,113.91 L434.95,114.21 L435.20,114.51 L435.45,114.81 L435.70,115.11 L435.95,115.41 L436.20,115.72 L436.45,116.02 L436.70,116.33 L436.95,116.64 L437.20,116.94 L437.45,117.25 L437.70,117.57 L437.95,117.88 L438.20,118.19 L438.45,118.51 L438.70,118.82 L438.95,119.14 L439.20,119.46 L439.45,119.78 L439.70,120.11 L439.95,120.43 L440.20,120.76 L440.45,121.08 L440.70,121.41 L440.95,121.74 L441.20,122.07 L441.45,122.40 L441.70,122.74 L441.95,123.07 L442.20,123.41 L442.45,123.75 L442.70,124.09 L442.94,124.43 L443.19,124.78 L443.44,125.12 L443.69,125.47 L443.94,125.82 L444.19,126.17 L444.44,126.52 L444.69,126.88 L444.94,127.24 L445.19,127.59 L445.44,127.95 L445.69,128.31 L445.94,128.68 L446.19,129.04 L446.44,129.41 L446.69,129.78 L446.94,130.15 L447.19,130.53 L447.44,130.90 L447.69,131.28 L447.94,131.66 L448.19,132.04 L448.44,132.42 L448.69,132.81 L448.94,133.20 L449.19,133.59 L449.44,133.98 L449.69,134.37 L449.94,134.77 L450.19,135.17 L450.44,135.57 L450.69,135.97 L450.94,136.38 L451.19,136.79 L451.44,137.20 L451.69,137.61 L451.94,138.03 L452.19,138.45 L452.44,138.87 L452.69,139.29 L452.94,139.72 L453.19,140.15 L453.44,140.58 L453.69,141.02 L453.94,141.45 L454.19,141.89 L454.44,142.34 L454.69,142.78 L454.94,143.23 L455.19,143.69 L455.44,144.14 L455.69,144.60 L455.94,145.06 L456.19,145.53 L456.44,146.00 L456.69,146.47 L456.94,146.94 L457.19,147.42 L457.44,147.90 L457.69,148.39 L457.94,148.88 L458.19,149.37 L458.44,149.87 L458.69,150.37 L458.94,150.87 L459.19,151.38 L459.44,151.89 L459.69,152.41 L459.94,152.93 L460.19,153.45 L460.44,153.98 L460.69,154.51 L460.94,155.05 L461.19,155.59 L461.44,156.14 L461.69,156.69 L461.94,157.24 L462.19,157.81 L462.44,158.37 L462.69,158.94 L462.94,159.52 L463.19,160.10 L463.44,160.68 L463.69,161.27 L463.94,161.87 L464.19,162.47 L464.43,163.08 L464.68,163.70 L464.93,164.32 L465.18,164.94 L465.43,165.57 L465.68,166.21 L465.93,166.86 L466.18,167.51 L466.43,168.17 L466.68,168.83 L466.93,169.50 L467.18,170.18 L467.43,170.87 L467.68,171.57 L467.93,172.27 L468.18,172.98 L468.43,173.70 L468.68,174.42 L468.93,175.16 L469.18,175.90 L469.43,176.65 L469.68,177.42 L469.93,178.19 L470.18,178.97 L470.43,179.76 L470.68,180.56 L470.93,181.37 L471.18,182.19 L471.43,183.03 L471.68,183.87 L471.93,184.73 L472.18,185.60 L472.43,186.48 L472.68,187.37 L472.93,188.28 L473.18,189.20 L473.43,190.13 L473.50,190.38 L473.68,191.08 L473.93,192.04 L474.00,192.31 L474.18,193.02 L474.43,194.01 L474.68,195.02 L474.93,196.05 L475.18,197.09 L475.42,198.11 L475.68,199.24 L475.86,200.05 L475.93,200.34 L476.18,201.46 L476.29,201.97 L476.43,202.61 L476.68,203.77 L476.93,204.96 L477.11,205.83 L477.18,206.17 L477.43,207.40 L477.50,207.75 L477.68,208.66 L477.88,209.68 L477.93,209.95 L478.18,211.27 L478.24,211.60 L478.43,212.61 L478.59,213.52 L478.68,213.99 L478.93,215.40 L479.18,216.84 L479.27,217.36 L479.43,218.31 L479.59,219.28 L479.68,219.83 L479.90,221.20 L480.18,222.97 L480.43,224.61 L480.49,225.03 L480.68,226.29 L480.77,226.95 L480.93,228.02 L481.05,228.86 L481.18,229.81 L481.31,230.78 L481.43,231.65 L481.57,232.69 L481.68,233.54 L481.81,234.60 L481.93,235.50 L482.05,236.51 L482.18,237.52 L482.28,238.42 L482.43,239.62 L484.80,271.00 L486.00,302.00 L486.70,320.00 L488.00,351.00 L489.10,382.00 L489.80,403.70 L490.30,382.00 L491.60,351.00 L493.40,320.00 L494.70,302.00 L496.30,271.00 L496.41,239.56 L496.64,237.69 L496.88,235.82 L496.92,235.49 L497.13,233.95 L497.17,233.62 L497.38,232.07 L497.42,231.80 L497.65,230.20 L497.92,228.33 L498.17,226.66 L498.42,225.05 L498.49,224.60 L498.67,223.48 L498.79,222.73 L498.92,221.95 L499.10,220.86 L499.17,220.47 L499.42,219.02 L499.67,217.60 L499.75,217.13 L499.92,216.22 L500.10,215.26 L500.17,214.88 L500.42,213.56 L500.67,212.27 L500.81,211.53 L500.92,211.02 L501.17,209.79 L501.42,208.58 L501.58,207.81 L501.67,207.40 L501.92,206.25 L501.98,205.95 L502.17,205.11 L502.40,204.09 L502.67,202.92 L502.83,202.23 L502.92,201.85 L503.17,200.80 L503.27,200.37 L503.42,199.77 L503.67,198.76 L503.73,198.51 L503.92,197.77 L504.17,196.79 L504.42,195.83 L504.67,194.89 L504.92,193.96 L505.17,193.05 L505.42,192.15 L505.67,191.26 L505.92,190.39 L506.17,189.54 L506.42,188.69 L506.67,187.86 L506.92,187.04 L507.16,186.23 L507.41,185.44 L507.66,184.65 L507.91,183.88 L508.16,183.11 L508.41,182.36 L508.66,181.61 L508.91,180.88 L509.16,180.16 L509.41,179.44 L509.66,178.73 L509.91,178.04 L510.16,177.35 L510.41,176.67 L510.66,176.00 L510.91,175.33 L511.16,174.68 L511.41,174.03 L511.66,173.39 L511.91,172.75 L512.16,172.13 L512.41,171.51 L512.66,170.89 L512.91,170.29 L513.16,169.69 L513.41,169.09 L513.66,168.51 L513.91,167.93 L514.16,167.35 L514.41,166.78 L514.66,166.22 L514.91,165.66 L515.16,165.11 L515.41,164.56 L515.66,164.02 L515.91,163.49 L516.16,162.96 L516.41,162.43 L516.66,161.91 L516.91,161.39 L517.16,160.88 L517.41,160.38 L517.66,159.87 L517.91,159.38 L518.16,158.88 L518.41,158.40 L518.66,157.91 L518.91,157.43 L519.16,156.96 L519.41,156.48 L519.66,156.02 L519.91,155.55 L520.16,155.09 L520.41,154.64 L520.66,154.18 L520.91,153.74 L521.16,153.29 L521.41,152.85 L521.66,152.41 L521.91,151.98 L522.16,151.55 L522.41,151.12 L522.66,150.70 L522.91,150.27 L523.16,149.86 L523.41,149.44 L523.66,149.03 L523.91,148.62 L524.16,148.22 L524.41,147.82 L524.66,147.42 L524.91,147.02 L525.16,146.63 L525.41,146.24 L525.66,145.85 L525.91,145.46 L526.16,145.08 L526.41,144.70 L526.66,144.32 L526.91,143.95 L527.16,143.58 L527.41,143.21 L527.66,142.84 L527.91,142.48 L528.16,142.11 L528.41,141.75 L528.65,141.40 L528.90,141.04 L529.15,140.69 L529.40,140.34 L529.65,139.99 L529.90,139.65 L530.15,139.30 L530.40,138.96 L530.65,138.62 L530.90,138.29 L531.15,137.95 L531.40,137.62 L531.65,137.29 L531.90,136.96 L532.15,136.63 L532.40,136.31 L532.65,135.98 L532.90,135.66 L533.15,135.34 L533.40,135.03 L533.65,134.71 L533.90,134.40 L534.15,134.09 L534.40,133.78 L534.65,133.47 L534.90,133.16 L535.15,132.86 L535.40,132.56 L535.65,132.25 L535.90,131.96 L536.15,131.66 L536.40,131.36 L536.65,131.07 L536.90,130.77 L537.15,130.48 L537.40,130.19 L537.65,129.91 L537.90,129.62 L538.15,129.33 L538.40,129.05 L538.65,128.77 L538.90,128.49 L539.15,128.21 L539.40,127.93 L539.65,127.66 L539.90,127.38 L540.15,127.11 L540.40,126.84 L540.65,126.57 L540.90,126.30 L541.15,126.03 L541.40,125.77 L541.65,125.50 L541.90,125.24 L542.15,124.98 L542.40,124.71 L542.65,124.46 L542.90,124.20 L543.15,123.94 L543.40,123.68 L543.65,123.43 L543.90,123.18 L544.15,122.92 L544.40,122.67 L544.65,122.42 L544.90,122.18 L545.15,121.93 L545.40,121.68 L545.65,121.44 L545.90,121.19 L546.15,120.95 L546.40,120.71 L546.65,120.47 L546.90,120.23 L547.15,119.99 L547.40,119.76 L547.65,119.52 L547.90,119.29 L548.15,119.05 L548.40,118.82 L548.65,118.59 L548.90,118.36 L549.15,118.13 L549.40,117.90 L549.65,117.67 L549.89,117.45 L550.14,117.22 L550.39,117.00 L550.64,116.77 L550.89,116.55 L551.14,116.33 L551.39,116.11 L551.64,115.89 L551.89,115.67 L552.14,115.45 L552.39,115.23 L552.64,115.02 L552.89,114.80 L553.14,114.59 L553.39,114.38 L553.64,114.16 L553.89,113.95 L554.14,113.74 L554.39,113.53 L554.64,113.32 L554.89,113.12 L555.14,112.91 L555.39,112.70 L555.64,112.50 L555.89,112.29 L556.14,112.09 L556.39,111.89 L556.64,111.69 L556.89,111.48 L557.14,111.28 L557.39,111.09 L557.64,110.89 L557.89,110.69 L558.14,110.49 L558.39,110.30 L558.64,110.10 L558.89,109.90 L559.14,109.71 L559.39,109.52 L559.64,109.33 L559.89,109.13 L560.14,108.94 L560.39,108.75 L560.64,108.56 L560.89,108.37 L561.14,108.19 L561.39,108.00 L561.64,107.81 L561.89,107.63 L562.14,107.44 L562.39,107.26 L562.64,107.07 L562.89,106.89 L563.14,106.71 L563.39,106.53 L563.64,106.35 L563.89,106.17 L564.14,105.99 L564.39,105.81 L564.64,105.63 L564.89,105.45 L565.14,105.27 L565.39,105.10 L565.64,104.92 L565.89,104.75 L566.14,104.57 L566.39,104.40 L566.64,104.23 L566.89,104.05 L567.14,103.88 L567.39,103.71 L567.64,103.54 L567.89,103.37 L568.14,103.20 L568.39,103.03 L568.64,102.87 L568.89,102.70 L569.14,102.53 L569.39,102.37 L569.64,102.20 L569.89,102.03 L570.14,101.87 L570.39,101.71 L570.64,101.54 L570.89,101.38 L571.14,101.22 L571.38,101.06 L571.63,100.90 L571.88,100.74 L572.13,100.58 L572.38,100.42 L572.63,100.26 L572.88,100.10 L573.13,99.94 L573.38,99.79 L573.63,99.63 L573.88,99.47 L574.13,99.32 L574.38,99.16 L574.63,99.01 L574.88,98.85 L575.13,98.70 L575.38,98.55 L575.63,98.40 L575.88,98.24 L576.13,98.09 L576.38,97.94 L576.63,97.79 L576.88,97.64 L577.13,97.49 L577.38,97.35 L577.63,97.20 L577.88,97.05 L578.13,96.90 L578.38,96.76 L578.63,96.61 L578.88,96.46 L579.13,96.32 L579.38,96.17 L579.63,96.03 L579.88,95.89 L580.13,95.74 L580.38,95.60 L580.63,95.46 L580.88,95.32 L581.13,95.18 L581.38,95.04 L581.63,94.89 L581.88,94.76 L582.13,94.62 L582.38,94.48 L582.63,94.34 L582.88,94.20 L583.13,94.06 L583.38,93.93 L583.63,93.79 L583.88,93.65 L584.13,93.52 L584.38,93.38 L584.63,93.25 L584.88,93.11 L585.13,92.98 L585.38,92.85 L585.63,92.71 L585.88,92.58 L586.13,92.45 L586.38,92.32 L586.63,92.18 L586.88,92.05 L587.13,91.92 L587.38,91.79 L587.63,91.66 L587.88,91.53 L588.13,91.41 L588.38,91.28 L588.63,91.15 L588.88,91.02 L589.13,90.90 L589.38,90.77 L589.63,90.64 L589.88,90.52 L590.13,90.39 L590.38,90.27 L590.63,90.14 L590.88,90.02 L591.13,89.89 L591.38,89.77 L591.63,89.65 L591.88,89.52 L592.13,89.40 L592.38,89.28 L592.63,89.16 L592.87,89.04 L593.12,88.92 L593.37,88.80 L593.62,88.68 L593.87,88.56 L594.12,88.44 L594.37,88.32 L594.62,88.20 L594.87,88.08 L595.12,87.97 L595.37,87.85 L595.62,87.73 L595.87,87.62 L596.12,87.50 L596.37,87.38 L596.62,87.27 L596.87,87.15 L597.12,87.04 L597.37,86.92 L597.62,86.81 L597.87,86.70 L598.12,86.58 L598.37,86.47 L598.62,86.36 L598.87,86.25 L599.12,86.14 L599.37,86.02 L599.62,85.91 L599.87,85.80 L600.12,85.69 L600.37,85.58 L600.62,85.47 L600.87,85.36 L601.12,85.26 L601.37,85.15 L601.62,85.04 L601.87,84.93 L602.12,84.82 L602.37,84.72 L602.62,84.61 L602.87,84.50 L603.12,84.40 L603.37,84.29 L603.62,84.19 L603.87,84.08 L604.12,83.98 L604.37,83.87 L604.62,83.77 L604.87,83.67 L605.12,83.56 L605.37,83.46 L605.62,83.36 L605.87,83.25 L606.12,83.15 L606.37,83.05 L606.62,82.95 L606.87,82.85 L607.12,82.75 L607.37,82.65 L607.62,82.55 L607.87,82.45 L608.12,82.35 L608.37,82.25 L608.62,82.15 L608.87,82.05 L609.12,81.95 L609.37,81.86 L609.62,81.76 L609.87,81.66 L610.12,81.57 L610.37,81.47 L610.62,81.37 L610.87,81.28 L611.12,81.18 L611.37,81.09 L611.62,80.99 L611.87,80.90 L612.12,80.80 L612.37,80.71 L612.62,80.62 L612.87,80.52 L613.12,80.43 L613.37,80.34 L613.62,80.24 L613.87,80.15 L614.11,80.06 L614.36,79.97 L614.61,79.88 L614.86,79.79 L615.11,79.70 L615.36,79.61 L615.61,79.52 L615.86,79.43 L616.11,79.34 L616.36,79.25 L616.61,79.16 L616.86,79.07 L617.11,78.98 L617.36,78.90 L617.61,78.81 L617.86,78.72 L618.11,78.63 L618.36,78.55 L618.61,78.46 L618.86,78.37 L619.11,78.29 L619.36,78.20 L619.61,78.12 L619.86,78.03 L620.11,77.95 L620.36,77.86 L620.61,77.78 L620.86,77.70 L621.11,77.61 L621.36,77.53 L621.61,77.45 L621.86,77.36 L622.11,77.28 L622.36,77.20 L622.61,77.12 L622.86,77.04 L623.11,76.96 L623.36,76.88 L623.61,76.79 L623.86,76.71 L624.11,76.63 L624.36,76.55 L624.61,76.47 L624.86,76.40 L625.11,76.32 L625.36,76.24 L625.61,76.16 L625.86,76.08 L626.11,76.00 L626.36,75.93 L626.61,75.85 L626.86,75.77 L627.11,75.70 L627.36,75.62 L627.61,75.54 L627.86,75.47 L628.11,75.39 L628.36,75.32 L628.61,75.24 L628.86,75.17 L629.11,75.09 L629.36,75.02 L629.61,74.94 L629.86,74.87 L630.11,74.80 L630.36,74.72 L630.61,74.65 L630.86,74.58 L631.11,74.51 L631.36,74.43 L631.61,74.36 L631.86,74.29 L632.11,74.22 L632.36,74.15 L632.61,74.08 L632.86,74.01 L633.11,73.94 L633.36,73.87 L633.61,73.80 L633.86,73.73 L634.11,73.66 L634.36,73.59 L634.61,73.52 L634.86,73.45 L635.11,73.39 L635.36,73.32 L635.60,73.25 L635.85,73.18 L636.10,73.12 L636.35,73.05 L636.60,72.98 L636.85,72.92 L637.10,72.85 L637.35,72.79 L637.60,72.72 L637.85,72.66 L638.10,72.59 L638.35,72.53 L638.60,72.46 L638.85,72.40 L639.10,72.33 L639.35,72.27 L639.60,72.21 L639.85,72.14 L640.10,72.08 L640.35,72.02 L640.60,71.96 L640.85,71.89 L641.10,71.83 L641.35,71.77 L641.60,71.71 L641.85,71.65 L642.10,71.59 L642.35,71.53 L642.60,71.47 L642.85,71.41 L643.10,71.35 L643.35,71.29 L643.60,71.23 L643.85,71.17 L644.10,71.11 L644.35,71.05 L644.60,70.99 L644.85,70.94 L645.10,70.88 L645.35,70.82 L645.60,70.76 L645.85,70.71 L646.10,70.65 L646.35,70.59 L646.60,70.54 L646.85,70.48 L647.10,70.43 L647.35,70.37 L647.60,70.32 L647.85,70.26 L648.10,70.21 L648.35,70.15 L648.60,70.10 L648.85,70.04 L649.10,69.99 L649.35,69.94 L649.60,69.88 L649.85,69.83 L650.10,69.78 L650.35,69.73 L650.60,69.67 L650.85,69.62 L651.10,69.57 L651.35,69.52 L651.60,69.47 L651.85,69.42 L652.10,69.37 L652.35,69.32 L652.60,69.26 L653.10,69.17 L653.60,69.07 L654.10,68.97 L654.60,68.87 L655.10,68.78 L655.60,68.68 L656.10,68.59 L656.60,68.50 L657.09,68.40 L657.59,68.31 L658.09,68.22 L658.59,68.14 L659.09,68.05 L659.59,67.96 L660.09,67.87 L660.59,67.79 L661.09,67.71 L661.59,67.62 L662.09,67.54 L662.59,67.46 L663.09,67.38 L663.59,67.30 L664.09,67.22 L664.59,67.15 L665.09,67.07 L665.59,67.00 L666.09,66.92 L666.59,66.85 L667.09,66.78 L667.59,66.71 L668.09,66.64 L668.59,66.57 L669.09,66.50 L669.59,66.44 L670.09,66.37 L670.59,66.30 L671.09,66.24 L671.59,66.18 L672.09,66.12 L672.59,66.06 L673.09,66.00 L673.59,65.94 L674.09,65.88 L674.59,65.82 L675.09,65.77 L675.59,65.71 L676.09,65.66 L676.59,65.61 L677.09,65.56 L677.59,65.51 L678.09,65.46 L678.58,65.41 L679.08,65.36 L679.58,65.32 L680.08,65.27 L680.58,65.23 L681.08,65.18 L681.58,65.14 L682.08,65.10 L682.58,65.06 L683.08,65.03 L683.58,64.99 L684.08,64.95 L684.58,64.92 L685.08,64.88 L685.58,64.85 L686.08,64.82 L686.58,64.79 L687.08,64.76 L687.58,64.73 L688.08,64.71 L688.58,64.68 L689.08,64.66 L689.58,64.63 L690.08,64.61 L690.58,64.59 L691.08,64.57 L691.58,64.55 L692.08,64.54 L692.58,64.52 L693.08,64.51 L693.58,64.49 L694.08,64.48 L694.58,64.47 L695.08,64.46 L695.58,64.46 L696.08,64.45 L696.58,64.44 L697.08,64.44 L697.58,64.44 L698.08,64.44 L698.58,64.44 L699.08,64.44 L699.58,64.45 L700.07,64.45 L700.57,64.46 L701.07,64.47 L701.57,64.48 L702.07,64.49 L702.57,64.50 L703.07,64.52 L703.57,64.54 L704.07,64.55 L704.57,64.57 L705.07,64.60 L705.57,64.62 L706.07,64.65 L706.57,64.67 L707.07,64.70 L707.57,64.74 L708.07,64.77 L708.57,64.80 L709.07,64.84 L709.57,64.88 L710.07,64.92 L710.57,64.97 L711.07,65.01 L711.57,65.06 L712.07,65.11 L712.57,65.17 L713.07,65.22 L713.57,65.28 L714.07,65.34 L714.57,65.40 L715.07,65.47 L715.57,65.54 L716.07,65.61 L716.57,65.69 L717.07,65.76 L717.57,65.84 L718.07,65.93 L718.57,66.02 L719.07,66.11 L719.57,66.20 L720.07,66.30 L720.32,66.35 L720.57,66.40 L720.82,66.45 L721.07,66.50 L721.31,66.56 L721.56,66.61 L721.81,66.67 L722.06,66.73 L722.31,66.78 L722.56,66.84 L722.81,66.90 L723.06,66.96 L723.31,67.03 L723.56,67.09 L723.81,67.15 L724.06,67.22 L724.31,67.29 L724.56,67.36 L724.81,67.43 L725.06,67.50 L725.31,67.57 L725.56,67.64 L725.81,67.72 L726.06,67.79 L726.31,67.87 L726.56,67.95 L726.81,68.03 L727.06,68.11 L727.31,68.20 L727.56,68.28 L727.81,68.37 L728.06,68.46 L728.31,68.54 L728.56,68.64 L728.81,68.73 L729.06,68.82 L729.31,68.92 L729.56,69.02 L729.81,69.12 L730.06,69.22 L730.31,69.33 L730.56,69.43 L730.81,69.54 L731.06,69.65 L731.31,69.77 L731.56,69.88 L731.81,70.00 L732.06,70.12 L732.31,70.24 L732.56,70.37 L732.81,70.49 L733.06,70.62 L733.31,70.76 L733.56,70.89 L733.81,71.03 L734.06,71.17 L734.31,71.32 L734.56,71.46 L734.81,71.61 L735.06,71.77 L735.31,71.93 L735.56,72.09 L735.81,72.25 L736.06,72.42 L736.31,72.59 L736.53,72.75 L736.81,72.95 L737.06,73.14 L737.31,73.32 L737.56,73.52 L737.81,73.72 L738.06,73.92 L738.31,74.13 L738.56,74.35 L738.81,74.57 L739.06,74.79 L739.31,75.02 L739.56,75.26 L739.81,75.51 L740.06,75.76 L740.31,76.02 L740.54,76.27 L740.81,76.56 L740.96,76.73 L741.31,77.14 L741.56,77.44 L741.74,77.67 L742.06,78.08 L742.31,78.41 L742.47,78.63 L742.80,79.11 L743.05,79.48 L743.30,79.86 L743.45,80.09 L743.75,80.59 L744.04,81.09 L744.30,81.55 L744.55,82.02 L744.80,82.51 L745.05,83.02 L745.30,83.56 L745.55,84.12 L745.78,84.66 L745.99,85.18 L746.20,85.71 L746.30,85.99 L746.39,86.23 L746.55,86.69 L746.76,87.29 L746.93,87.82 L747.05,88.21 L747.26,88.89 L747.41,89.43 L747.55,89.96 L747.70,90.51 L747.80,90.93 L747.96,91.60 L748.05,91.98 L748.21,92.70 L748.30,93.13 L748.44,93.80 L748.54,94.35 L748.65,94.90 L748.75,95.46 L748.80,95.79 L748.93,96.57 L749.02,97.13 L749.10,97.69 L749.18,98.25 L749.26,98.81 L749.30,99.11 L749.41,99.94 L749.48,100.50 L749.54,101.06 L749.61,101.63 L749.67,102.20 L749.73,102.76 L749.78,103.33 L749.84,103.90 L749.89,104.47 L749.94,105.04 L749.99,105.61 L750.03,106.18 L750.08,106.75 L750.12,107.32 L750.16,107.89 L750.20,108.47 L750.24,109.04 L750.27,109.62 L750.30,110.09 L750.34,110.76 L750.37,111.34 L750.40,111.91 L750.43,112.49 L750.46,113.07 L750.49,113.64 L750.52,114.22 L750.54,114.80 L750.56,115.38 L750.59,115.95 L750.61,116.53 L750.63,117.11 L750.65,117.69 L750.67,118.27 L750.69,118.85 L750.71,119.43 L750.73,120.01 L750.74,120.59 L750.76,121.17 L750.78,121.75 L750.79,122.33 L750.80,122.71 L750.82,123.49 L750.83,124.07 L750.85,124.65 L750.86,125.23 L750.87,125.81 L750.88,126.40 L750.89,126.98 L750.90,127.56 L750.91,128.14 L750.92,128.72 L750.93,129.31 L750.94,129.89 L750.95,130.47 L750.96,131.05 L750.97,131.64 L750.97,132.22 L750.98,132.80 L750.99,133.38 L750.99,133.97 L751.00,134.55 L751.01,135.13 L751.01,135.72 L751.02,136.30 L751.02,136.88 L751.03,137.47 L751.03,138.05 L751.04,138.64 L751.04,139.22 L751.05,139.80 " stroke="#ffc0cb"/>
<path d="M237.74,40.48 L237.99,40.74 L238.24,40.99 L238.49,41.24 L238.74,41.50 L238.99,41.75 L239.24,42.01 L239.49,42.26 L239.74,42.52 L239.99,42.77 L240.24,43.03 L240.49,43.29 L240.74,43.55 L240.99,43.81 L241.24,44.07 L241.49,44.32 L241.74,44.59 L241.99,44.85 L242.24,45.11 L242.49,45.37 L242.74,45.63 L242.98,45.89 L243.23,46.16 L243.48,46.42 L243.73,46.69 L243.98,46.95 L244.23,47.22 L244.48,47.48 L244.73,47.75 L244.98,48.02 L245.23,48.29 L245.48,48.56 L245.73,48.83 L245.98,49.10 L246.23,49.37 L246.48,49.64 L246.73,49.91 L246.98,50.18 L247.23,50.46 L247.48,50.73 L247.73,51.01 L247.98,51.28 L248.23,51.56 L248.48,51.84 L248.73,52.11 L248.98,52.39 L249.23,52.67 L249.48,52.95 L249.73,53.23 L249.98,53.51 L250.22,53.79 L250.47,54.08 L250.72,54.36 L250.97,54.65 L251.22,54.93 L251.47,55.22 L251.72,55.50 L251.97,55.79 L252.22,56.08 L252.47,56.37 L252.72,56.66 L252.97,56.95 L253.22,57.24 L253.47,57.53 L253.72,57.83 L253.97,58.12 L254.22,58.42 L254.47,58.71 L254.72,59.01 L254.97,59.31 L255.22,59.61 L255.47,59.91 L255.72,60.21 L255.97,60.51 L256.22,60.81 L256.47,61.12 L256.72,61.42 L256.97,61.73 L257.21,62.03 L257.46,62.34 L257.71,62.65 L257.96,62.96 L258.21,63.27 L258.46,63.58 L258.71,63.89 L258.96,64.21 L259.21,64.52 L259.46,64.84 L259.71,65.16 L259.96,65.47 L260.21,65.79 L260.46,66.11 L260.71,66.44 L260.96,66.76 L261.21,67.08 L261.46,67.41 L261.71,67.74 L261.96,68.06 L262.21,68.39 L262.46,68.72 L262.71,69.06 L262.96,69.39 L263.21,69.72 L263.46,70.06 L263.71,70.39 L263.96,70.73 L264.21,71.07 L264.45,71.41 L264.70,71.76 L264.95,72.10 L265.20,72.45 L265.45,72.79 L265.70,73.14 L265.95,73.49 L266.20,73.84 L266.45,74.19 L266.70,74.55 L266.95,74.90 L267.20,75.26 L267.45,75.62 L267.70,75.98 L267.95,76.34 L268.20,76.71 L268.45,77.07 L268.70,77.44 L268.95,77.81 L269.20,78.18 L269.45,78.55 L269.70,78.93 L269.95,79.30 L270.20,79.68 L270.45,80.06 L270.70,80.44 L270.95,80.83 L271.20,81.21 L271.45,81.60 L271.69,81.99 L271.94,82.38 L272.19,82.77 L272.44,83.17 L272.69,83.56 L272.94,83.96 L273.19,84.37 L273.44,84.77 L273.69,85.18 L273.94,85.58 L274.19,85.99 L274.44,86.41 L274.69,86.82 L274.94,87.24 L275.19,87.66 L275.44,88.08 L275.69,88.51 L275.94,88.93 L276.19,89.36 L276.44,89.80 L276.69,90.23 L276.94,90.67 L277.19,91.11 L277.44,91.55 L277.69,92.00 L277.94,92.44 L278.19,92.90 L278.44,93.35 L278.69,93.81 L278.93,94.27 L279.18,94.73 L279.43,95.20 L279.68,95.66 L279.93,96.14 L280.18,96.61 L280.43,97.09 L280.68,97.57 L280.93,98.06 L281.18,98.55 L281.43,99.04 L281.68,99.53 L281.93,100.03 L282.18,100.54 L282.43,101.04 L282.68,101.55 L282.93,102.07 L283.18,102.59 L283.43,103.11 L283.68,103.63 L283.93,104.16 L284.18,104.70 L284.43,105.24 L284.68,105.78 L284.93,106.33 L285.18,106.88 L285.43,107.44 L285.68,108.00 L285.93,108.56 L286.17,109.13 L286.42,109.71 L286.67,110.29 L286.92,110.87 L287.17,111.47 L287.42,112.06 L287.67,112.66 L287.92,113.27 L288.17,113.88 L288.42,114.50 L288.67,115.13 L288.92,115.76 L289.17,116.39 L289.42,117.04 L289.67,117.69 L289.92,118.34 L290.17,119.00 L290.42,119.67 L290.67,120.35 L290.92,121.03 L291.17,121.72 L291.42,122.42 L291.67,123.13 L291.92,123.84 L292.17,124.56 L292.42,125.29 L292.67,126.03 L292.92,126.78 L293.17,127.54 L293.41,128.30 L293.66,129.08 L293.91,129.86 L294.16,130.65 L294.41,131.46 L294.66,132.27 L294.91,133.10 L295.16,133.93 L295.41,134.78 L295.66,135.64 L295.91,136.51 L296.16,137.39 L296.41,138.29 L296.66,139.20 L296.91,140.12 L297.16,141.06 L297.41,142.01 L297.66,142.97 L297.72,143.22 L297.91,143.95 L298.16,144.95 L298.41,145.96 L298.66,146.99 L298.91,148.04 L299.14,149.03 L299.41,150.18 L299.58,150.97 L299.66,151.29 L299.91,152.41 L300.01,152.90 L300.16,153.55 L300.40,154.72 L300.65,155.91 L300.83,156.76 L300.90,157.12 L301.15,158.36 L301.22,158.69 L301.40,159.62 L301.60,160.62 L301.65,160.91 L301.90,162.22 L301.96,162.54 L302.15,163.57 L302.32,164.46 L302.40,164.95 L302.65,166.35 L302.90,167.80 L302.99,168.31 L303.15,169.27 L303.31,170.23 L303.40,170.79 L303.62,172.15 L303.90,173.93 L304.15,175.57 L304.21,175.99 L304.40,177.25 L304.49,177.90 L304.65,178.99 L304.77,179.82 L304.90,180.77 L305.03,181.73 L305.15,182.61 L305.29,183.65 L305.40,184.50 L305.53,185.56 L305.65,186.46 L305.77,187.47 L305.90,188.48 L306.01,189.38 L306.15,190.58 L306.23,191.29 L306.40,192.75 L306.45,193.20 L306.65,195.00 L306.86,197.02 L306.90,197.34 L307.06,198.93 L307.15,199.77 L307.25,200.84 L307.40,202.31 L307.44,202.74 L307.62,204.65 L307.64,204.97 L307.79,206.56 L307.89,207.75 L307.96,208.46 L308.12,210.37 L308.14,210.66 L308.28,212.27 L308.39,213.72 L308.43,214.17 L309.30,228.80 L310.70,242.50 L311.80,256.30 L312.70,270.10 L313.70,286.30 L314.90,270.10 L315.60,256.30 L316.40,242.50 L317.30,228.80 L317.70,214.91 L317.86,213.03 L317.88,212.73 L318.01,211.15 L318.13,209.79 L318.18,209.27 L318.34,207.39 L318.38,206.99 L318.52,205.52 L318.63,204.33 L318.70,203.64 L318.88,201.78 L319.07,199.88 L319.13,199.34 L319.27,198.01 L319.38,197.00 L319.47,196.13 L319.63,194.75 L319.68,194.26 L319.88,192.58 L320.13,190.51 L320.36,188.63 L320.60,186.76 L320.85,184.88 L321.10,183.01 L321.37,181.14 L321.63,179.36 L321.88,177.69 L321.92,177.39 L322.12,176.08 L322.21,175.52 L322.37,174.50 L322.51,173.65 L322.62,172.97 L322.82,171.78 L322.87,171.48 L323.12,170.03 L323.37,168.61 L323.47,168.05 L323.62,167.23 L323.82,166.18 L323.87,165.88 L324.12,164.56 L324.17,164.31 L324.37,163.27 L324.54,162.44 L324.62,162.01 L324.87,160.78 L325.12,159.57 L325.30,158.71 L325.37,158.39 L325.62,157.23 L325.70,156.85 L325.87,156.10 L326.12,154.99 L326.37,153.89 L326.55,153.12 L326.62,152.82 L326.87,151.77 L326.99,151.26 L327.12,150.74 L327.37,149.73 L327.45,149.40 L327.62,148.73 L327.87,147.75 L328.12,146.79 L328.37,145.84 L328.62,144.91 L328.87,144.00 L329.12,143.09 L329.36,142.21 L329.61,141.33 L329.86,140.47 L330.11,139.63 L330.36,138.79 L330.61,137.97 L330.86,137.16 L331.11,136.36 L331.36,135.57 L331.61,134.79 L331.86,134.02 L332.11,133.27 L332.36,132.52 L332.61,131.78 L332.86,131.05 L333.11,130.34 L333.36,129.63 L333.61,128.93 L333.86,128.23 L334.11,127.55 L334.36,126.87 L334.61,126.21 L334.86,125.55 L335.11,124.90 L335.36,124.25 L335.61,123.61 L335.86,122.98 L336.11,122.36 L336.36,121.74 L336.60,121.13 L336.85,120.53 L337.10,119.93 L337.35,119.34 L337.60,118.76 L337.85,118.18 L338.10,117.61 L338.35,117.04 L338.60,116.48 L338.85,115.92 L339.10,115.37 L339.35,114.83 L339.60,114.29 L339.85,113.75 L340.10,113.22 L340.35,112.70 L340.60,112.18 L340.85,111.66 L341.10,111.15 L341.35,110.65 L341.60,110.15 L341.85,109.65 L342.10,109.16 L342.35,108.67 L342.60,108.18 L342.85,107.70 L343.10,107.23 L343.35,106.76 L343.60,106.29 L343.84,105.82 L344.09,105.36 L344.34,104.91 L344.59,104.45 L344.84,104.00 L345.09,103.56 L345.34,103.12 L345.59,102.68 L345.84,102.24 L346.09,101.81 L346.34,101.38 L346.59,100.96 L346.84,100.53 L347.09,100.11 L347.34,99.70 L347.59,99.29 L347.84,98.88 L348.09,98.47 L348.34,98.07 L348.59,97.66 L348.84,97.27 L349.09,96.87 L349.34,96.48 L349.59,96.09 L349.84,95.70 L350.09,95.32 L350.34,94.93 L350.59,94.55 L350.83,94.18 L351.08,93.80 L351.33,93.43 L351.58,93.06 L351.83,92.69 L352.08,92.33 L352.33,91.97 L352.58,91.61 L352.83,91.25 L353.08,90.89 L353.33,90.54 L353.58,90.19 L353.83,89.84 L354.08,89.49 L354.33,89.15 L354.58,88.81 L354.83,88.47 L355.08,88.13 L355.33,87.79 L355.58,87.46 L355.83,87.13 L356.08,86.80 L356.33,86.47 L356.58,86.14 L356.83,85.82 L357.08,85.49 L357.33,85.17 L357.58,84.85 L357.83,84.54 L358.07,84.22 L358.32,83.91 L358.57,83.60 L358.82,83.29 L359.07,82.98 L359.32,82.67 L359.57,82.37 L359.82,82.06 L360.07,81.76 L360.32,81.46 L360.57,81.16 L360.82,80.87 L361.07,80.57 L361.32,80.28 L361.57,79.98 L361.82,79.69 L362.07,79.40 L362.32,79.12 L362.57,78.83 L362.82,78.55 L363.07,78.26 L363.32,77.98 L363.57,77.70 L363.82,77.42 L364.07,77.14 L364.32,76.87 L364.57,76.59 L364.82,76.32 L365.07,76.05 L365.31,75.77 L365.56,75.50 L365.81,75.24 L366.06,74.97 L366.31,74.70 L366.56,74.44 L366.81,74.18 L367.06,73.91 L367.31,73.65 L367.56,73.39 L367.81,73.13 L368.06,72.88 L368.31,72.62 L368.56,72.37 L368.81,72.11 L369.06,71.86 L369.31,71.61 L369.56,71.36 L369.81,71.11 L370.06,70.86 L370.31,70.61 L370.56,70.37 L370.81,70.12 L371.06,69.88 L371.31,69.64 L371.56,69.40 L371.81,69.16 L372.06,68.92 L372.31,68.68 L372.55,68.44 L372.80,68.20 L373.05,67.97 L373.30,67.73 L373.55,67.50 L373.80,67.27 L374.05,67.04 L374.30,66.81 L374.55,66.58 L374.80,66.35 L375.05,66.12 L375.30,65.89 L375.55,65.67 L375.80,65.44 L376.05,65.22 L376.30,65.00 L376.55,64.77 L376.80,64.55 L377.05,64.33 L377.30,64.11 L377.55,63.89 L377.80,63.68 L378.05,63.46 L378.30,63.24 L378.55,63.03 L378.80,62.81 L379.05,62.60 L379.30,62.39 L379.55,62.18 L379.79,61.97 L380.04,61.76 L380.29,61.55 L380.54,61.34 L380.79,61.13 L381.04,60.92 L381.29,60.72 L381.54,60.51 L381.79,60.31 L382.04,60.10 L382.29,59.90 L382.54,59.70 L382.79,59.50 L383.04,59.29 L383.29,59.09 L383.54,58.89 L383.79,58.70 L384.04,58.50 L384.29,58.30 L384.54,58.10 L384.79,57.91 L385.04,57.71 L385.29,57.52 L385.54,57.32 L385.79,57.13 L386.04,56.94 L386.29,56.75 L386.54,56.56 L386.79,56.37 L387.03,56.18 L387.28,55.99 L387.53,55.80 L387.78,55.61 L388.03,55.42 L388.28,55.24 L388.53,55.05 L388.78,54.87 L389.03,54.68 L389.28,54.50 L389.53,54.32 L389.78,54.13 L390.03,53.95 L390.28,53.77 L390.53,53.59 L390.78,53.41 L391.03,53.23 L391.28,53.05 L391.53,52.87 L391.78,52.69 L392.03,52.52 L392.28,52.34 L392.53,52.17 L392.78,51.99 L393.03,51.82 L393.28,51.64 L393.53,51.47 L393.78,51.29 L394.02,51.12 L394.27,50.95 L394.52,50.78 L394.77,50.61 L395.02,50.44 L395.27,50.27 L395.52,50.10 L395.77,49.93 L396.02,49.76 L396.27,49.59 L396.52,49.43 L396.77,49.26 L397.02,49.09 L397.27,48.93 L397.52,48.76 L397.77,48.60 L398.02,48.44 L398.27,48.27 L398.52,48.11 L398.77,47.95 L399.02,47.79 L399.27,47.62 L399.52,47.46 L399.77,47.30 L400.02,47.14 L400.27,46.98 L400.52,46.83 L400.77,46.67 L401.02,46.51 L401.26,46.35 L401.51,46.20 L401.76,46.04 L402.01,45.88 L402.26,45.73 L402.51,45.57 L402.76,45.42 L403.01,45.26 L403.26,45.11 L403.51,44.96 L403.76,44.80 L404.01,44.65 L404.26,44.50 L404.51,44.35 L404.76,44.20 L405.01,44.05 L405.26,43.90 L405.51,43.75 L405.76,43.60 L406.01,43.45 L406.26,43.30 L406.51,43.15 L406.76,43.01 L407.01,42.86 L407.26,42.71 L407.51,42.57 L407.76,42.42 L408.01,42.28 L408.26,42.13 L408.50,41.99 L408.75,41.84 L409.00,41.70 L409.25,41.56 L409.50,41.42 L409.75,41.27 L410.00,41.13 L410.25,40.99 L410.50,40.85 L410.75,40.71 L411.00,40.57 L411.25,40.43 " stroke="#b8860b"/>
<path d="M690.74,40.41 L690.99,40.49 L691.24,40.56 L691.49,40.64 L691.74,40.71 L691.99,40.78 L692.24,40.86 L692.49,40.93 L692.74,41.01 L692.98,41.08 L693.23,41.16 L693.48,41.24 L693.73,41.31 L693.98,41.39 L694.23,41.46 L694.48,41.54 L694.73,41.62 L694.98,41.69 L695.23,41.77 L695.48,41.85 L695.73,41.92 L695.98,42.00 L696.22,42.08 L696.47,42.16 L696.72,42.23 L696.97,42.31 L697.22,42.39 L697.47,42.47 L697.72,42.55 L697.97,42.63 L698.22,42.71 L698.47,42.79 L698.72,42.87 L698.97,42.94 L699.22,43.03 L699.46,43.11 L699.71,43.19 L699.96,43.27 L700.21,43.35 L700.46,43.43 L700.71,43.51 L700.96,43.59 L701.21,43.67 L701.46,43.76 L701.71,43.84 L701.96,43.92 L702.21,44.00 L702.46,44.09 L702.70,44.17 L702.95,44.25 L703.20,44.34 L703.45,44.42 L703.70,44.51 L703.95,44.59 L704.20,44.68 L704.45,44.76 L704.70,44.85 L704.95,44.94 L705.20,45.02 L705.45,45.11 L705.70,45.20 L705.95,45.28 L706.19,45.37 L706.44,45.46 L706.69,45.55 L706.94,45.64 L707.19,45.72 L707.44,45.81 L707.69,45.90 L707.94,45.99 L708.19,46.08 L708.44,46.18 L708.69,46.27 L708.94,46.36 L709.19,46.45 L709.43,46.54 L709.68,46.64 L709.93,46.73 L710.18,46.82 L710.43,46.92 L710.68,47.01 L710.93,47.11 L711.18,47.20 L711.43,47.30 L711.68,47.39 L711.93,47.49 L712.18,47.59 L712.43,47.68 L712.67,47.78 L712.92,47.88 L713.17,47.98 L713.42,48.08 L713.67,48.18 L713.92,48.28 L714.17,48.38 L714.42,48.48 L714.67,48.58 L714.92,48.69 L715.17,48.79 L715.42,48.89 L715.67,49.00 L715.91,49.10 L716.16,49.21 L716.41,49.31 L716.66,49.42 L716.91,49.53 L717.16,49.63 L717.41,49.74 L717.66,49.85 L717.91,49.96 L718.16,50.07 L718.41,50.18 L718.66,50.29 L718.91,50.41 L719.15,50.52 L719.40,50.63 L719.65,50.75 L719.90,50.86 L720.15,50.98 L720.40,51.10 L720.65,51.21 L720.90,51.33 L721.15,51.45 L721.40,51.57 L721.65,51.69 L721.90,51.81 L722.15,51.94 L722.39,52.06 L722.64,52.18 L722.89,52.31 L723.14,52.44 L723.39,52.56 L723.64,52.69 L723.89,52.82 L724.14,52.95 L724.39,53.08 L724.64,53.21 L724.89,53.35 L725.14,53.48 L725.39,53.62 L725.63,53.75 L725.88,53.89 L726.13,54.03 L726.38,54.17 L726.63,54.31 L726.88,54.45 L727.13,54.60 L727.38,54.74 L727.63,54.89 L727.88,55.04 L728.13,55.19 L728.38,55.34 L728.63,55.49 L728.87,55.64 L729.12,55.80 L729.37,55.95 L729.62,56.11 L729.87,56.27 L730.12,56.43 L730.37,56.60 L730.62,56.76 L730.87,56.93 L731.12,57.10 L731.37,57.27 L731.62,57.44 L731.87,57.61 L732.11,57.79 L732.36,57.97 L732.61,58.15 L732.86,58.33 L733.11,58.51 L733.36,58.70 L733.61,58.89 L733.86,59.08 L734.11,59.28 L734.36,59.47 L734.61,59.67 L734.86,59.87 L735.11,60.08 L735.35,60.29 L735.60,60.50 L735.85,60.71 L736.10,60.93 L736.35,61.15 L736.60,61.37 L736.83,61.58 L737.10,61.83 L737.35,62.06 L737.60,62.30 L737.85,62.54 L738.05,62.74 L738.35,63.04 L738.60,63.29 L738.84,63.55 L739.09,63.81 L739.34,64.08 L739.59,64.35 L739.84,64.63 L740.09,64.92 L740.34,65.20 L740.59,65.50 L740.84,65.80 L741.09,66.11 L741.34,66.42 L741.59,66.74 L741.84,67.07 L742.06,67.38 L742.33,67.75 L742.48,67.96 L742.83,68.47 L743.08,68.84 L743.27,69.12 L743.58,69.61 L743.83,70.01 L743.99,70.28 L744.33,70.85 L744.58,71.29 L744.83,71.74 L744.98,72.02 L745.28,72.60 L745.57,73.18 L745.82,73.70 L746.07,74.24 L746.32,74.80 L746.57,75.37 L746.82,75.98 L747.07,76.61 L747.31,77.24 L747.52,77.82 L747.72,78.40 L747.82,78.68 L747.92,78.98 L748.07,79.44 L748.28,80.14 L748.46,80.72 L748.56,81.10 L748.78,81.89 L748.93,82.47 L749.06,82.97 L749.22,83.63 L749.31,84.01 L749.49,84.79 L749.56,85.13 L749.61,85.38 L749.74,85.96 L749.81,86.34 L749.96,87.12 L750.06,87.66 L750.17,88.29 L750.27,88.87 L750.36,89.45 L750.46,90.04 L750.54,90.62 L750.63,91.20 L750.71,91.79 L750.79,92.37 L750.86,92.95 L750.93,93.53 L751.00,94.12 L751.06,94.62 L751.13,95.29 L751.19,95.87 L751.25,96.45 L751.31,97.04 L751.36,97.62 L751.41,98.20 L751.46,98.79 L751.51,99.37 L751.56,99.95 L751.60,100.54 L751.64,101.12 L751.68,101.71 L751.72,102.29 L751.76,102.88 L751.80,103.46 L751.83,104.04 L751.86,104.63 L751.90,105.21 L751.93,105.80 L751.96,106.38 L751.99,106.97 L752.01,107.55 L752.04,108.13 L752.05,108.46 L752.09,109.30 L752.11,109.89 L752.14,110.47 L752.16,111.06 L752.18,111.64 L752.20,112.23 L752.22,112.81 L752.23,113.40 L752.25,113.98 L752.27,114.57 L752.29,115.15 L752.30,115.73 L752.32,116.32 L752.33,116.90 L752.34,117.49 L752.36,118.07 L752.37,118.66 L752.38,119.24 L752.39,119.83 L752.41,120.41 L752.42,121.00 L752.43,121.58 L752.44,122.17 L752.45,122.75 L752.46,123.34 L752.47,123.92 " stroke="#000"/>
<path d="M79.2,57.6H752.7" stroke="#8b0000" stroke-width="3.4"/>
</g>
<rect x="79.2" y="41.4" width="673.5" height="471.20000000000005" fill="none" stroke="#000" stroke-width="1.4"/>
<text transform="translate(87.5 32.5) scale(1 1.04)" font-size="22.7" text-anchor="middle" font-family="Liberation Sans, sans-serif" font-weight="bold" >55</text>
<text transform="translate(161.0 32.5) scale(1 1.04)" font-size="22.7" text-anchor="middle" font-family="Liberation Sans, sans-serif" font-weight="bold" >100</text>
<text transform="translate(242.7 32.5) scale(1 1.04)" font-size="22.7" text-anchor="middle" font-family="Liberation Sans, sans-serif" font-weight="bold" >150</text>
<text transform="translate(324.4 32.5) scale(1 1.04)" font-size="22.7" text-anchor="middle" font-family="Liberation Sans, sans-serif" font-weight="bold" >200</text>
<text transform="translate(487.8 32.5) scale(1 1.04)" font-size="22.7" text-anchor="middle" font-family="Liberation Sans, sans-serif" font-weight="bold" >300</text>
<text transform="translate(569.5 32.5) scale(1 1.04)" font-size="22.7" text-anchor="middle" font-family="Liberation Sans, sans-serif" font-weight="bold" >350</text>
<text transform="translate(651.2 32.5) scale(1 1.04)" font-size="22.7" text-anchor="middle" font-family="Liberation Sans, sans-serif" font-weight="bold" >400</text>
<text transform="translate(732.9 32.5) scale(1 1.04)" font-size="22.7" text-anchor="middle" font-family="Liberation Sans, sans-serif" font-weight="bold" >450</text>
<text transform="translate(78.9 537.2) scale(1 1.04)" font-size="22.7" text-anchor="middle" font-family="Liberation Sans, sans-serif" font-weight="bold" >5</text>
<text transform="translate(137.6 537.2) scale(1 1.04)" font-size="22.7" text-anchor="middle" font-family="Liberation Sans, sans-serif" font-weight="bold" >10</text>
<text transform="translate(255.0 537.2) scale(1 1.04)" font-size="22.7" text-anchor="middle" font-family="Liberation Sans, sans-serif" font-weight="bold" >20</text>
<text transform="translate(372.5 537.2) scale(1 1.04)" font-size="22.7" text-anchor="middle" font-family="Liberation Sans, sans-serif" font-weight="bold" >30</text>
<text transform="translate(489.9 537.2) scale(1 1.04)" font-size="22.7" text-anchor="middle" font-family="Liberation Sans, sans-serif" font-weight="bold" >40</text>
<text transform="translate(607.4 537.2) scale(1 1.04)" font-size="22.7" text-anchor="middle" font-family="Liberation Sans, sans-serif" font-weight="bold" >50</text>
<text transform="translate(724.9 537.2) scale(1 1.04)" font-size="22.7" text-anchor="middle" font-family="Liberation Sans, sans-serif" font-weight="bold" >60</text>
<text transform="translate(69.3 68.2) scale(1 1.04)" font-size="28.7" text-anchor="end" font-family="Liberation Sans, sans-serif" font-weight="bold" >5.74</text>
<text transform="translate(762.4 53.1) scale(1 1.04)" font-size="28.7" text-anchor="start" font-family="Liberation Sans, sans-serif" font-weight="bold" >10</text>
<text transform="translate(794.3 39.6) scale(1 1.04)" font-size="23" text-anchor="start" font-family="Liberation Sans, sans-serif" font-weight="bold" >1</text>
<text transform="translate(762.4 120.4) scale(1 1.04)" font-size="28.7" text-anchor="start" font-family="Liberation Sans, sans-serif" font-weight="bold" >10</text>
<text transform="translate(794.3 106.9) scale(1 1.04)" font-size="23" text-anchor="start" font-family="Liberation Sans, sans-serif" font-weight="bold" >0</text>
<text transform="translate(762.4 187.7) scale(1 1.04)" font-size="28.7" text-anchor="start" font-family="Liberation Sans, sans-serif" font-weight="bold" >10</text>
<text transform="translate(794.3 174.2) scale(1 1.04)" font-size="23" text-anchor="start" font-family="Liberation Sans, sans-serif" font-weight="bold" >-1</text>
<text transform="translate(762.4 255.0) scale(1 1.04)" font-size="28.7" text-anchor="start" font-family="Liberation Sans, sans-serif" font-weight="bold" >10</text>
<text transform="translate(794.3 241.5) scale(1 1.04)" font-size="23" text-anchor="start" font-family="Liberation Sans, sans-serif" font-weight="bold" >-2</text>
<text transform="translate(762.4 322.3) scale(1 1.04)" font-size="28.7" text-anchor="start" font-family="Liberation Sans, sans-serif" font-weight="bold" >10</text>
<text transform="translate(794.3 308.8) scale(1 1.04)" font-size="23" text-anchor="start" font-family="Liberation Sans, sans-serif" font-weight="bold" >-3</text>
<text transform="translate(762.4 389.6) scale(1 1.04)" font-size="28.7" text-anchor="start" font-family="Liberation Sans, sans-serif" font-weight="bold" >10</text>
<text transform="translate(794.3 376.1) scale(1 1.04)" font-size="23" text-anchor="start" font-family="Liberation Sans, sans-serif" font-weight="bold" >-4</text>
<text transform="translate(762.4 456.9) scale(1 1.04)" font-size="28.7" text-anchor="start" font-family="Liberation Sans, sans-serif" font-weight="bold" >10</text>
<text transform="translate(794.3 443.4) scale(1 1.04)" font-size="23" text-anchor="start" font-family="Liberation Sans, sans-serif" font-weight="bold" >-5</text>
<text transform="translate(762.4 524.2) scale(1 1.04)" font-size="28.7" text-anchor="start" font-family="Liberation Sans, sans-serif" font-weight="bold" >10</text>
<text transform="translate(794.3 510.7) scale(1 1.04)" font-size="23" text-anchor="start" font-family="Liberation Sans, sans-serif" font-weight="bold" >-6</text>
<text transform="translate(390.3 24.7) scale(1 1.04)" font-size="25" text-anchor="start" font-family="Liberation Sans, sans-serif" font-weight="bold" >tan</text>
<text x="428.6" y="24.7" font-size="24.5" textLength="13" lengthAdjust="spacingAndGlyphs" font-family="Liberation Serif, serif">β</text>
<text transform="translate(340.4 560.3) scale(1 1.04)" font-size="28.7" text-anchor="start" font-family="Liberation Sans, sans-serif" font-weight="bold" >m</text>
<text transform="translate(365.9 569.0) scale(1 1.04)" font-size="23.8" text-anchor="start" font-family="Liberation Sans, sans-serif" font-weight="bold" >S</text>
<text transform="translate(381.7 557.6) scale(1 1.04)" font-size="18" text-anchor="start" font-family="Liberation Sans, sans-serif" font-weight="bold" >0</text>
<text transform="translate(400.0 560.3) scale(1 1.04)" font-size="28.7" text-anchor="start" font-family="Liberation Sans, sans-serif" font-weight="bold" >in GeV</text>
<g transform="translate(24.8,400.6) rotate(-90)">
<text x="0" y="0" font-size="24" font-family="Liberation Serif, serif">Γ</text>
<text transform="translate(13.3 0) scale(1 1.04)" font-size="24" text-anchor="start" font-family="Liberation Sans, sans-serif" font-weight="bold" >(h</text>
<text transform="translate(35.2 -11.6) scale(1 1.04)" font-size="19" text-anchor="start" font-family="Liberation Sans, sans-serif" font-weight="bold" >0</text>
<path d="M53.4,-6H73.4 M67.6,-11.4L73.4,-6L67.6,-0.6" stroke="#000" stroke-width="1.2" fill="none"/>
<text transform="translate(87.2 0) scale(1 1.04)" font-size="24" text-anchor="start" font-family="Liberation Sans, sans-serif" font-weight="bold" >S</text>
<text transform="translate(102.7 -11.6) scale(1 1.04)" font-size="19" text-anchor="start" font-family="Liberation Sans, sans-serif" font-weight="bold" >0</text>
<text transform="translate(119.5 1.8) scale(1 1.04)" font-size="24" text-anchor="start" font-family="Liberation Sans, sans-serif" font-weight="bold" >+</text>
<text transform="translate(139.2 0) scale(1 1.04)" font-size="24" text-anchor="start" font-family="Liberation Sans, sans-serif" font-weight="bold" >S</text>
<text transform="translate(154.4 -11.6) scale(1 1.04)" font-size="19" text-anchor="start" font-family="Liberation Sans, sans-serif" font-weight="bold" >0</text>
<text transform="translate(164.8 0) scale(1 1.04)" font-size="24" text-anchor="start" font-family="Liberation Sans, sans-serif" font-weight="bold" textLength="88.2" lengthAdjust="spacing">) in MeV</text>
</g>
<text transform="translate(266.9 331.8) scale(1 1.04)" font-size="23" text-anchor="start" font-family="Liberation Sans, sans-serif" font-weight="bold" >100 GeV</text><text transform="translate(358.0 320.3) scale(1 1.04)" font-size="18.4" text-anchor="start" font-family="Liberation Sans, sans-serif" font-weight="bold" >2</text>
<text transform="translate(454.4 434.8) scale(1 1.04)" font-size="23" text-anchor="start" font-family="Liberation Sans, sans-serif" font-weight="bold" >50 GeV</text><text transform="translate(532.7 423.3) scale(1 1.04)" font-size="18.4" text-anchor="start" font-family="Liberation Sans, sans-serif" font-weight="bold" >2</text>
<text transform="translate(654.1 388.6) scale(1 1.04)" font-size="23" text-anchor="start" font-family="Liberation Sans, sans-serif" font-weight="bold" >30 GeV</text><text transform="translate(732.4 377.1) scale(1 1.04)" font-size="18.4" text-anchor="start" font-family="Liberation Sans, sans-serif" font-weight="bold" >2</text>
<rect x="137.5" y="405.5" width="176" height="96" fill="#fff" stroke="#222" stroke-width="0.9"/>
<text transform="translate(151.2 434.8) scale(1 1.04)" font-size="23" text-anchor="start" font-family="Liberation Sans, sans-serif" font-weight="bold" >m</text>
<text transform="translate(172.4 442.0) scale(1 1.04)" font-size="18.3" text-anchor="start" font-family="Liberation Sans, sans-serif" font-weight="bold" >H</text>
<text transform="translate(186.4 434.5) scale(1 1.04)" font-size="13.8" text-anchor="start" font-family="Liberation Sans, sans-serif" font-weight="bold" >0</text>
<text transform="translate(199.9 434.8) scale(1 1.04)" font-size="23" text-anchor="start" font-family="Liberation Sans, sans-serif" font-weight="bold" >= 600 GeV</text>
<text transform="translate(151.2 478.1) scale(1 1.04)" font-size="23" text-anchor="start" font-family="Liberation Sans, sans-serif" font-weight="bold" >m</text>
<text transform="translate(172.4 485.3) scale(1 1.04)" font-size="18.3" text-anchor="start" font-family="Liberation Sans, sans-serif" font-weight="bold" >A</text>
<text transform="translate(186.4 477.8) scale(1 1.04)" font-size="13.8" text-anchor="start" font-family="Liberation Sans, sans-serif" font-weight="bold" >0</text>
<text transform="translate(199.9 478.1) scale(1 1.04)" font-size="23" text-anchor="start" font-family="Liberation Sans, sans-serif" font-weight="bold" >= 400 GeV</text>
<text transform="translate(631.0 462.5) scale(1 1.04)" font-size="28.7" text-anchor="end" font-family="Liberation Sans, sans-serif" font-weight="bold" >Forbidden</text>
<g clip-path="url(#cleg)"><path d="M601.84,470.00 L631.84,440.00 M608.36,470.00 L638.36,440.00 M614.88,470.00 L644.88,440.00 M621.40,470.00 L651.40,440.00 M627.92,470.00 L657.92,440.00 M634.44,470.00 L664.44,440.00 M640.96,470.00 L670.96,440.00 M647.48,470.00 L677.48,440.00 M654.00,470.00 L684.00,440.00 M660.52,470.00 L690.52,440.00 M667.04,470.00 L697.04,440.00 M673.56,470.00 L703.56,440.00 M680.08,470.00 L710.08,440.00 M686.60,470.00 L716.60,440.00 M693.12,470.00 L723.12,440.00 M699.64,470.00 L729.64,440.00 M706.16,470.00 L736.16,440.00 M712.68,470.00 L742.68,440.00 M719.20,470.00 L749.20,440.00 M725.72,470.00 L755.72,440.00 M732.24,470.00 L762.24,440.00 M738.76,470.00 L768.76,440.00 M745.28,470.00 L775.28,440.00  M598.80,440.00 L628.80,470.00 M605.32,440.00 L635.32,470.00 M611.84,440.00 L641.84,470.00 M618.36,440.00 L648.36,470.00 M624.88,440.00 L654.88,470.00 M631.40,440.00 L661.40,470.00 M637.92,440.00 L667.92,470.00 M644.44,440.00 L674.44,470.00 M650.96,440.00 L680.96,470.00 M657.48,440.00 L687.48,470.00 M664.00,440.00 L694.00,470.00 M670.52,440.00 L700.52,470.00 M677.04,440.00 L707.04,470.00 M683.56,440.00 L713.56,470.00 M690.08,440.00 L720.08,470.00 M696.60,440.00 L726.60,470.00 M703.12,440.00 L733.12,470.00 M709.64,440.00 L739.64,470.00 M716.16,440.00 L746.16,470.00 M722.68,440.00 L752.68,470.00 M729.20,440.00 L759.20,470.00 M735.72,440.00 L765.72,470.00 M742.24,440.00 L772.24,470.00 " stroke="#8b0000" stroke-width="2.0" fill="none"/></g>
<rect x="648.8" y="446.6" width="77.4" height="14.7" fill="none" stroke="#8b0000" stroke-width="3.4"/>
<text transform="translate(537.6 501.0) scale(1 1.04)" font-size="28.7" text-anchor="start" font-family="Liberation Sans, sans-serif" font-weight="bold" >0 GeV</text>
<text transform="translate(619.6 486.8) scale(1 1.04)" font-size="22.2" text-anchor="start" font-family="Liberation Sans, sans-serif" font-weight="bold" >2</text>
<path d="M649.2,488.5H726" stroke="#000" stroke-width="3"/>
</svg>
</body></html>
